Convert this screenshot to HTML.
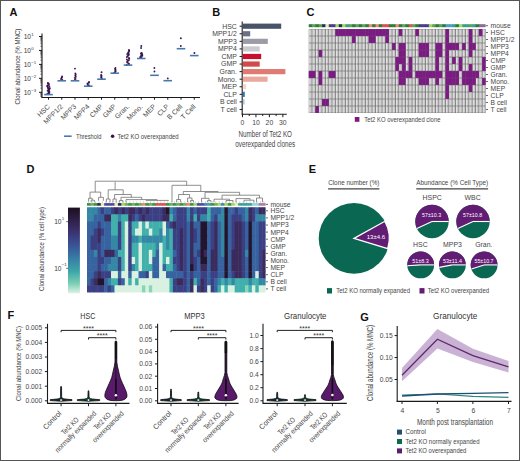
<!DOCTYPE html>
<html><head><meta charset="utf-8"><style>
html,body{margin:0;padding:0;background:#fff;}
body{width:520px;height:461px;overflow:hidden;}
svg{display:block;font-family:"Liberation Sans", sans-serif;}
</style></head><body>
<svg width="520" height="461" viewBox="0 0 520 461" shape-rendering="auto">
<rect x="0" y="0" width="520" height="461" fill="#fff"/>
<text x="9.4" y="16.4" font-size="11" text-anchor="start" fill="#111" font-weight="bold" >A</text>
<text x="212.2" y="16.4" font-size="11" text-anchor="start" fill="#111" font-weight="bold" >B</text>
<text x="306.6" y="16.4" font-size="11" text-anchor="start" fill="#111" font-weight="bold" >C</text>
<text x="26.6" y="172.8" font-size="11" text-anchor="start" fill="#111" font-weight="bold" >D</text>
<text x="308.8" y="173" font-size="11" text-anchor="start" fill="#111" font-weight="bold" >E</text>
<text x="7.6" y="318.8" font-size="11" text-anchor="start" fill="#111" font-weight="bold" >F</text>
<text x="360.2" y="321" font-size="11" text-anchor="start" fill="#111" font-weight="bold" >G</text>
<line x1="42" y1="33.5" x2="42" y2="98" stroke="#1a1a1a" stroke-width="1.1" />
<line x1="41.5" y1="97.5" x2="200" y2="97.5" stroke="#1a1a1a" stroke-width="1.1" />
<line x1="39" y1="36.5" x2="42" y2="36.5" stroke="#1a1a1a" stroke-width="1" />
<text x="31" y="38.8" font-size="6.6" text-anchor="end" fill="#3a3a3a" >10</text>
<text x="31.2" y="36.1" font-size="4.4" text-anchor="start" fill="#3a3a3a" >1</text>
<line x1="39" y1="50.45" x2="42" y2="50.45" stroke="#1a1a1a" stroke-width="1" />
<text x="31" y="52.75" font-size="6.6" text-anchor="end" fill="#3a3a3a" >10</text>
<text x="31.2" y="50.05" font-size="4.4" text-anchor="start" fill="#3a3a3a" >0</text>
<line x1="39" y1="64.4" x2="42" y2="64.4" stroke="#1a1a1a" stroke-width="1" />
<text x="31" y="66.7" font-size="6.6" text-anchor="end" fill="#3a3a3a" >10</text>
<text x="31.2" y="64" font-size="4.4" text-anchor="start" fill="#3a3a3a" >−1</text>
<line x1="39" y1="78.35" x2="42" y2="78.35" stroke="#1a1a1a" stroke-width="1" />
<text x="31" y="80.65" font-size="6.6" text-anchor="end" fill="#3a3a3a" >10</text>
<text x="31.2" y="77.95" font-size="4.4" text-anchor="start" fill="#3a3a3a" >−2</text>
<line x1="39" y1="92.3" x2="42" y2="92.3" stroke="#1a1a1a" stroke-width="1" />
<text x="31" y="94.6" font-size="6.6" text-anchor="end" fill="#3a3a3a" >10</text>
<text x="31.2" y="91.9" font-size="4.4" text-anchor="start" fill="#3a3a3a" >−3</text>
<line x1="40.4" y1="46.25" x2="42" y2="46.25" stroke="#1a1a1a" stroke-width="0.6" />
<line x1="40.4" y1="43.79" x2="42" y2="43.79" stroke="#1a1a1a" stroke-width="0.6" />
<line x1="40.4" y1="42.05" x2="42" y2="42.05" stroke="#1a1a1a" stroke-width="0.6" />
<line x1="40.4" y1="40.7" x2="42" y2="40.7" stroke="#1a1a1a" stroke-width="0.6" />
<line x1="40.4" y1="39.59" x2="42" y2="39.59" stroke="#1a1a1a" stroke-width="0.6" />
<line x1="40.4" y1="38.66" x2="42" y2="38.66" stroke="#1a1a1a" stroke-width="0.6" />
<line x1="40.4" y1="37.85" x2="42" y2="37.85" stroke="#1a1a1a" stroke-width="0.6" />
<line x1="40.4" y1="37.14" x2="42" y2="37.14" stroke="#1a1a1a" stroke-width="0.6" />
<line x1="40.4" y1="60.2" x2="42" y2="60.2" stroke="#1a1a1a" stroke-width="0.6" />
<line x1="40.4" y1="57.74" x2="42" y2="57.74" stroke="#1a1a1a" stroke-width="0.6" />
<line x1="40.4" y1="56" x2="42" y2="56" stroke="#1a1a1a" stroke-width="0.6" />
<line x1="40.4" y1="54.65" x2="42" y2="54.65" stroke="#1a1a1a" stroke-width="0.6" />
<line x1="40.4" y1="53.54" x2="42" y2="53.54" stroke="#1a1a1a" stroke-width="0.6" />
<line x1="40.4" y1="52.61" x2="42" y2="52.61" stroke="#1a1a1a" stroke-width="0.6" />
<line x1="40.4" y1="51.8" x2="42" y2="51.8" stroke="#1a1a1a" stroke-width="0.6" />
<line x1="40.4" y1="51.09" x2="42" y2="51.09" stroke="#1a1a1a" stroke-width="0.6" />
<line x1="40.4" y1="74.15" x2="42" y2="74.15" stroke="#1a1a1a" stroke-width="0.6" />
<line x1="40.4" y1="71.69" x2="42" y2="71.69" stroke="#1a1a1a" stroke-width="0.6" />
<line x1="40.4" y1="69.95" x2="42" y2="69.95" stroke="#1a1a1a" stroke-width="0.6" />
<line x1="40.4" y1="68.6" x2="42" y2="68.6" stroke="#1a1a1a" stroke-width="0.6" />
<line x1="40.4" y1="67.49" x2="42" y2="67.49" stroke="#1a1a1a" stroke-width="0.6" />
<line x1="40.4" y1="66.56" x2="42" y2="66.56" stroke="#1a1a1a" stroke-width="0.6" />
<line x1="40.4" y1="65.75" x2="42" y2="65.75" stroke="#1a1a1a" stroke-width="0.6" />
<line x1="40.4" y1="65.04" x2="42" y2="65.04" stroke="#1a1a1a" stroke-width="0.6" />
<line x1="40.4" y1="88.1" x2="42" y2="88.1" stroke="#1a1a1a" stroke-width="0.6" />
<line x1="40.4" y1="85.64" x2="42" y2="85.64" stroke="#1a1a1a" stroke-width="0.6" />
<line x1="40.4" y1="83.9" x2="42" y2="83.9" stroke="#1a1a1a" stroke-width="0.6" />
<line x1="40.4" y1="82.55" x2="42" y2="82.55" stroke="#1a1a1a" stroke-width="0.6" />
<line x1="40.4" y1="81.44" x2="42" y2="81.44" stroke="#1a1a1a" stroke-width="0.6" />
<line x1="40.4" y1="80.51" x2="42" y2="80.51" stroke="#1a1a1a" stroke-width="0.6" />
<line x1="40.4" y1="79.7" x2="42" y2="79.7" stroke="#1a1a1a" stroke-width="0.6" />
<line x1="40.4" y1="78.99" x2="42" y2="78.99" stroke="#1a1a1a" stroke-width="0.6" />
<line x1="40.4" y1="96.5" x2="42" y2="96.5" stroke="#1a1a1a" stroke-width="0.6" />
<line x1="40.4" y1="95.39" x2="42" y2="95.39" stroke="#1a1a1a" stroke-width="0.6" />
<line x1="40.4" y1="94.46" x2="42" y2="94.46" stroke="#1a1a1a" stroke-width="0.6" />
<line x1="40.4" y1="93.65" x2="42" y2="93.65" stroke="#1a1a1a" stroke-width="0.6" />
<line x1="40.4" y1="92.94" x2="42" y2="92.94" stroke="#1a1a1a" stroke-width="0.6" />
<text x="20" y="66.6" font-size="7.8" text-anchor="middle" fill="#454545" transform="rotate(-90 20 66.6)" textLength="76" lengthAdjust="spacingAndGlyphs" >Clonal abundance (% MNC)</text>
<line x1="48.5" y1="97.5" x2="48.5" y2="99.7" stroke="#1a1a1a" stroke-width="1" />
<text x="50.3" y="107.1" font-size="6.9" text-anchor="end" fill="#454545" transform="rotate(-45 50.3 107.1)" >HSC</text>
<line x1="61.75" y1="97.5" x2="61.75" y2="99.7" stroke="#1a1a1a" stroke-width="1" />
<text x="63.55" y="107.1" font-size="6.9" text-anchor="end" fill="#454545" transform="rotate(-45 63.55 107.1)" >MPP1/2</text>
<line x1="75" y1="97.5" x2="75" y2="99.7" stroke="#1a1a1a" stroke-width="1" />
<text x="76.8" y="107.1" font-size="6.9" text-anchor="end" fill="#454545" transform="rotate(-45 76.8 107.1)" >MPP3</text>
<line x1="88.25" y1="97.5" x2="88.25" y2="99.7" stroke="#1a1a1a" stroke-width="1" />
<text x="90.05" y="107.1" font-size="6.9" text-anchor="end" fill="#454545" transform="rotate(-45 90.05 107.1)" >MPP4</text>
<line x1="101.5" y1="97.5" x2="101.5" y2="99.7" stroke="#1a1a1a" stroke-width="1" />
<text x="103.3" y="107.1" font-size="6.9" text-anchor="end" fill="#454545" transform="rotate(-45 103.3 107.1)" >CMP</text>
<line x1="114.75" y1="97.5" x2="114.75" y2="99.7" stroke="#1a1a1a" stroke-width="1" />
<text x="116.55" y="107.1" font-size="6.9" text-anchor="end" fill="#454545" transform="rotate(-45 116.55 107.1)" >GMP</text>
<line x1="128" y1="97.5" x2="128" y2="99.7" stroke="#1a1a1a" stroke-width="1" />
<text x="129.8" y="107.1" font-size="6.9" text-anchor="end" fill="#454545" transform="rotate(-45 129.8 107.1)" >Gran.</text>
<line x1="141.25" y1="97.5" x2="141.25" y2="99.7" stroke="#1a1a1a" stroke-width="1" />
<text x="143.05" y="107.1" font-size="6.9" text-anchor="end" fill="#454545" transform="rotate(-45 143.05 107.1)" >Mono.</text>
<line x1="154.5" y1="97.5" x2="154.5" y2="99.7" stroke="#1a1a1a" stroke-width="1" />
<text x="156.3" y="107.1" font-size="6.9" text-anchor="end" fill="#454545" transform="rotate(-45 156.3 107.1)" >MEP</text>
<line x1="167.75" y1="97.5" x2="167.75" y2="99.7" stroke="#1a1a1a" stroke-width="1" />
<text x="169.55" y="107.1" font-size="6.9" text-anchor="end" fill="#454545" transform="rotate(-45 169.55 107.1)" >CLP</text>
<line x1="181" y1="97.5" x2="181" y2="99.7" stroke="#1a1a1a" stroke-width="1" />
<text x="182.8" y="107.1" font-size="6.9" text-anchor="end" fill="#454545" transform="rotate(-45 182.8 107.1)" >B Cell</text>
<line x1="194.25" y1="97.5" x2="194.25" y2="99.7" stroke="#1a1a1a" stroke-width="1" />
<text x="196.05" y="107.1" font-size="6.9" text-anchor="end" fill="#454545" transform="rotate(-45 196.05 107.1)" >T Cell</text>
<circle cx="47.82" cy="83" r="0.95" fill="#3a1650" />
<circle cx="48.61" cy="83.52" r="0.95" fill="#3a1650" />
<circle cx="48.16" cy="84.05" r="0.95" fill="#3a1650" />
<circle cx="48.77" cy="84.57" r="0.95" fill="#3a1650" />
<circle cx="48.83" cy="85.1" r="0.95" fill="#3a1650" />
<circle cx="47.37" cy="85.62" r="0.95" fill="#3a1650" />
<circle cx="47.23" cy="86.14" r="0.95" fill="#3a1650" />
<circle cx="49.38" cy="86.67" r="0.95" fill="#3a1650" />
<circle cx="47.87" cy="87.19" r="0.95" fill="#3a1650" />
<circle cx="47.81" cy="87.71" r="0.95" fill="#3a1650" />
<circle cx="49.79" cy="88.24" r="0.95" fill="#3a1650" />
<circle cx="48.42" cy="88.76" r="0.95" fill="#3a1650" />
<circle cx="49.37" cy="89.29" r="0.95" fill="#3a1650" />
<circle cx="48.44" cy="89.81" r="0.95" fill="#3a1650" />
<circle cx="48.86" cy="90.33" r="0.95" fill="#3a1650" />
<circle cx="47.59" cy="90.86" r="0.95" fill="#3a1650" />
<circle cx="48.85" cy="91.38" r="0.95" fill="#3a1650" />
<circle cx="49.46" cy="91.9" r="0.95" fill="#3a1650" />
<circle cx="48.56" cy="92.43" r="0.95" fill="#3a1650" />
<circle cx="49.13" cy="92.95" r="0.95" fill="#3a1650" />
<circle cx="48.95" cy="93.48" r="0.95" fill="#3a1650" />
<circle cx="47.37" cy="94" r="0.95" fill="#3a1650" />
<circle cx="62.14" cy="76.5" r="0.95" fill="#3a1650" />
<circle cx="61.89" cy="77.38" r="0.95" fill="#3a1650" />
<circle cx="61.45" cy="78.25" r="0.95" fill="#3a1650" />
<circle cx="61.05" cy="79.12" r="0.95" fill="#3a1650" />
<circle cx="62.3" cy="80" r="0.95" fill="#3a1650" />
<circle cx="74.99" cy="68.6" r="0.95" fill="#3a1650" />
<circle cx="75.38" cy="73.5" r="0.95" fill="#3a1650" />
<circle cx="75.66" cy="74.58" r="0.95" fill="#3a1650" />
<circle cx="75.37" cy="75.67" r="0.95" fill="#3a1650" />
<circle cx="75.73" cy="76.75" r="0.95" fill="#3a1650" />
<circle cx="74.82" cy="77.83" r="0.95" fill="#3a1650" />
<circle cx="75.52" cy="78.92" r="0.95" fill="#3a1650" />
<circle cx="74.9" cy="80" r="0.95" fill="#3a1650" />
<circle cx="89.01" cy="82" r="0.95" fill="#3a1650" />
<circle cx="88.91" cy="82.67" r="0.95" fill="#3a1650" />
<circle cx="87.55" cy="83.33" r="0.95" fill="#3a1650" />
<circle cx="87.62" cy="84" r="0.95" fill="#3a1650" />
<circle cx="87.76" cy="84.67" r="0.95" fill="#3a1650" />
<circle cx="89.06" cy="85.33" r="0.95" fill="#3a1650" />
<circle cx="88.14" cy="86" r="0.95" fill="#3a1650" />
<circle cx="101.55" cy="72.2" r="0.95" fill="#3a1650" />
<circle cx="101.18" cy="75" r="0.95" fill="#3a1650" />
<circle cx="101.51" cy="75.8" r="0.95" fill="#3a1650" />
<circle cx="101.32" cy="76.6" r="0.95" fill="#3a1650" />
<circle cx="101.26" cy="77.4" r="0.95" fill="#3a1650" />
<circle cx="101.64" cy="78.2" r="0.95" fill="#3a1650" />
<circle cx="101.64" cy="79" r="0.95" fill="#3a1650" />
<circle cx="115.45" cy="68" r="0.95" fill="#3a1650" />
<circle cx="115.07" cy="68.83" r="0.95" fill="#3a1650" />
<circle cx="115.5" cy="69.67" r="0.95" fill="#3a1650" />
<circle cx="115.37" cy="70.5" r="0.95" fill="#3a1650" />
<circle cx="115.6" cy="71.33" r="0.95" fill="#3a1650" />
<circle cx="115.05" cy="72.17" r="0.95" fill="#3a1650" />
<circle cx="114.16" cy="73" r="0.95" fill="#3a1650" />
<circle cx="128.94" cy="50" r="0.95" fill="#3a1650" />
<circle cx="129.21" cy="50.79" r="0.95" fill="#3a1650" />
<circle cx="129.05" cy="51.58" r="0.95" fill="#3a1650" />
<circle cx="128.18" cy="52.37" r="0.95" fill="#3a1650" />
<circle cx="128.56" cy="53.16" r="0.95" fill="#3a1650" />
<circle cx="127.25" cy="53.95" r="0.95" fill="#3a1650" />
<circle cx="128.86" cy="54.74" r="0.95" fill="#3a1650" />
<circle cx="128.19" cy="55.53" r="0.95" fill="#3a1650" />
<circle cx="127.44" cy="56.32" r="0.95" fill="#3a1650" />
<circle cx="126.86" cy="57.11" r="0.95" fill="#3a1650" />
<circle cx="128.92" cy="57.89" r="0.95" fill="#3a1650" />
<circle cx="129.27" cy="58.68" r="0.95" fill="#3a1650" />
<circle cx="126.93" cy="59.47" r="0.95" fill="#3a1650" />
<circle cx="128.78" cy="60.26" r="0.95" fill="#3a1650" />
<circle cx="127.77" cy="61.05" r="0.95" fill="#3a1650" />
<circle cx="127.09" cy="61.84" r="0.95" fill="#3a1650" />
<circle cx="127.46" cy="62.63" r="0.95" fill="#3a1650" />
<circle cx="128.7" cy="63.42" r="0.95" fill="#3a1650" />
<circle cx="128.97" cy="64.21" r="0.95" fill="#3a1650" />
<circle cx="126.81" cy="65" r="0.95" fill="#3a1650" />
<circle cx="141.3" cy="46" r="0.95" fill="#3a1650" />
<circle cx="141.07" cy="48" r="0.95" fill="#3a1650" />
<circle cx="141.71" cy="53" r="0.95" fill="#3a1650" />
<circle cx="140.9" cy="53.56" r="0.95" fill="#3a1650" />
<circle cx="142.05" cy="54.11" r="0.95" fill="#3a1650" />
<circle cx="142.26" cy="54.67" r="0.95" fill="#3a1650" />
<circle cx="141.26" cy="55.22" r="0.95" fill="#3a1650" />
<circle cx="142.3" cy="55.78" r="0.95" fill="#3a1650" />
<circle cx="140.85" cy="56.33" r="0.95" fill="#3a1650" />
<circle cx="140.36" cy="56.89" r="0.95" fill="#3a1650" />
<circle cx="141.46" cy="57.44" r="0.95" fill="#3a1650" />
<circle cx="140.27" cy="58" r="0.95" fill="#3a1650" />
<circle cx="154.38" cy="68" r="0.95" fill="#3a1650" />
<circle cx="154.46" cy="71.5" r="0.95" fill="#3a1650" />
<circle cx="167.79" cy="78.4" r="0.95" fill="#3a1650" />
<circle cx="180.86" cy="38.3" r="0.95" fill="#3a1650" />
<circle cx="180.82" cy="46" r="0.95" fill="#3a1650" />
<circle cx="194.4" cy="53" r="0.95" fill="#3a1650" />
<line x1="44.2" y1="94.6" x2="52.8" y2="94.6" stroke="#4a78aa" stroke-width="1.6" />
<line x1="57.45" y1="80.8" x2="66.05" y2="80.8" stroke="#4a78aa" stroke-width="1.6" />
<line x1="70.7" y1="80.8" x2="79.3" y2="80.8" stroke="#4a78aa" stroke-width="1.6" />
<line x1="83.95" y1="86.2" x2="92.55" y2="86.2" stroke="#4a78aa" stroke-width="1.6" />
<line x1="97.2" y1="79.2" x2="105.8" y2="79.2" stroke="#4a78aa" stroke-width="1.6" />
<line x1="110.45" y1="73.2" x2="119.05" y2="73.2" stroke="#4a78aa" stroke-width="1.6" />
<line x1="123.7" y1="65.1" x2="132.3" y2="65.1" stroke="#4a78aa" stroke-width="1.6" />
<line x1="136.95" y1="58.5" x2="145.55" y2="58.5" stroke="#4a78aa" stroke-width="1.6" />
<line x1="150.2" y1="75.3" x2="158.8" y2="75.3" stroke="#4a78aa" stroke-width="1.6" />
<line x1="163.45" y1="80.7" x2="172.05" y2="80.7" stroke="#4a78aa" stroke-width="1.6" />
<line x1="176.7" y1="48.7" x2="185.3" y2="48.7" stroke="#4a78aa" stroke-width="1.6" />
<line x1="189.95" y1="55.6" x2="198.55" y2="55.6" stroke="#4a78aa" stroke-width="1.6" />
<line x1="64" y1="136.2" x2="71.6" y2="136.2" stroke="#4a78aa" stroke-width="1.6" />
<text x="75.9" y="138.7" font-size="6.8" text-anchor="start" fill="#454545" textLength="25.6" lengthAdjust="spacingAndGlyphs" >Threshold</text>
<circle cx="112.6" cy="136.2" r="1.8" fill="#3a1650" />
<text x="117.6" y="138.7" font-size="6.8" text-anchor="start" fill="#454545" textLength="61" lengthAdjust="spacingAndGlyphs" >Tet2 KO overexpanded</text>
<line x1="242.2" y1="21.5" x2="242.2" y2="114.7" stroke="#1a1a1a" stroke-width="1.1" />
<line x1="241.7" y1="114.2" x2="286.8" y2="114.2" stroke="#1a1a1a" stroke-width="1.1" />
<rect x="242.8" y="23.6" width="38.4" height="5.2" fill="#4a5469" />
<line x1="239.6" y1="26.2" x2="242.2" y2="26.2" stroke="#1a1a1a" stroke-width="1" />
<text x="236.8" y="28.6" font-size="6.9" text-anchor="end" fill="#454545" >HSC</text>
<rect x="242.8" y="31.17" width="7.4" height="5.2" fill="#6c7183" />
<line x1="239.6" y1="33.77" x2="242.2" y2="33.77" stroke="#1a1a1a" stroke-width="1" />
<text x="236.8" y="36.17" font-size="6.9" text-anchor="end" fill="#454545" >MPP1/2</text>
<rect x="242.8" y="38.74" width="25" height="5.2" fill="#9c9ca9" />
<line x1="239.6" y1="41.34" x2="242.2" y2="41.34" stroke="#1a1a1a" stroke-width="1" />
<text x="236.8" y="43.74" font-size="6.9" text-anchor="end" fill="#454545" >MPP3</text>
<rect x="242.8" y="46.31" width="16.9" height="5.2" fill="#cacad2" />
<line x1="239.6" y1="48.91" x2="242.2" y2="48.91" stroke="#1a1a1a" stroke-width="1" />
<text x="236.8" y="51.31" font-size="6.9" text-anchor="end" fill="#454545" >MPP4</text>
<rect x="242.8" y="53.88" width="18.4" height="5.2" fill="#c8102e" />
<line x1="239.6" y1="56.48" x2="242.2" y2="56.48" stroke="#1a1a1a" stroke-width="1" />
<text x="236.8" y="58.88" font-size="6.9" text-anchor="end" fill="#454545" >CMP</text>
<rect x="242.8" y="61.45" width="16.9" height="5.2" fill="#d24a4a" />
<line x1="239.6" y1="64.05" x2="242.2" y2="64.05" stroke="#1a1a1a" stroke-width="1" />
<text x="236.8" y="66.45" font-size="6.9" text-anchor="end" fill="#454545" >GMP</text>
<rect x="242.8" y="69.02" width="42.6" height="5.2" fill="#df7b72" />
<line x1="239.6" y1="71.62" x2="242.2" y2="71.62" stroke="#1a1a1a" stroke-width="1" />
<text x="236.8" y="74.02" font-size="6.9" text-anchor="end" fill="#454545" >Gran.</text>
<rect x="242.8" y="76.59" width="24.8" height="5.2" fill="#eaa99c" />
<line x1="239.6" y1="79.19" x2="242.2" y2="79.19" stroke="#1a1a1a" stroke-width="1" />
<text x="236.8" y="81.59" font-size="6.9" text-anchor="end" fill="#454545" >Mono.</text>
<rect x="242.8" y="84.16" width="3.4" height="5.2" fill="#f6d7cc" />
<line x1="239.6" y1="86.76" x2="242.2" y2="86.76" stroke="#1a1a1a" stroke-width="1" />
<text x="236.8" y="89.16" font-size="6.9" text-anchor="end" fill="#454545" >MEP</text>
<rect x="242.8" y="91.73" width="2" height="5.2" fill="#2c7bb6" />
<line x1="239.6" y1="94.33" x2="242.2" y2="94.33" stroke="#1a1a1a" stroke-width="1" />
<text x="236.8" y="96.73" font-size="6.9" text-anchor="end" fill="#454545" >CLP</text>
<rect x="242.8" y="99.3" width="1.8" height="5.2" fill="#abcae3" />
<line x1="239.6" y1="101.9" x2="242.2" y2="101.9" stroke="#1a1a1a" stroke-width="1" />
<text x="236.8" y="104.3" font-size="6.9" text-anchor="end" fill="#454545" >B cell</text>
<line x1="239.6" y1="109.47" x2="242.2" y2="109.47" stroke="#1a1a1a" stroke-width="1" />
<text x="236.8" y="111.87" font-size="6.9" text-anchor="end" fill="#454545" >T cell</text>
<line x1="242.5" y1="114.2" x2="242.5" y2="117.2" stroke="#1a1a1a" stroke-width="1" />
<text x="242.5" y="125.4" font-size="6.8" text-anchor="middle" fill="#454545" >0</text>
<line x1="249.22" y1="114.2" x2="249.22" y2="116" stroke="#1a1a1a" stroke-width="1" />
<line x1="255.95" y1="114.2" x2="255.95" y2="117.2" stroke="#1a1a1a" stroke-width="1" />
<text x="255.95" y="125.4" font-size="6.8" text-anchor="middle" fill="#454545" >10</text>
<line x1="262.68" y1="114.2" x2="262.68" y2="116" stroke="#1a1a1a" stroke-width="1" />
<line x1="269.4" y1="114.2" x2="269.4" y2="117.2" stroke="#1a1a1a" stroke-width="1" />
<text x="269.4" y="125.4" font-size="6.8" text-anchor="middle" fill="#454545" >20</text>
<line x1="276.12" y1="114.2" x2="276.12" y2="116" stroke="#1a1a1a" stroke-width="1" />
<line x1="282.85" y1="114.2" x2="282.85" y2="117.2" stroke="#1a1a1a" stroke-width="1" />
<text x="282.85" y="125.4" font-size="6.8" text-anchor="middle" fill="#454545" >30</text>
<text x="265.2" y="137" font-size="9.2" text-anchor="middle" fill="#454545" textLength="53.5" lengthAdjust="spacingAndGlyphs" >Number of Tet2 KO</text>
<text x="265.2" y="146.9" font-size="9.2" text-anchor="middle" fill="#454545" textLength="59.9" lengthAdjust="spacingAndGlyphs" >overexpanded clones</text>
<rect x="308.75" y="24.2" width="3.84" height="3" fill="#2f7a3a" />
<rect x="312.09" y="24.2" width="3.84" height="3" fill="#5ba35a" />
<rect x="315.42" y="24.2" width="3.84" height="3" fill="#2f7a3a" />
<rect x="318.76" y="24.2" width="3.84" height="3" fill="#5ba35a" />
<rect x="322.1" y="24.2" width="3.84" height="3" fill="#1f2f55" />
<rect x="325.43" y="24.2" width="3.84" height="3" fill="#ecebb0" />
<rect x="328.77" y="24.2" width="3.84" height="3" fill="#4a3c8c" />
<rect x="332.11" y="24.2" width="3.84" height="3" fill="#4a3c8c" />
<rect x="335.44" y="24.2" width="3.84" height="3" fill="#a4d65e" />
<rect x="338.78" y="24.2" width="3.84" height="3" fill="#1f2f55" />
<rect x="342.12" y="24.2" width="3.84" height="3" fill="#a4d65e" />
<rect x="345.45" y="24.2" width="3.84" height="3" fill="#3aa08a" />
<rect x="348.79" y="24.2" width="3.84" height="3" fill="#5ba35a" />
<rect x="352.13" y="24.2" width="3.84" height="3" fill="#2f7a3a" />
<rect x="355.47" y="24.2" width="3.84" height="3" fill="#5ba35a" />
<rect x="358.8" y="24.2" width="3.84" height="3" fill="#2f7a3a" />
<rect x="362.14" y="24.2" width="3.84" height="3" fill="#5ba35a" />
<rect x="365.48" y="24.2" width="3.84" height="3" fill="#2f7a3a" />
<rect x="368.81" y="24.2" width="3.84" height="3" fill="#e58a6f" />
<rect x="372.15" y="24.2" width="3.84" height="3" fill="#2f7a3a" />
<rect x="375.49" y="24.2" width="3.84" height="3" fill="#e58a6f" />
<rect x="378.82" y="24.2" width="3.84" height="3" fill="#2f7a3a" />
<rect x="382.16" y="24.2" width="3.84" height="3" fill="#d9534f" />
<rect x="385.5" y="24.2" width="3.84" height="3" fill="#d9534f" />
<rect x="388.83" y="24.2" width="3.84" height="3" fill="#2f7a3a" />
<rect x="392.17" y="24.2" width="3.84" height="3" fill="#2f7a3a" />
<rect x="395.51" y="24.2" width="3.84" height="3" fill="#e58a6f" />
<rect x="398.84" y="24.2" width="3.84" height="3" fill="#2f7a3a" />
<rect x="402.18" y="24.2" width="3.84" height="3" fill="#5ba35a" />
<rect x="405.52" y="24.2" width="3.84" height="3" fill="#2f7a3a" />
<rect x="408.85" y="24.2" width="3.84" height="3" fill="#d9534f" />
<rect x="412.19" y="24.2" width="3.84" height="3" fill="#5ba35a" />
<rect x="415.53" y="24.2" width="3.84" height="3" fill="#2f7a3a" />
<rect x="418.86" y="24.2" width="3.84" height="3" fill="#4a3c8c" />
<rect x="422.2" y="24.2" width="3.84" height="3" fill="#4a3c8c" />
<rect x="425.54" y="24.2" width="3.84" height="3" fill="#4a3c8c" />
<rect x="428.87" y="24.2" width="3.84" height="3" fill="#a4d65e" />
<rect x="432.21" y="24.2" width="3.84" height="3" fill="#5ba35a" />
<rect x="435.55" y="24.2" width="3.84" height="3" fill="#2f7a3a" />
<rect x="438.88" y="24.2" width="3.84" height="3" fill="#5ba35a" />
<rect x="442.22" y="24.2" width="3.84" height="3" fill="#2f7a3a" />
<rect x="445.56" y="24.2" width="3.84" height="3" fill="#4a9fc8" />
<rect x="448.9" y="24.2" width="3.84" height="3" fill="#4a9fc8" />
<rect x="452.23" y="24.2" width="3.84" height="3" fill="#3aa08a" />
<rect x="455.57" y="24.2" width="3.84" height="3" fill="#2f7a3a" />
<rect x="458.91" y="24.2" width="3.84" height="3" fill="#a4d65e" />
<rect x="462.24" y="24.2" width="3.84" height="3" fill="#3aa08a" />
<rect x="465.58" y="24.2" width="3.84" height="3" fill="#3aa08a" />
<rect x="468.92" y="24.2" width="3.84" height="3" fill="#5ba35a" />
<rect x="472.25" y="24.2" width="3.84" height="3" fill="#3aa08a" />
<rect x="475.59" y="24.2" width="3.84" height="3" fill="#2f7a3a" />
<rect x="478.93" y="24.2" width="3.84" height="3" fill="#8a6a9a" />
<rect x="482.26" y="24.2" width="3.34" height="3" fill="#8a6a9a" />
<rect x="308.75" y="29" width="176.85" height="84" fill="#7c7c7c" />
<rect x="309.17" y="29.45" width="2.5" height="6.1" fill="#c8c8c8" />
<line x1="309.75" y1="29.4" x2="309.75" y2="35.6" stroke="#eeeeee" stroke-width="0.7" />
<rect x="312.51" y="29.45" width="2.5" height="6.1" fill="#c8c8c8" />
<line x1="313.09" y1="29.4" x2="313.09" y2="35.6" stroke="#eeeeee" stroke-width="0.7" />
<rect x="315.84" y="29.45" width="2.5" height="6.1" fill="#c8c8c8" />
<line x1="316.42" y1="29.4" x2="316.42" y2="35.6" stroke="#eeeeee" stroke-width="0.7" />
<rect x="319.18" y="29.45" width="2.5" height="6.1" fill="#c8c8c8" />
<line x1="319.76" y1="29.4" x2="319.76" y2="35.6" stroke="#eeeeee" stroke-width="0.7" />
<rect x="322.52" y="29.45" width="2.5" height="6.1" fill="#c8c8c8" />
<line x1="323.1" y1="29.4" x2="323.1" y2="35.6" stroke="#eeeeee" stroke-width="0.7" />
<rect x="325.85" y="29.45" width="2.5" height="6.1" fill="#c8c8c8" />
<line x1="326.43" y1="29.4" x2="326.43" y2="35.6" stroke="#eeeeee" stroke-width="0.7" />
<rect x="329.19" y="29.45" width="2.5" height="6.1" fill="#c8c8c8" />
<line x1="329.77" y1="29.4" x2="329.77" y2="35.6" stroke="#eeeeee" stroke-width="0.7" />
<rect x="332.53" y="29.45" width="2.5" height="6.1" fill="#c8c8c8" />
<line x1="333.11" y1="29.4" x2="333.11" y2="35.6" stroke="#eeeeee" stroke-width="0.7" />
<rect x="389.25" y="29.45" width="2.5" height="6.1" fill="#c8c8c8" />
<line x1="389.83" y1="29.4" x2="389.83" y2="35.6" stroke="#eeeeee" stroke-width="0.7" />
<rect x="392.59" y="29.45" width="2.5" height="6.1" fill="#c8c8c8" />
<line x1="393.17" y1="29.4" x2="393.17" y2="35.6" stroke="#eeeeee" stroke-width="0.7" />
<rect x="395.93" y="29.45" width="2.5" height="6.1" fill="#c8c8c8" />
<line x1="396.51" y1="29.4" x2="396.51" y2="35.6" stroke="#eeeeee" stroke-width="0.7" />
<rect x="402.6" y="29.45" width="2.5" height="6.1" fill="#c8c8c8" />
<line x1="403.18" y1="29.4" x2="403.18" y2="35.6" stroke="#eeeeee" stroke-width="0.7" />
<rect x="405.94" y="29.45" width="2.5" height="6.1" fill="#c8c8c8" />
<line x1="406.52" y1="29.4" x2="406.52" y2="35.6" stroke="#eeeeee" stroke-width="0.7" />
<rect x="409.27" y="29.45" width="2.5" height="6.1" fill="#c8c8c8" />
<line x1="409.85" y1="29.4" x2="409.85" y2="35.6" stroke="#eeeeee" stroke-width="0.7" />
<rect x="412.61" y="29.45" width="2.5" height="6.1" fill="#c8c8c8" />
<line x1="413.19" y1="29.4" x2="413.19" y2="35.6" stroke="#eeeeee" stroke-width="0.7" />
<rect x="419.28" y="29.45" width="2.5" height="6.1" fill="#c8c8c8" />
<line x1="419.86" y1="29.4" x2="419.86" y2="35.6" stroke="#eeeeee" stroke-width="0.7" />
<rect x="422.62" y="29.45" width="2.5" height="6.1" fill="#c8c8c8" />
<line x1="423.2" y1="29.4" x2="423.2" y2="35.6" stroke="#eeeeee" stroke-width="0.7" />
<rect x="425.96" y="29.45" width="2.5" height="6.1" fill="#c8c8c8" />
<line x1="426.54" y1="29.4" x2="426.54" y2="35.6" stroke="#eeeeee" stroke-width="0.7" />
<rect x="429.29" y="29.45" width="2.5" height="6.1" fill="#c8c8c8" />
<line x1="429.87" y1="29.4" x2="429.87" y2="35.6" stroke="#eeeeee" stroke-width="0.7" />
<rect x="432.63" y="29.45" width="2.5" height="6.1" fill="#c8c8c8" />
<line x1="433.21" y1="29.4" x2="433.21" y2="35.6" stroke="#eeeeee" stroke-width="0.7" />
<rect x="435.97" y="29.45" width="2.5" height="6.1" fill="#c8c8c8" />
<line x1="436.55" y1="29.4" x2="436.55" y2="35.6" stroke="#eeeeee" stroke-width="0.7" />
<rect x="439.3" y="29.45" width="2.5" height="6.1" fill="#c8c8c8" />
<line x1="439.88" y1="29.4" x2="439.88" y2="35.6" stroke="#eeeeee" stroke-width="0.7" />
<rect x="442.64" y="29.45" width="2.5" height="6.1" fill="#c8c8c8" />
<line x1="443.22" y1="29.4" x2="443.22" y2="35.6" stroke="#eeeeee" stroke-width="0.7" />
<rect x="449.32" y="29.45" width="2.5" height="6.1" fill="#c8c8c8" />
<line x1="449.9" y1="29.4" x2="449.9" y2="35.6" stroke="#eeeeee" stroke-width="0.7" />
<rect x="452.65" y="29.45" width="2.5" height="6.1" fill="#c8c8c8" />
<line x1="453.23" y1="29.4" x2="453.23" y2="35.6" stroke="#eeeeee" stroke-width="0.7" />
<rect x="455.99" y="29.45" width="2.5" height="6.1" fill="#c8c8c8" />
<line x1="456.57" y1="29.4" x2="456.57" y2="35.6" stroke="#eeeeee" stroke-width="0.7" />
<rect x="459.33" y="29.45" width="2.5" height="6.1" fill="#c8c8c8" />
<line x1="459.91" y1="29.4" x2="459.91" y2="35.6" stroke="#eeeeee" stroke-width="0.7" />
<rect x="462.66" y="29.45" width="2.5" height="6.1" fill="#c8c8c8" />
<line x1="463.24" y1="29.4" x2="463.24" y2="35.6" stroke="#eeeeee" stroke-width="0.7" />
<rect x="466" y="29.45" width="2.5" height="6.1" fill="#c8c8c8" />
<line x1="466.58" y1="29.4" x2="466.58" y2="35.6" stroke="#eeeeee" stroke-width="0.7" />
<rect x="472.67" y="29.45" width="2.5" height="6.1" fill="#c8c8c8" />
<line x1="473.25" y1="29.4" x2="473.25" y2="35.6" stroke="#eeeeee" stroke-width="0.7" />
<rect x="476.01" y="29.45" width="2.5" height="6.1" fill="#c8c8c8" />
<line x1="476.59" y1="29.4" x2="476.59" y2="35.6" stroke="#eeeeee" stroke-width="0.7" />
<rect x="482.68" y="29.45" width="2.5" height="6.1" fill="#c8c8c8" />
<line x1="483.26" y1="29.4" x2="483.26" y2="35.6" stroke="#eeeeee" stroke-width="0.7" />
<rect x="309.17" y="36.45" width="2.5" height="6.1" fill="#c8c8c8" />
<line x1="309.75" y1="36.4" x2="309.75" y2="42.6" stroke="#eeeeee" stroke-width="0.7" />
<rect x="312.51" y="36.45" width="2.5" height="6.1" fill="#c8c8c8" />
<line x1="313.09" y1="36.4" x2="313.09" y2="42.6" stroke="#eeeeee" stroke-width="0.7" />
<rect x="315.84" y="36.45" width="2.5" height="6.1" fill="#c8c8c8" />
<line x1="316.42" y1="36.4" x2="316.42" y2="42.6" stroke="#eeeeee" stroke-width="0.7" />
<rect x="319.18" y="36.45" width="2.5" height="6.1" fill="#c8c8c8" />
<line x1="319.76" y1="36.4" x2="319.76" y2="42.6" stroke="#eeeeee" stroke-width="0.7" />
<rect x="322.52" y="36.45" width="2.5" height="6.1" fill="#c8c8c8" />
<line x1="323.1" y1="36.4" x2="323.1" y2="42.6" stroke="#eeeeee" stroke-width="0.7" />
<rect x="325.85" y="36.45" width="2.5" height="6.1" fill="#c8c8c8" />
<line x1="326.43" y1="36.4" x2="326.43" y2="42.6" stroke="#eeeeee" stroke-width="0.7" />
<rect x="329.19" y="36.45" width="2.5" height="6.1" fill="#c8c8c8" />
<line x1="329.77" y1="36.4" x2="329.77" y2="42.6" stroke="#eeeeee" stroke-width="0.7" />
<rect x="332.53" y="36.45" width="2.5" height="6.1" fill="#c8c8c8" />
<line x1="333.11" y1="36.4" x2="333.11" y2="42.6" stroke="#eeeeee" stroke-width="0.7" />
<rect x="335.86" y="36.45" width="2.5" height="6.1" fill="#c8c8c8" />
<line x1="336.44" y1="36.4" x2="336.44" y2="42.6" stroke="#eeeeee" stroke-width="0.7" />
<rect x="339.2" y="36.45" width="2.5" height="6.1" fill="#c8c8c8" />
<line x1="339.78" y1="36.4" x2="339.78" y2="42.6" stroke="#eeeeee" stroke-width="0.7" />
<rect x="342.54" y="36.45" width="2.5" height="6.1" fill="#c8c8c8" />
<line x1="343.12" y1="36.4" x2="343.12" y2="42.6" stroke="#eeeeee" stroke-width="0.7" />
<rect x="345.87" y="36.45" width="2.5" height="6.1" fill="#c8c8c8" />
<line x1="346.45" y1="36.4" x2="346.45" y2="42.6" stroke="#eeeeee" stroke-width="0.7" />
<rect x="349.21" y="36.45" width="2.5" height="6.1" fill="#c8c8c8" />
<line x1="349.79" y1="36.4" x2="349.79" y2="42.6" stroke="#eeeeee" stroke-width="0.7" />
<rect x="355.89" y="36.45" width="2.5" height="6.1" fill="#c8c8c8" />
<line x1="356.47" y1="36.4" x2="356.47" y2="42.6" stroke="#eeeeee" stroke-width="0.7" />
<rect x="359.22" y="36.45" width="2.5" height="6.1" fill="#c8c8c8" />
<line x1="359.8" y1="36.4" x2="359.8" y2="42.6" stroke="#eeeeee" stroke-width="0.7" />
<rect x="362.56" y="36.45" width="2.5" height="6.1" fill="#c8c8c8" />
<line x1="363.14" y1="36.4" x2="363.14" y2="42.6" stroke="#eeeeee" stroke-width="0.7" />
<rect x="365.9" y="36.45" width="2.5" height="6.1" fill="#c8c8c8" />
<line x1="366.48" y1="36.4" x2="366.48" y2="42.6" stroke="#eeeeee" stroke-width="0.7" />
<rect x="375.91" y="36.45" width="2.5" height="6.1" fill="#c8c8c8" />
<line x1="376.49" y1="36.4" x2="376.49" y2="42.6" stroke="#eeeeee" stroke-width="0.7" />
<rect x="379.24" y="36.45" width="2.5" height="6.1" fill="#c8c8c8" />
<line x1="379.82" y1="36.4" x2="379.82" y2="42.6" stroke="#eeeeee" stroke-width="0.7" />
<rect x="382.58" y="36.45" width="2.5" height="6.1" fill="#c8c8c8" />
<line x1="383.16" y1="36.4" x2="383.16" y2="42.6" stroke="#eeeeee" stroke-width="0.7" />
<rect x="389.25" y="36.45" width="2.5" height="6.1" fill="#c8c8c8" />
<line x1="389.83" y1="36.4" x2="389.83" y2="42.6" stroke="#eeeeee" stroke-width="0.7" />
<rect x="392.59" y="36.45" width="2.5" height="6.1" fill="#c8c8c8" />
<line x1="393.17" y1="36.4" x2="393.17" y2="42.6" stroke="#eeeeee" stroke-width="0.7" />
<rect x="395.93" y="36.45" width="2.5" height="6.1" fill="#c8c8c8" />
<line x1="396.51" y1="36.4" x2="396.51" y2="42.6" stroke="#eeeeee" stroke-width="0.7" />
<rect x="399.26" y="36.45" width="2.5" height="6.1" fill="#c8c8c8" />
<line x1="399.84" y1="36.4" x2="399.84" y2="42.6" stroke="#eeeeee" stroke-width="0.7" />
<rect x="402.6" y="36.45" width="2.5" height="6.1" fill="#c8c8c8" />
<line x1="403.18" y1="36.4" x2="403.18" y2="42.6" stroke="#eeeeee" stroke-width="0.7" />
<rect x="405.94" y="36.45" width="2.5" height="6.1" fill="#c8c8c8" />
<line x1="406.52" y1="36.4" x2="406.52" y2="42.6" stroke="#eeeeee" stroke-width="0.7" />
<rect x="409.27" y="36.45" width="2.5" height="6.1" fill="#c8c8c8" />
<line x1="409.85" y1="36.4" x2="409.85" y2="42.6" stroke="#eeeeee" stroke-width="0.7" />
<rect x="412.61" y="36.45" width="2.5" height="6.1" fill="#c8c8c8" />
<line x1="413.19" y1="36.4" x2="413.19" y2="42.6" stroke="#eeeeee" stroke-width="0.7" />
<rect x="415.95" y="36.45" width="2.5" height="6.1" fill="#c8c8c8" />
<line x1="416.53" y1="36.4" x2="416.53" y2="42.6" stroke="#eeeeee" stroke-width="0.7" />
<rect x="419.28" y="36.45" width="2.5" height="6.1" fill="#c8c8c8" />
<line x1="419.86" y1="36.4" x2="419.86" y2="42.6" stroke="#eeeeee" stroke-width="0.7" />
<rect x="422.62" y="36.45" width="2.5" height="6.1" fill="#c8c8c8" />
<line x1="423.2" y1="36.4" x2="423.2" y2="42.6" stroke="#eeeeee" stroke-width="0.7" />
<rect x="425.96" y="36.45" width="2.5" height="6.1" fill="#c8c8c8" />
<line x1="426.54" y1="36.4" x2="426.54" y2="42.6" stroke="#eeeeee" stroke-width="0.7" />
<rect x="429.29" y="36.45" width="2.5" height="6.1" fill="#c8c8c8" />
<line x1="429.87" y1="36.4" x2="429.87" y2="42.6" stroke="#eeeeee" stroke-width="0.7" />
<rect x="432.63" y="36.45" width="2.5" height="6.1" fill="#c8c8c8" />
<line x1="433.21" y1="36.4" x2="433.21" y2="42.6" stroke="#eeeeee" stroke-width="0.7" />
<rect x="435.97" y="36.45" width="2.5" height="6.1" fill="#c8c8c8" />
<line x1="436.55" y1="36.4" x2="436.55" y2="42.6" stroke="#eeeeee" stroke-width="0.7" />
<rect x="439.3" y="36.45" width="2.5" height="6.1" fill="#c8c8c8" />
<line x1="439.88" y1="36.4" x2="439.88" y2="42.6" stroke="#eeeeee" stroke-width="0.7" />
<rect x="442.64" y="36.45" width="2.5" height="6.1" fill="#c8c8c8" />
<line x1="443.22" y1="36.4" x2="443.22" y2="42.6" stroke="#eeeeee" stroke-width="0.7" />
<rect x="449.32" y="36.45" width="2.5" height="6.1" fill="#c8c8c8" />
<line x1="449.9" y1="36.4" x2="449.9" y2="42.6" stroke="#eeeeee" stroke-width="0.7" />
<rect x="452.65" y="36.45" width="2.5" height="6.1" fill="#c8c8c8" />
<line x1="453.23" y1="36.4" x2="453.23" y2="42.6" stroke="#eeeeee" stroke-width="0.7" />
<rect x="455.99" y="36.45" width="2.5" height="6.1" fill="#c8c8c8" />
<line x1="456.57" y1="36.4" x2="456.57" y2="42.6" stroke="#eeeeee" stroke-width="0.7" />
<rect x="459.33" y="36.45" width="2.5" height="6.1" fill="#c8c8c8" />
<line x1="459.91" y1="36.4" x2="459.91" y2="42.6" stroke="#eeeeee" stroke-width="0.7" />
<rect x="462.66" y="36.45" width="2.5" height="6.1" fill="#c8c8c8" />
<line x1="463.24" y1="36.4" x2="463.24" y2="42.6" stroke="#eeeeee" stroke-width="0.7" />
<rect x="466" y="36.45" width="2.5" height="6.1" fill="#c8c8c8" />
<line x1="466.58" y1="36.4" x2="466.58" y2="42.6" stroke="#eeeeee" stroke-width="0.7" />
<rect x="472.67" y="36.45" width="2.5" height="6.1" fill="#c8c8c8" />
<line x1="473.25" y1="36.4" x2="473.25" y2="42.6" stroke="#eeeeee" stroke-width="0.7" />
<rect x="476.01" y="36.45" width="2.5" height="6.1" fill="#c8c8c8" />
<line x1="476.59" y1="36.4" x2="476.59" y2="42.6" stroke="#eeeeee" stroke-width="0.7" />
<rect x="479.35" y="36.45" width="2.5" height="6.1" fill="#c8c8c8" />
<line x1="479.93" y1="36.4" x2="479.93" y2="42.6" stroke="#eeeeee" stroke-width="0.7" />
<rect x="482.68" y="36.45" width="2.5" height="6.1" fill="#c8c8c8" />
<line x1="483.26" y1="36.4" x2="483.26" y2="42.6" stroke="#eeeeee" stroke-width="0.7" />
<rect x="309.17" y="43.45" width="2.5" height="6.1" fill="#c8c8c8" />
<line x1="309.75" y1="43.4" x2="309.75" y2="49.6" stroke="#eeeeee" stroke-width="0.7" />
<rect x="312.51" y="43.45" width="2.5" height="6.1" fill="#c8c8c8" />
<line x1="313.09" y1="43.4" x2="313.09" y2="49.6" stroke="#eeeeee" stroke-width="0.7" />
<rect x="315.84" y="43.45" width="2.5" height="6.1" fill="#c8c8c8" />
<line x1="316.42" y1="43.4" x2="316.42" y2="49.6" stroke="#eeeeee" stroke-width="0.7" />
<rect x="319.18" y="43.45" width="2.5" height="6.1" fill="#c8c8c8" />
<line x1="319.76" y1="43.4" x2="319.76" y2="49.6" stroke="#eeeeee" stroke-width="0.7" />
<rect x="322.52" y="43.45" width="2.5" height="6.1" fill="#c8c8c8" />
<line x1="323.1" y1="43.4" x2="323.1" y2="49.6" stroke="#eeeeee" stroke-width="0.7" />
<rect x="325.85" y="43.45" width="2.5" height="6.1" fill="#c8c8c8" />
<line x1="326.43" y1="43.4" x2="326.43" y2="49.6" stroke="#eeeeee" stroke-width="0.7" />
<rect x="329.19" y="43.45" width="2.5" height="6.1" fill="#c8c8c8" />
<line x1="329.77" y1="43.4" x2="329.77" y2="49.6" stroke="#eeeeee" stroke-width="0.7" />
<rect x="332.53" y="43.45" width="2.5" height="6.1" fill="#c8c8c8" />
<line x1="333.11" y1="43.4" x2="333.11" y2="49.6" stroke="#eeeeee" stroke-width="0.7" />
<rect x="335.86" y="43.45" width="2.5" height="6.1" fill="#c8c8c8" />
<line x1="336.44" y1="43.4" x2="336.44" y2="49.6" stroke="#eeeeee" stroke-width="0.7" />
<rect x="339.2" y="43.45" width="2.5" height="6.1" fill="#c8c8c8" />
<line x1="339.78" y1="43.4" x2="339.78" y2="49.6" stroke="#eeeeee" stroke-width="0.7" />
<rect x="342.54" y="43.45" width="2.5" height="6.1" fill="#c8c8c8" />
<line x1="343.12" y1="43.4" x2="343.12" y2="49.6" stroke="#eeeeee" stroke-width="0.7" />
<rect x="345.87" y="43.45" width="2.5" height="6.1" fill="#c8c8c8" />
<line x1="346.45" y1="43.4" x2="346.45" y2="49.6" stroke="#eeeeee" stroke-width="0.7" />
<rect x="349.21" y="43.45" width="2.5" height="6.1" fill="#c8c8c8" />
<line x1="349.79" y1="43.4" x2="349.79" y2="49.6" stroke="#eeeeee" stroke-width="0.7" />
<rect x="352.55" y="43.45" width="2.5" height="6.1" fill="#c8c8c8" />
<line x1="353.13" y1="43.4" x2="353.13" y2="49.6" stroke="#eeeeee" stroke-width="0.7" />
<rect x="355.89" y="43.45" width="2.5" height="6.1" fill="#c8c8c8" />
<line x1="356.47" y1="43.4" x2="356.47" y2="49.6" stroke="#eeeeee" stroke-width="0.7" />
<rect x="359.22" y="43.45" width="2.5" height="6.1" fill="#c8c8c8" />
<line x1="359.8" y1="43.4" x2="359.8" y2="49.6" stroke="#eeeeee" stroke-width="0.7" />
<rect x="362.56" y="43.45" width="2.5" height="6.1" fill="#c8c8c8" />
<line x1="363.14" y1="43.4" x2="363.14" y2="49.6" stroke="#eeeeee" stroke-width="0.7" />
<rect x="365.9" y="43.45" width="2.5" height="6.1" fill="#c8c8c8" />
<line x1="366.48" y1="43.4" x2="366.48" y2="49.6" stroke="#eeeeee" stroke-width="0.7" />
<rect x="369.23" y="43.45" width="2.5" height="6.1" fill="#c8c8c8" />
<line x1="369.81" y1="43.4" x2="369.81" y2="49.6" stroke="#eeeeee" stroke-width="0.7" />
<rect x="372.57" y="43.45" width="2.5" height="6.1" fill="#c8c8c8" />
<line x1="373.15" y1="43.4" x2="373.15" y2="49.6" stroke="#eeeeee" stroke-width="0.7" />
<rect x="375.91" y="43.45" width="2.5" height="6.1" fill="#c8c8c8" />
<line x1="376.49" y1="43.4" x2="376.49" y2="49.6" stroke="#eeeeee" stroke-width="0.7" />
<rect x="379.24" y="43.45" width="2.5" height="6.1" fill="#c8c8c8" />
<line x1="379.82" y1="43.4" x2="379.82" y2="49.6" stroke="#eeeeee" stroke-width="0.7" />
<rect x="382.58" y="43.45" width="2.5" height="6.1" fill="#c8c8c8" />
<line x1="383.16" y1="43.4" x2="383.16" y2="49.6" stroke="#eeeeee" stroke-width="0.7" />
<rect x="385.92" y="43.45" width="2.5" height="6.1" fill="#c8c8c8" />
<line x1="386.5" y1="43.4" x2="386.5" y2="49.6" stroke="#eeeeee" stroke-width="0.7" />
<rect x="389.25" y="43.45" width="2.5" height="6.1" fill="#c8c8c8" />
<line x1="389.83" y1="43.4" x2="389.83" y2="49.6" stroke="#eeeeee" stroke-width="0.7" />
<rect x="395.93" y="43.45" width="2.5" height="6.1" fill="#c8c8c8" />
<line x1="396.51" y1="43.4" x2="396.51" y2="49.6" stroke="#eeeeee" stroke-width="0.7" />
<rect x="405.94" y="43.45" width="2.5" height="6.1" fill="#c8c8c8" />
<line x1="406.52" y1="43.4" x2="406.52" y2="49.6" stroke="#eeeeee" stroke-width="0.7" />
<rect x="409.27" y="43.45" width="2.5" height="6.1" fill="#c8c8c8" />
<line x1="409.85" y1="43.4" x2="409.85" y2="49.6" stroke="#eeeeee" stroke-width="0.7" />
<rect x="412.61" y="43.45" width="2.5" height="6.1" fill="#c8c8c8" />
<line x1="413.19" y1="43.4" x2="413.19" y2="49.6" stroke="#eeeeee" stroke-width="0.7" />
<rect x="415.95" y="43.45" width="2.5" height="6.1" fill="#c8c8c8" />
<line x1="416.53" y1="43.4" x2="416.53" y2="49.6" stroke="#eeeeee" stroke-width="0.7" />
<rect x="429.29" y="43.45" width="2.5" height="6.1" fill="#c8c8c8" />
<line x1="429.87" y1="43.4" x2="429.87" y2="49.6" stroke="#eeeeee" stroke-width="0.7" />
<rect x="432.63" y="43.45" width="2.5" height="6.1" fill="#c8c8c8" />
<line x1="433.21" y1="43.4" x2="433.21" y2="49.6" stroke="#eeeeee" stroke-width="0.7" />
<rect x="442.64" y="43.45" width="2.5" height="6.1" fill="#c8c8c8" />
<line x1="443.22" y1="43.4" x2="443.22" y2="49.6" stroke="#eeeeee" stroke-width="0.7" />
<rect x="459.33" y="43.45" width="2.5" height="6.1" fill="#c8c8c8" />
<line x1="459.91" y1="43.4" x2="459.91" y2="49.6" stroke="#eeeeee" stroke-width="0.7" />
<rect x="466" y="43.45" width="2.5" height="6.1" fill="#c8c8c8" />
<line x1="466.58" y1="43.4" x2="466.58" y2="49.6" stroke="#eeeeee" stroke-width="0.7" />
<rect x="476.01" y="43.45" width="2.5" height="6.1" fill="#c8c8c8" />
<line x1="476.59" y1="43.4" x2="476.59" y2="49.6" stroke="#eeeeee" stroke-width="0.7" />
<rect x="479.35" y="43.45" width="2.5" height="6.1" fill="#c8c8c8" />
<line x1="479.93" y1="43.4" x2="479.93" y2="49.6" stroke="#eeeeee" stroke-width="0.7" />
<rect x="482.68" y="43.45" width="2.5" height="6.1" fill="#c8c8c8" />
<line x1="483.26" y1="43.4" x2="483.26" y2="49.6" stroke="#eeeeee" stroke-width="0.7" />
<rect x="309.17" y="50.45" width="2.5" height="6.1" fill="#c8c8c8" />
<line x1="309.75" y1="50.4" x2="309.75" y2="56.6" stroke="#eeeeee" stroke-width="0.7" />
<rect x="312.51" y="50.45" width="2.5" height="6.1" fill="#c8c8c8" />
<line x1="313.09" y1="50.4" x2="313.09" y2="56.6" stroke="#eeeeee" stroke-width="0.7" />
<rect x="315.84" y="50.45" width="2.5" height="6.1" fill="#c8c8c8" />
<line x1="316.42" y1="50.4" x2="316.42" y2="56.6" stroke="#eeeeee" stroke-width="0.7" />
<rect x="322.52" y="50.45" width="2.5" height="6.1" fill="#c8c8c8" />
<line x1="323.1" y1="50.4" x2="323.1" y2="56.6" stroke="#eeeeee" stroke-width="0.7" />
<rect x="325.85" y="50.45" width="2.5" height="6.1" fill="#c8c8c8" />
<line x1="326.43" y1="50.4" x2="326.43" y2="56.6" stroke="#eeeeee" stroke-width="0.7" />
<rect x="329.19" y="50.45" width="2.5" height="6.1" fill="#c8c8c8" />
<line x1="329.77" y1="50.4" x2="329.77" y2="56.6" stroke="#eeeeee" stroke-width="0.7" />
<rect x="332.53" y="50.45" width="2.5" height="6.1" fill="#c8c8c8" />
<line x1="333.11" y1="50.4" x2="333.11" y2="56.6" stroke="#eeeeee" stroke-width="0.7" />
<rect x="335.86" y="50.45" width="2.5" height="6.1" fill="#c8c8c8" />
<line x1="336.44" y1="50.4" x2="336.44" y2="56.6" stroke="#eeeeee" stroke-width="0.7" />
<rect x="339.2" y="50.45" width="2.5" height="6.1" fill="#c8c8c8" />
<line x1="339.78" y1="50.4" x2="339.78" y2="56.6" stroke="#eeeeee" stroke-width="0.7" />
<rect x="342.54" y="50.45" width="2.5" height="6.1" fill="#c8c8c8" />
<line x1="343.12" y1="50.4" x2="343.12" y2="56.6" stroke="#eeeeee" stroke-width="0.7" />
<rect x="345.87" y="50.45" width="2.5" height="6.1" fill="#c8c8c8" />
<line x1="346.45" y1="50.4" x2="346.45" y2="56.6" stroke="#eeeeee" stroke-width="0.7" />
<rect x="349.21" y="50.45" width="2.5" height="6.1" fill="#c8c8c8" />
<line x1="349.79" y1="50.4" x2="349.79" y2="56.6" stroke="#eeeeee" stroke-width="0.7" />
<rect x="352.55" y="50.45" width="2.5" height="6.1" fill="#c8c8c8" />
<line x1="353.13" y1="50.4" x2="353.13" y2="56.6" stroke="#eeeeee" stroke-width="0.7" />
<rect x="355.89" y="50.45" width="2.5" height="6.1" fill="#c8c8c8" />
<line x1="356.47" y1="50.4" x2="356.47" y2="56.6" stroke="#eeeeee" stroke-width="0.7" />
<rect x="359.22" y="50.45" width="2.5" height="6.1" fill="#c8c8c8" />
<line x1="359.8" y1="50.4" x2="359.8" y2="56.6" stroke="#eeeeee" stroke-width="0.7" />
<rect x="362.56" y="50.45" width="2.5" height="6.1" fill="#c8c8c8" />
<line x1="363.14" y1="50.4" x2="363.14" y2="56.6" stroke="#eeeeee" stroke-width="0.7" />
<rect x="365.9" y="50.45" width="2.5" height="6.1" fill="#c8c8c8" />
<line x1="366.48" y1="50.4" x2="366.48" y2="56.6" stroke="#eeeeee" stroke-width="0.7" />
<rect x="369.23" y="50.45" width="2.5" height="6.1" fill="#c8c8c8" />
<line x1="369.81" y1="50.4" x2="369.81" y2="56.6" stroke="#eeeeee" stroke-width="0.7" />
<rect x="372.57" y="50.45" width="2.5" height="6.1" fill="#c8c8c8" />
<line x1="373.15" y1="50.4" x2="373.15" y2="56.6" stroke="#eeeeee" stroke-width="0.7" />
<rect x="375.91" y="50.45" width="2.5" height="6.1" fill="#c8c8c8" />
<line x1="376.49" y1="50.4" x2="376.49" y2="56.6" stroke="#eeeeee" stroke-width="0.7" />
<rect x="379.24" y="50.45" width="2.5" height="6.1" fill="#c8c8c8" />
<line x1="379.82" y1="50.4" x2="379.82" y2="56.6" stroke="#eeeeee" stroke-width="0.7" />
<rect x="382.58" y="50.45" width="2.5" height="6.1" fill="#c8c8c8" />
<line x1="383.16" y1="50.4" x2="383.16" y2="56.6" stroke="#eeeeee" stroke-width="0.7" />
<rect x="385.92" y="50.45" width="2.5" height="6.1" fill="#c8c8c8" />
<line x1="386.5" y1="50.4" x2="386.5" y2="56.6" stroke="#eeeeee" stroke-width="0.7" />
<rect x="389.25" y="50.45" width="2.5" height="6.1" fill="#c8c8c8" />
<line x1="389.83" y1="50.4" x2="389.83" y2="56.6" stroke="#eeeeee" stroke-width="0.7" />
<rect x="392.59" y="50.45" width="2.5" height="6.1" fill="#c8c8c8" />
<line x1="393.17" y1="50.4" x2="393.17" y2="56.6" stroke="#eeeeee" stroke-width="0.7" />
<rect x="395.93" y="50.45" width="2.5" height="6.1" fill="#c8c8c8" />
<line x1="396.51" y1="50.4" x2="396.51" y2="56.6" stroke="#eeeeee" stroke-width="0.7" />
<rect x="405.94" y="50.45" width="2.5" height="6.1" fill="#c8c8c8" />
<line x1="406.52" y1="50.4" x2="406.52" y2="56.6" stroke="#eeeeee" stroke-width="0.7" />
<rect x="409.27" y="50.45" width="2.5" height="6.1" fill="#c8c8c8" />
<line x1="409.85" y1="50.4" x2="409.85" y2="56.6" stroke="#eeeeee" stroke-width="0.7" />
<rect x="412.61" y="50.45" width="2.5" height="6.1" fill="#c8c8c8" />
<line x1="413.19" y1="50.4" x2="413.19" y2="56.6" stroke="#eeeeee" stroke-width="0.7" />
<rect x="415.95" y="50.45" width="2.5" height="6.1" fill="#c8c8c8" />
<line x1="416.53" y1="50.4" x2="416.53" y2="56.6" stroke="#eeeeee" stroke-width="0.7" />
<rect x="429.29" y="50.45" width="2.5" height="6.1" fill="#c8c8c8" />
<line x1="429.87" y1="50.4" x2="429.87" y2="56.6" stroke="#eeeeee" stroke-width="0.7" />
<rect x="432.63" y="50.45" width="2.5" height="6.1" fill="#c8c8c8" />
<line x1="433.21" y1="50.4" x2="433.21" y2="56.6" stroke="#eeeeee" stroke-width="0.7" />
<rect x="442.64" y="50.45" width="2.5" height="6.1" fill="#c8c8c8" />
<line x1="443.22" y1="50.4" x2="443.22" y2="56.6" stroke="#eeeeee" stroke-width="0.7" />
<rect x="449.32" y="50.45" width="2.5" height="6.1" fill="#c8c8c8" />
<line x1="449.9" y1="50.4" x2="449.9" y2="56.6" stroke="#eeeeee" stroke-width="0.7" />
<rect x="452.65" y="50.45" width="2.5" height="6.1" fill="#c8c8c8" />
<line x1="453.23" y1="50.4" x2="453.23" y2="56.6" stroke="#eeeeee" stroke-width="0.7" />
<rect x="455.99" y="50.45" width="2.5" height="6.1" fill="#c8c8c8" />
<line x1="456.57" y1="50.4" x2="456.57" y2="56.6" stroke="#eeeeee" stroke-width="0.7" />
<rect x="459.33" y="50.45" width="2.5" height="6.1" fill="#c8c8c8" />
<line x1="459.91" y1="50.4" x2="459.91" y2="56.6" stroke="#eeeeee" stroke-width="0.7" />
<rect x="462.66" y="50.45" width="2.5" height="6.1" fill="#c8c8c8" />
<line x1="463.24" y1="50.4" x2="463.24" y2="56.6" stroke="#eeeeee" stroke-width="0.7" />
<rect x="466" y="50.45" width="2.5" height="6.1" fill="#c8c8c8" />
<line x1="466.58" y1="50.4" x2="466.58" y2="56.6" stroke="#eeeeee" stroke-width="0.7" />
<rect x="472.67" y="50.45" width="2.5" height="6.1" fill="#c8c8c8" />
<line x1="473.25" y1="50.4" x2="473.25" y2="56.6" stroke="#eeeeee" stroke-width="0.7" />
<rect x="476.01" y="50.45" width="2.5" height="6.1" fill="#c8c8c8" />
<line x1="476.59" y1="50.4" x2="476.59" y2="56.6" stroke="#eeeeee" stroke-width="0.7" />
<rect x="479.35" y="50.45" width="2.5" height="6.1" fill="#c8c8c8" />
<line x1="479.93" y1="50.4" x2="479.93" y2="56.6" stroke="#eeeeee" stroke-width="0.7" />
<rect x="482.68" y="50.45" width="2.5" height="6.1" fill="#c8c8c8" />
<line x1="483.26" y1="50.4" x2="483.26" y2="56.6" stroke="#eeeeee" stroke-width="0.7" />
<rect x="309.17" y="57.45" width="2.5" height="6.1" fill="#c8c8c8" />
<line x1="309.75" y1="57.4" x2="309.75" y2="63.6" stroke="#eeeeee" stroke-width="0.7" />
<rect x="312.51" y="57.45" width="2.5" height="6.1" fill="#c8c8c8" />
<line x1="313.09" y1="57.4" x2="313.09" y2="63.6" stroke="#eeeeee" stroke-width="0.7" />
<rect x="315.84" y="57.45" width="2.5" height="6.1" fill="#c8c8c8" />
<line x1="316.42" y1="57.4" x2="316.42" y2="63.6" stroke="#eeeeee" stroke-width="0.7" />
<rect x="319.18" y="57.45" width="2.5" height="6.1" fill="#c8c8c8" />
<line x1="319.76" y1="57.4" x2="319.76" y2="63.6" stroke="#eeeeee" stroke-width="0.7" />
<rect x="322.52" y="57.45" width="2.5" height="6.1" fill="#c8c8c8" />
<line x1="323.1" y1="57.4" x2="323.1" y2="63.6" stroke="#eeeeee" stroke-width="0.7" />
<rect x="325.85" y="57.45" width="2.5" height="6.1" fill="#c8c8c8" />
<line x1="326.43" y1="57.4" x2="326.43" y2="63.6" stroke="#eeeeee" stroke-width="0.7" />
<rect x="329.19" y="57.45" width="2.5" height="6.1" fill="#c8c8c8" />
<line x1="329.77" y1="57.4" x2="329.77" y2="63.6" stroke="#eeeeee" stroke-width="0.7" />
<rect x="332.53" y="57.45" width="2.5" height="6.1" fill="#c8c8c8" />
<line x1="333.11" y1="57.4" x2="333.11" y2="63.6" stroke="#eeeeee" stroke-width="0.7" />
<rect x="335.86" y="57.45" width="2.5" height="6.1" fill="#c8c8c8" />
<line x1="336.44" y1="57.4" x2="336.44" y2="63.6" stroke="#eeeeee" stroke-width="0.7" />
<rect x="339.2" y="57.45" width="2.5" height="6.1" fill="#c8c8c8" />
<line x1="339.78" y1="57.4" x2="339.78" y2="63.6" stroke="#eeeeee" stroke-width="0.7" />
<rect x="342.54" y="57.45" width="2.5" height="6.1" fill="#c8c8c8" />
<line x1="343.12" y1="57.4" x2="343.12" y2="63.6" stroke="#eeeeee" stroke-width="0.7" />
<rect x="345.87" y="57.45" width="2.5" height="6.1" fill="#c8c8c8" />
<line x1="346.45" y1="57.4" x2="346.45" y2="63.6" stroke="#eeeeee" stroke-width="0.7" />
<rect x="349.21" y="57.45" width="2.5" height="6.1" fill="#c8c8c8" />
<line x1="349.79" y1="57.4" x2="349.79" y2="63.6" stroke="#eeeeee" stroke-width="0.7" />
<rect x="352.55" y="57.45" width="2.5" height="6.1" fill="#c8c8c8" />
<line x1="353.13" y1="57.4" x2="353.13" y2="63.6" stroke="#eeeeee" stroke-width="0.7" />
<rect x="355.89" y="57.45" width="2.5" height="6.1" fill="#c8c8c8" />
<line x1="356.47" y1="57.4" x2="356.47" y2="63.6" stroke="#eeeeee" stroke-width="0.7" />
<rect x="359.22" y="57.45" width="2.5" height="6.1" fill="#c8c8c8" />
<line x1="359.8" y1="57.4" x2="359.8" y2="63.6" stroke="#eeeeee" stroke-width="0.7" />
<rect x="362.56" y="57.45" width="2.5" height="6.1" fill="#c8c8c8" />
<line x1="363.14" y1="57.4" x2="363.14" y2="63.6" stroke="#eeeeee" stroke-width="0.7" />
<rect x="365.9" y="57.45" width="2.5" height="6.1" fill="#c8c8c8" />
<line x1="366.48" y1="57.4" x2="366.48" y2="63.6" stroke="#eeeeee" stroke-width="0.7" />
<rect x="369.23" y="57.45" width="2.5" height="6.1" fill="#c8c8c8" />
<line x1="369.81" y1="57.4" x2="369.81" y2="63.6" stroke="#eeeeee" stroke-width="0.7" />
<rect x="372.57" y="57.45" width="2.5" height="6.1" fill="#c8c8c8" />
<line x1="373.15" y1="57.4" x2="373.15" y2="63.6" stroke="#eeeeee" stroke-width="0.7" />
<rect x="375.91" y="57.45" width="2.5" height="6.1" fill="#c8c8c8" />
<line x1="376.49" y1="57.4" x2="376.49" y2="63.6" stroke="#eeeeee" stroke-width="0.7" />
<rect x="379.24" y="57.45" width="2.5" height="6.1" fill="#c8c8c8" />
<line x1="379.82" y1="57.4" x2="379.82" y2="63.6" stroke="#eeeeee" stroke-width="0.7" />
<rect x="382.58" y="57.45" width="2.5" height="6.1" fill="#c8c8c8" />
<line x1="383.16" y1="57.4" x2="383.16" y2="63.6" stroke="#eeeeee" stroke-width="0.7" />
<rect x="385.92" y="57.45" width="2.5" height="6.1" fill="#c8c8c8" />
<line x1="386.5" y1="57.4" x2="386.5" y2="63.6" stroke="#eeeeee" stroke-width="0.7" />
<rect x="389.25" y="57.45" width="2.5" height="6.1" fill="#c8c8c8" />
<line x1="389.83" y1="57.4" x2="389.83" y2="63.6" stroke="#eeeeee" stroke-width="0.7" />
<rect x="392.59" y="57.45" width="2.5" height="6.1" fill="#c8c8c8" />
<line x1="393.17" y1="57.4" x2="393.17" y2="63.6" stroke="#eeeeee" stroke-width="0.7" />
<rect x="405.94" y="57.45" width="2.5" height="6.1" fill="#c8c8c8" />
<line x1="406.52" y1="57.4" x2="406.52" y2="63.6" stroke="#eeeeee" stroke-width="0.7" />
<rect x="412.61" y="57.45" width="2.5" height="6.1" fill="#c8c8c8" />
<line x1="413.19" y1="57.4" x2="413.19" y2="63.6" stroke="#eeeeee" stroke-width="0.7" />
<rect x="415.95" y="57.45" width="2.5" height="6.1" fill="#c8c8c8" />
<line x1="416.53" y1="57.4" x2="416.53" y2="63.6" stroke="#eeeeee" stroke-width="0.7" />
<rect x="419.28" y="57.45" width="2.5" height="6.1" fill="#c8c8c8" />
<line x1="419.86" y1="57.4" x2="419.86" y2="63.6" stroke="#eeeeee" stroke-width="0.7" />
<rect x="422.62" y="57.45" width="2.5" height="6.1" fill="#c8c8c8" />
<line x1="423.2" y1="57.4" x2="423.2" y2="63.6" stroke="#eeeeee" stroke-width="0.7" />
<rect x="425.96" y="57.45" width="2.5" height="6.1" fill="#c8c8c8" />
<line x1="426.54" y1="57.4" x2="426.54" y2="63.6" stroke="#eeeeee" stroke-width="0.7" />
<rect x="429.29" y="57.45" width="2.5" height="6.1" fill="#c8c8c8" />
<line x1="429.87" y1="57.4" x2="429.87" y2="63.6" stroke="#eeeeee" stroke-width="0.7" />
<rect x="432.63" y="57.45" width="2.5" height="6.1" fill="#c8c8c8" />
<line x1="433.21" y1="57.4" x2="433.21" y2="63.6" stroke="#eeeeee" stroke-width="0.7" />
<rect x="439.3" y="57.45" width="2.5" height="6.1" fill="#c8c8c8" />
<line x1="439.88" y1="57.4" x2="439.88" y2="63.6" stroke="#eeeeee" stroke-width="0.7" />
<rect x="442.64" y="57.45" width="2.5" height="6.1" fill="#c8c8c8" />
<line x1="443.22" y1="57.4" x2="443.22" y2="63.6" stroke="#eeeeee" stroke-width="0.7" />
<rect x="449.32" y="57.45" width="2.5" height="6.1" fill="#c8c8c8" />
<line x1="449.9" y1="57.4" x2="449.9" y2="63.6" stroke="#eeeeee" stroke-width="0.7" />
<rect x="455.99" y="57.45" width="2.5" height="6.1" fill="#c8c8c8" />
<line x1="456.57" y1="57.4" x2="456.57" y2="63.6" stroke="#eeeeee" stroke-width="0.7" />
<rect x="462.66" y="57.45" width="2.5" height="6.1" fill="#c8c8c8" />
<line x1="463.24" y1="57.4" x2="463.24" y2="63.6" stroke="#eeeeee" stroke-width="0.7" />
<rect x="466" y="57.45" width="2.5" height="6.1" fill="#c8c8c8" />
<line x1="466.58" y1="57.4" x2="466.58" y2="63.6" stroke="#eeeeee" stroke-width="0.7" />
<rect x="469.34" y="57.45" width="2.5" height="6.1" fill="#c8c8c8" />
<line x1="469.92" y1="57.4" x2="469.92" y2="63.6" stroke="#eeeeee" stroke-width="0.7" />
<rect x="472.67" y="57.45" width="2.5" height="6.1" fill="#c8c8c8" />
<line x1="473.25" y1="57.4" x2="473.25" y2="63.6" stroke="#eeeeee" stroke-width="0.7" />
<rect x="476.01" y="57.45" width="2.5" height="6.1" fill="#c8c8c8" />
<line x1="476.59" y1="57.4" x2="476.59" y2="63.6" stroke="#eeeeee" stroke-width="0.7" />
<rect x="479.35" y="57.45" width="2.5" height="6.1" fill="#c8c8c8" />
<line x1="479.93" y1="57.4" x2="479.93" y2="63.6" stroke="#eeeeee" stroke-width="0.7" />
<rect x="309.17" y="64.45" width="2.5" height="6.1" fill="#c8c8c8" />
<line x1="309.75" y1="64.4" x2="309.75" y2="70.6" stroke="#eeeeee" stroke-width="0.7" />
<rect x="312.51" y="64.45" width="2.5" height="6.1" fill="#c8c8c8" />
<line x1="313.09" y1="64.4" x2="313.09" y2="70.6" stroke="#eeeeee" stroke-width="0.7" />
<rect x="315.84" y="64.45" width="2.5" height="6.1" fill="#c8c8c8" />
<line x1="316.42" y1="64.4" x2="316.42" y2="70.6" stroke="#eeeeee" stroke-width="0.7" />
<rect x="319.18" y="64.45" width="2.5" height="6.1" fill="#c8c8c8" />
<line x1="319.76" y1="64.4" x2="319.76" y2="70.6" stroke="#eeeeee" stroke-width="0.7" />
<rect x="322.52" y="64.45" width="2.5" height="6.1" fill="#c8c8c8" />
<line x1="323.1" y1="64.4" x2="323.1" y2="70.6" stroke="#eeeeee" stroke-width="0.7" />
<rect x="325.85" y="64.45" width="2.5" height="6.1" fill="#c8c8c8" />
<line x1="326.43" y1="64.4" x2="326.43" y2="70.6" stroke="#eeeeee" stroke-width="0.7" />
<rect x="329.19" y="64.45" width="2.5" height="6.1" fill="#c8c8c8" />
<line x1="329.77" y1="64.4" x2="329.77" y2="70.6" stroke="#eeeeee" stroke-width="0.7" />
<rect x="332.53" y="64.45" width="2.5" height="6.1" fill="#c8c8c8" />
<line x1="333.11" y1="64.4" x2="333.11" y2="70.6" stroke="#eeeeee" stroke-width="0.7" />
<rect x="335.86" y="64.45" width="2.5" height="6.1" fill="#c8c8c8" />
<line x1="336.44" y1="64.4" x2="336.44" y2="70.6" stroke="#eeeeee" stroke-width="0.7" />
<rect x="339.2" y="64.45" width="2.5" height="6.1" fill="#c8c8c8" />
<line x1="339.78" y1="64.4" x2="339.78" y2="70.6" stroke="#eeeeee" stroke-width="0.7" />
<rect x="342.54" y="64.45" width="2.5" height="6.1" fill="#c8c8c8" />
<line x1="343.12" y1="64.4" x2="343.12" y2="70.6" stroke="#eeeeee" stroke-width="0.7" />
<rect x="345.87" y="64.45" width="2.5" height="6.1" fill="#c8c8c8" />
<line x1="346.45" y1="64.4" x2="346.45" y2="70.6" stroke="#eeeeee" stroke-width="0.7" />
<rect x="349.21" y="64.45" width="2.5" height="6.1" fill="#c8c8c8" />
<line x1="349.79" y1="64.4" x2="349.79" y2="70.6" stroke="#eeeeee" stroke-width="0.7" />
<rect x="352.55" y="64.45" width="2.5" height="6.1" fill="#c8c8c8" />
<line x1="353.13" y1="64.4" x2="353.13" y2="70.6" stroke="#eeeeee" stroke-width="0.7" />
<rect x="355.89" y="64.45" width="2.5" height="6.1" fill="#c8c8c8" />
<line x1="356.47" y1="64.4" x2="356.47" y2="70.6" stroke="#eeeeee" stroke-width="0.7" />
<rect x="359.22" y="64.45" width="2.5" height="6.1" fill="#c8c8c8" />
<line x1="359.8" y1="64.4" x2="359.8" y2="70.6" stroke="#eeeeee" stroke-width="0.7" />
<rect x="362.56" y="64.45" width="2.5" height="6.1" fill="#c8c8c8" />
<line x1="363.14" y1="64.4" x2="363.14" y2="70.6" stroke="#eeeeee" stroke-width="0.7" />
<rect x="365.9" y="64.45" width="2.5" height="6.1" fill="#c8c8c8" />
<line x1="366.48" y1="64.4" x2="366.48" y2="70.6" stroke="#eeeeee" stroke-width="0.7" />
<rect x="369.23" y="64.45" width="2.5" height="6.1" fill="#c8c8c8" />
<line x1="369.81" y1="64.4" x2="369.81" y2="70.6" stroke="#eeeeee" stroke-width="0.7" />
<rect x="372.57" y="64.45" width="2.5" height="6.1" fill="#c8c8c8" />
<line x1="373.15" y1="64.4" x2="373.15" y2="70.6" stroke="#eeeeee" stroke-width="0.7" />
<rect x="375.91" y="64.45" width="2.5" height="6.1" fill="#c8c8c8" />
<line x1="376.49" y1="64.4" x2="376.49" y2="70.6" stroke="#eeeeee" stroke-width="0.7" />
<rect x="379.24" y="64.45" width="2.5" height="6.1" fill="#c8c8c8" />
<line x1="379.82" y1="64.4" x2="379.82" y2="70.6" stroke="#eeeeee" stroke-width="0.7" />
<rect x="382.58" y="64.45" width="2.5" height="6.1" fill="#c8c8c8" />
<line x1="383.16" y1="64.4" x2="383.16" y2="70.6" stroke="#eeeeee" stroke-width="0.7" />
<rect x="385.92" y="64.45" width="2.5" height="6.1" fill="#c8c8c8" />
<line x1="386.5" y1="64.4" x2="386.5" y2="70.6" stroke="#eeeeee" stroke-width="0.7" />
<rect x="389.25" y="64.45" width="2.5" height="6.1" fill="#c8c8c8" />
<line x1="389.83" y1="64.4" x2="389.83" y2="70.6" stroke="#eeeeee" stroke-width="0.7" />
<rect x="392.59" y="64.45" width="2.5" height="6.1" fill="#c8c8c8" />
<line x1="393.17" y1="64.4" x2="393.17" y2="70.6" stroke="#eeeeee" stroke-width="0.7" />
<rect x="399.26" y="64.45" width="2.5" height="6.1" fill="#c8c8c8" />
<line x1="399.84" y1="64.4" x2="399.84" y2="70.6" stroke="#eeeeee" stroke-width="0.7" />
<rect x="405.94" y="64.45" width="2.5" height="6.1" fill="#c8c8c8" />
<line x1="406.52" y1="64.4" x2="406.52" y2="70.6" stroke="#eeeeee" stroke-width="0.7" />
<rect x="412.61" y="64.45" width="2.5" height="6.1" fill="#c8c8c8" />
<line x1="413.19" y1="64.4" x2="413.19" y2="70.6" stroke="#eeeeee" stroke-width="0.7" />
<rect x="415.95" y="64.45" width="2.5" height="6.1" fill="#c8c8c8" />
<line x1="416.53" y1="64.4" x2="416.53" y2="70.6" stroke="#eeeeee" stroke-width="0.7" />
<rect x="419.28" y="64.45" width="2.5" height="6.1" fill="#c8c8c8" />
<line x1="419.86" y1="64.4" x2="419.86" y2="70.6" stroke="#eeeeee" stroke-width="0.7" />
<rect x="422.62" y="64.45" width="2.5" height="6.1" fill="#c8c8c8" />
<line x1="423.2" y1="64.4" x2="423.2" y2="70.6" stroke="#eeeeee" stroke-width="0.7" />
<rect x="425.96" y="64.45" width="2.5" height="6.1" fill="#c8c8c8" />
<line x1="426.54" y1="64.4" x2="426.54" y2="70.6" stroke="#eeeeee" stroke-width="0.7" />
<rect x="429.29" y="64.45" width="2.5" height="6.1" fill="#c8c8c8" />
<line x1="429.87" y1="64.4" x2="429.87" y2="70.6" stroke="#eeeeee" stroke-width="0.7" />
<rect x="432.63" y="64.45" width="2.5" height="6.1" fill="#c8c8c8" />
<line x1="433.21" y1="64.4" x2="433.21" y2="70.6" stroke="#eeeeee" stroke-width="0.7" />
<rect x="439.3" y="64.45" width="2.5" height="6.1" fill="#c8c8c8" />
<line x1="439.88" y1="64.4" x2="439.88" y2="70.6" stroke="#eeeeee" stroke-width="0.7" />
<rect x="442.64" y="64.45" width="2.5" height="6.1" fill="#c8c8c8" />
<line x1="443.22" y1="64.4" x2="443.22" y2="70.6" stroke="#eeeeee" stroke-width="0.7" />
<rect x="449.32" y="64.45" width="2.5" height="6.1" fill="#c8c8c8" />
<line x1="449.9" y1="64.4" x2="449.9" y2="70.6" stroke="#eeeeee" stroke-width="0.7" />
<rect x="452.65" y="64.45" width="2.5" height="6.1" fill="#c8c8c8" />
<line x1="453.23" y1="64.4" x2="453.23" y2="70.6" stroke="#eeeeee" stroke-width="0.7" />
<rect x="455.99" y="64.45" width="2.5" height="6.1" fill="#c8c8c8" />
<line x1="456.57" y1="64.4" x2="456.57" y2="70.6" stroke="#eeeeee" stroke-width="0.7" />
<rect x="462.66" y="64.45" width="2.5" height="6.1" fill="#c8c8c8" />
<line x1="463.24" y1="64.4" x2="463.24" y2="70.6" stroke="#eeeeee" stroke-width="0.7" />
<rect x="466" y="64.45" width="2.5" height="6.1" fill="#c8c8c8" />
<line x1="466.58" y1="64.4" x2="466.58" y2="70.6" stroke="#eeeeee" stroke-width="0.7" />
<rect x="472.67" y="64.45" width="2.5" height="6.1" fill="#c8c8c8" />
<line x1="473.25" y1="64.4" x2="473.25" y2="70.6" stroke="#eeeeee" stroke-width="0.7" />
<rect x="476.01" y="64.45" width="2.5" height="6.1" fill="#c8c8c8" />
<line x1="476.59" y1="64.4" x2="476.59" y2="70.6" stroke="#eeeeee" stroke-width="0.7" />
<rect x="479.35" y="64.45" width="2.5" height="6.1" fill="#c8c8c8" />
<line x1="479.93" y1="64.4" x2="479.93" y2="70.6" stroke="#eeeeee" stroke-width="0.7" />
<rect x="315.84" y="71.45" width="2.5" height="6.1" fill="#c8c8c8" />
<line x1="316.42" y1="71.4" x2="316.42" y2="77.6" stroke="#eeeeee" stroke-width="0.7" />
<rect x="322.52" y="71.45" width="2.5" height="6.1" fill="#c8c8c8" />
<line x1="323.1" y1="71.4" x2="323.1" y2="77.6" stroke="#eeeeee" stroke-width="0.7" />
<rect x="325.85" y="71.45" width="2.5" height="6.1" fill="#c8c8c8" />
<line x1="326.43" y1="71.4" x2="326.43" y2="77.6" stroke="#eeeeee" stroke-width="0.7" />
<rect x="335.86" y="71.45" width="2.5" height="6.1" fill="#c8c8c8" />
<line x1="336.44" y1="71.4" x2="336.44" y2="77.6" stroke="#eeeeee" stroke-width="0.7" />
<rect x="339.2" y="71.45" width="2.5" height="6.1" fill="#c8c8c8" />
<line x1="339.78" y1="71.4" x2="339.78" y2="77.6" stroke="#eeeeee" stroke-width="0.7" />
<rect x="342.54" y="71.45" width="2.5" height="6.1" fill="#c8c8c8" />
<line x1="343.12" y1="71.4" x2="343.12" y2="77.6" stroke="#eeeeee" stroke-width="0.7" />
<rect x="345.87" y="71.45" width="2.5" height="6.1" fill="#c8c8c8" />
<line x1="346.45" y1="71.4" x2="346.45" y2="77.6" stroke="#eeeeee" stroke-width="0.7" />
<rect x="349.21" y="71.45" width="2.5" height="6.1" fill="#c8c8c8" />
<line x1="349.79" y1="71.4" x2="349.79" y2="77.6" stroke="#eeeeee" stroke-width="0.7" />
<rect x="352.55" y="71.45" width="2.5" height="6.1" fill="#c8c8c8" />
<line x1="353.13" y1="71.4" x2="353.13" y2="77.6" stroke="#eeeeee" stroke-width="0.7" />
<rect x="355.89" y="71.45" width="2.5" height="6.1" fill="#c8c8c8" />
<line x1="356.47" y1="71.4" x2="356.47" y2="77.6" stroke="#eeeeee" stroke-width="0.7" />
<rect x="359.22" y="71.45" width="2.5" height="6.1" fill="#c8c8c8" />
<line x1="359.8" y1="71.4" x2="359.8" y2="77.6" stroke="#eeeeee" stroke-width="0.7" />
<rect x="362.56" y="71.45" width="2.5" height="6.1" fill="#c8c8c8" />
<line x1="363.14" y1="71.4" x2="363.14" y2="77.6" stroke="#eeeeee" stroke-width="0.7" />
<rect x="365.9" y="71.45" width="2.5" height="6.1" fill="#c8c8c8" />
<line x1="366.48" y1="71.4" x2="366.48" y2="77.6" stroke="#eeeeee" stroke-width="0.7" />
<rect x="369.23" y="71.45" width="2.5" height="6.1" fill="#c8c8c8" />
<line x1="369.81" y1="71.4" x2="369.81" y2="77.6" stroke="#eeeeee" stroke-width="0.7" />
<rect x="372.57" y="71.45" width="2.5" height="6.1" fill="#c8c8c8" />
<line x1="373.15" y1="71.4" x2="373.15" y2="77.6" stroke="#eeeeee" stroke-width="0.7" />
<rect x="375.91" y="71.45" width="2.5" height="6.1" fill="#c8c8c8" />
<line x1="376.49" y1="71.4" x2="376.49" y2="77.6" stroke="#eeeeee" stroke-width="0.7" />
<rect x="379.24" y="71.45" width="2.5" height="6.1" fill="#c8c8c8" />
<line x1="379.82" y1="71.4" x2="379.82" y2="77.6" stroke="#eeeeee" stroke-width="0.7" />
<rect x="382.58" y="71.45" width="2.5" height="6.1" fill="#c8c8c8" />
<line x1="383.16" y1="71.4" x2="383.16" y2="77.6" stroke="#eeeeee" stroke-width="0.7" />
<rect x="385.92" y="71.45" width="2.5" height="6.1" fill="#c8c8c8" />
<line x1="386.5" y1="71.4" x2="386.5" y2="77.6" stroke="#eeeeee" stroke-width="0.7" />
<rect x="389.25" y="71.45" width="2.5" height="6.1" fill="#c8c8c8" />
<line x1="389.83" y1="71.4" x2="389.83" y2="77.6" stroke="#eeeeee" stroke-width="0.7" />
<rect x="392.59" y="71.45" width="2.5" height="6.1" fill="#c8c8c8" />
<line x1="393.17" y1="71.4" x2="393.17" y2="77.6" stroke="#eeeeee" stroke-width="0.7" />
<rect x="395.93" y="71.45" width="2.5" height="6.1" fill="#c8c8c8" />
<line x1="396.51" y1="71.4" x2="396.51" y2="77.6" stroke="#eeeeee" stroke-width="0.7" />
<rect x="412.61" y="71.45" width="2.5" height="6.1" fill="#c8c8c8" />
<line x1="413.19" y1="71.4" x2="413.19" y2="77.6" stroke="#eeeeee" stroke-width="0.7" />
<rect x="442.64" y="71.45" width="2.5" height="6.1" fill="#c8c8c8" />
<line x1="443.22" y1="71.4" x2="443.22" y2="77.6" stroke="#eeeeee" stroke-width="0.7" />
<rect x="459.33" y="71.45" width="2.5" height="6.1" fill="#c8c8c8" />
<line x1="459.91" y1="71.4" x2="459.91" y2="77.6" stroke="#eeeeee" stroke-width="0.7" />
<rect x="479.35" y="71.45" width="2.5" height="6.1" fill="#c8c8c8" />
<line x1="479.93" y1="71.4" x2="479.93" y2="77.6" stroke="#eeeeee" stroke-width="0.7" />
<rect x="482.68" y="71.45" width="2.5" height="6.1" fill="#c8c8c8" />
<line x1="483.26" y1="71.4" x2="483.26" y2="77.6" stroke="#eeeeee" stroke-width="0.7" />
<rect x="309.17" y="78.45" width="2.5" height="6.1" fill="#c8c8c8" />
<line x1="309.75" y1="78.4" x2="309.75" y2="84.6" stroke="#eeeeee" stroke-width="0.7" />
<rect x="312.51" y="78.45" width="2.5" height="6.1" fill="#c8c8c8" />
<line x1="313.09" y1="78.4" x2="313.09" y2="84.6" stroke="#eeeeee" stroke-width="0.7" />
<rect x="315.84" y="78.45" width="2.5" height="6.1" fill="#c8c8c8" />
<line x1="316.42" y1="78.4" x2="316.42" y2="84.6" stroke="#eeeeee" stroke-width="0.7" />
<rect x="322.52" y="78.45" width="2.5" height="6.1" fill="#c8c8c8" />
<line x1="323.1" y1="78.4" x2="323.1" y2="84.6" stroke="#eeeeee" stroke-width="0.7" />
<rect x="325.85" y="78.45" width="2.5" height="6.1" fill="#c8c8c8" />
<line x1="326.43" y1="78.4" x2="326.43" y2="84.6" stroke="#eeeeee" stroke-width="0.7" />
<rect x="329.19" y="78.45" width="2.5" height="6.1" fill="#c8c8c8" />
<line x1="329.77" y1="78.4" x2="329.77" y2="84.6" stroke="#eeeeee" stroke-width="0.7" />
<rect x="332.53" y="78.45" width="2.5" height="6.1" fill="#c8c8c8" />
<line x1="333.11" y1="78.4" x2="333.11" y2="84.6" stroke="#eeeeee" stroke-width="0.7" />
<rect x="335.86" y="78.45" width="2.5" height="6.1" fill="#c8c8c8" />
<line x1="336.44" y1="78.4" x2="336.44" y2="84.6" stroke="#eeeeee" stroke-width="0.7" />
<rect x="339.2" y="78.45" width="2.5" height="6.1" fill="#c8c8c8" />
<line x1="339.78" y1="78.4" x2="339.78" y2="84.6" stroke="#eeeeee" stroke-width="0.7" />
<rect x="342.54" y="78.45" width="2.5" height="6.1" fill="#c8c8c8" />
<line x1="343.12" y1="78.4" x2="343.12" y2="84.6" stroke="#eeeeee" stroke-width="0.7" />
<rect x="345.87" y="78.45" width="2.5" height="6.1" fill="#c8c8c8" />
<line x1="346.45" y1="78.4" x2="346.45" y2="84.6" stroke="#eeeeee" stroke-width="0.7" />
<rect x="349.21" y="78.45" width="2.5" height="6.1" fill="#c8c8c8" />
<line x1="349.79" y1="78.4" x2="349.79" y2="84.6" stroke="#eeeeee" stroke-width="0.7" />
<rect x="352.55" y="78.45" width="2.5" height="6.1" fill="#c8c8c8" />
<line x1="353.13" y1="78.4" x2="353.13" y2="84.6" stroke="#eeeeee" stroke-width="0.7" />
<rect x="355.89" y="78.45" width="2.5" height="6.1" fill="#c8c8c8" />
<line x1="356.47" y1="78.4" x2="356.47" y2="84.6" stroke="#eeeeee" stroke-width="0.7" />
<rect x="359.22" y="78.45" width="2.5" height="6.1" fill="#c8c8c8" />
<line x1="359.8" y1="78.4" x2="359.8" y2="84.6" stroke="#eeeeee" stroke-width="0.7" />
<rect x="362.56" y="78.45" width="2.5" height="6.1" fill="#c8c8c8" />
<line x1="363.14" y1="78.4" x2="363.14" y2="84.6" stroke="#eeeeee" stroke-width="0.7" />
<rect x="365.9" y="78.45" width="2.5" height="6.1" fill="#c8c8c8" />
<line x1="366.48" y1="78.4" x2="366.48" y2="84.6" stroke="#eeeeee" stroke-width="0.7" />
<rect x="369.23" y="78.45" width="2.5" height="6.1" fill="#c8c8c8" />
<line x1="369.81" y1="78.4" x2="369.81" y2="84.6" stroke="#eeeeee" stroke-width="0.7" />
<rect x="372.57" y="78.45" width="2.5" height="6.1" fill="#c8c8c8" />
<line x1="373.15" y1="78.4" x2="373.15" y2="84.6" stroke="#eeeeee" stroke-width="0.7" />
<rect x="375.91" y="78.45" width="2.5" height="6.1" fill="#c8c8c8" />
<line x1="376.49" y1="78.4" x2="376.49" y2="84.6" stroke="#eeeeee" stroke-width="0.7" />
<rect x="379.24" y="78.45" width="2.5" height="6.1" fill="#c8c8c8" />
<line x1="379.82" y1="78.4" x2="379.82" y2="84.6" stroke="#eeeeee" stroke-width="0.7" />
<rect x="382.58" y="78.45" width="2.5" height="6.1" fill="#c8c8c8" />
<line x1="383.16" y1="78.4" x2="383.16" y2="84.6" stroke="#eeeeee" stroke-width="0.7" />
<rect x="385.92" y="78.45" width="2.5" height="6.1" fill="#c8c8c8" />
<line x1="386.5" y1="78.4" x2="386.5" y2="84.6" stroke="#eeeeee" stroke-width="0.7" />
<rect x="389.25" y="78.45" width="2.5" height="6.1" fill="#c8c8c8" />
<line x1="389.83" y1="78.4" x2="389.83" y2="84.6" stroke="#eeeeee" stroke-width="0.7" />
<rect x="392.59" y="78.45" width="2.5" height="6.1" fill="#c8c8c8" />
<line x1="393.17" y1="78.4" x2="393.17" y2="84.6" stroke="#eeeeee" stroke-width="0.7" />
<rect x="395.93" y="78.45" width="2.5" height="6.1" fill="#c8c8c8" />
<line x1="396.51" y1="78.4" x2="396.51" y2="84.6" stroke="#eeeeee" stroke-width="0.7" />
<rect x="405.94" y="78.45" width="2.5" height="6.1" fill="#c8c8c8" />
<line x1="406.52" y1="78.4" x2="406.52" y2="84.6" stroke="#eeeeee" stroke-width="0.7" />
<rect x="409.27" y="78.45" width="2.5" height="6.1" fill="#c8c8c8" />
<line x1="409.85" y1="78.4" x2="409.85" y2="84.6" stroke="#eeeeee" stroke-width="0.7" />
<rect x="412.61" y="78.45" width="2.5" height="6.1" fill="#c8c8c8" />
<line x1="413.19" y1="78.4" x2="413.19" y2="84.6" stroke="#eeeeee" stroke-width="0.7" />
<rect x="415.95" y="78.45" width="2.5" height="6.1" fill="#c8c8c8" />
<line x1="416.53" y1="78.4" x2="416.53" y2="84.6" stroke="#eeeeee" stroke-width="0.7" />
<rect x="429.29" y="78.45" width="2.5" height="6.1" fill="#c8c8c8" />
<line x1="429.87" y1="78.4" x2="429.87" y2="84.6" stroke="#eeeeee" stroke-width="0.7" />
<rect x="432.63" y="78.45" width="2.5" height="6.1" fill="#c8c8c8" />
<line x1="433.21" y1="78.4" x2="433.21" y2="84.6" stroke="#eeeeee" stroke-width="0.7" />
<rect x="439.3" y="78.45" width="2.5" height="6.1" fill="#c8c8c8" />
<line x1="439.88" y1="78.4" x2="439.88" y2="84.6" stroke="#eeeeee" stroke-width="0.7" />
<rect x="442.64" y="78.45" width="2.5" height="6.1" fill="#c8c8c8" />
<line x1="443.22" y1="78.4" x2="443.22" y2="84.6" stroke="#eeeeee" stroke-width="0.7" />
<rect x="459.33" y="78.45" width="2.5" height="6.1" fill="#c8c8c8" />
<line x1="459.91" y1="78.4" x2="459.91" y2="84.6" stroke="#eeeeee" stroke-width="0.7" />
<rect x="476.01" y="78.45" width="2.5" height="6.1" fill="#c8c8c8" />
<line x1="476.59" y1="78.4" x2="476.59" y2="84.6" stroke="#eeeeee" stroke-width="0.7" />
<rect x="479.35" y="78.45" width="2.5" height="6.1" fill="#c8c8c8" />
<line x1="479.93" y1="78.4" x2="479.93" y2="84.6" stroke="#eeeeee" stroke-width="0.7" />
<rect x="309.17" y="85.45" width="2.5" height="6.1" fill="#c8c8c8" />
<line x1="309.75" y1="85.4" x2="309.75" y2="91.6" stroke="#eeeeee" stroke-width="0.7" />
<rect x="312.51" y="85.45" width="2.5" height="6.1" fill="#c8c8c8" />
<line x1="313.09" y1="85.4" x2="313.09" y2="91.6" stroke="#eeeeee" stroke-width="0.7" />
<rect x="315.84" y="85.45" width="2.5" height="6.1" fill="#c8c8c8" />
<line x1="316.42" y1="85.4" x2="316.42" y2="91.6" stroke="#eeeeee" stroke-width="0.7" />
<rect x="319.18" y="85.45" width="2.5" height="6.1" fill="#c8c8c8" />
<line x1="319.76" y1="85.4" x2="319.76" y2="91.6" stroke="#eeeeee" stroke-width="0.7" />
<rect x="322.52" y="85.45" width="2.5" height="6.1" fill="#c8c8c8" />
<line x1="323.1" y1="85.4" x2="323.1" y2="91.6" stroke="#eeeeee" stroke-width="0.7" />
<rect x="325.85" y="85.45" width="2.5" height="6.1" fill="#c8c8c8" />
<line x1="326.43" y1="85.4" x2="326.43" y2="91.6" stroke="#eeeeee" stroke-width="0.7" />
<rect x="329.19" y="85.45" width="2.5" height="6.1" fill="#c8c8c8" />
<line x1="329.77" y1="85.4" x2="329.77" y2="91.6" stroke="#eeeeee" stroke-width="0.7" />
<rect x="332.53" y="85.45" width="2.5" height="6.1" fill="#c8c8c8" />
<line x1="333.11" y1="85.4" x2="333.11" y2="91.6" stroke="#eeeeee" stroke-width="0.7" />
<rect x="335.86" y="85.45" width="2.5" height="6.1" fill="#c8c8c8" />
<line x1="336.44" y1="85.4" x2="336.44" y2="91.6" stroke="#eeeeee" stroke-width="0.7" />
<rect x="339.2" y="85.45" width="2.5" height="6.1" fill="#c8c8c8" />
<line x1="339.78" y1="85.4" x2="339.78" y2="91.6" stroke="#eeeeee" stroke-width="0.7" />
<rect x="342.54" y="85.45" width="2.5" height="6.1" fill="#c8c8c8" />
<line x1="343.12" y1="85.4" x2="343.12" y2="91.6" stroke="#eeeeee" stroke-width="0.7" />
<rect x="345.87" y="85.45" width="2.5" height="6.1" fill="#c8c8c8" />
<line x1="346.45" y1="85.4" x2="346.45" y2="91.6" stroke="#eeeeee" stroke-width="0.7" />
<rect x="349.21" y="85.45" width="2.5" height="6.1" fill="#c8c8c8" />
<line x1="349.79" y1="85.4" x2="349.79" y2="91.6" stroke="#eeeeee" stroke-width="0.7" />
<rect x="352.55" y="85.45" width="2.5" height="6.1" fill="#c8c8c8" />
<line x1="353.13" y1="85.4" x2="353.13" y2="91.6" stroke="#eeeeee" stroke-width="0.7" />
<rect x="355.89" y="85.45" width="2.5" height="6.1" fill="#c8c8c8" />
<line x1="356.47" y1="85.4" x2="356.47" y2="91.6" stroke="#eeeeee" stroke-width="0.7" />
<rect x="359.22" y="85.45" width="2.5" height="6.1" fill="#c8c8c8" />
<line x1="359.8" y1="85.4" x2="359.8" y2="91.6" stroke="#eeeeee" stroke-width="0.7" />
<rect x="362.56" y="85.45" width="2.5" height="6.1" fill="#c8c8c8" />
<line x1="363.14" y1="85.4" x2="363.14" y2="91.6" stroke="#eeeeee" stroke-width="0.7" />
<rect x="365.9" y="85.45" width="2.5" height="6.1" fill="#c8c8c8" />
<line x1="366.48" y1="85.4" x2="366.48" y2="91.6" stroke="#eeeeee" stroke-width="0.7" />
<rect x="369.23" y="85.45" width="2.5" height="6.1" fill="#c8c8c8" />
<line x1="369.81" y1="85.4" x2="369.81" y2="91.6" stroke="#eeeeee" stroke-width="0.7" />
<rect x="372.57" y="85.45" width="2.5" height="6.1" fill="#c8c8c8" />
<line x1="373.15" y1="85.4" x2="373.15" y2="91.6" stroke="#eeeeee" stroke-width="0.7" />
<rect x="375.91" y="85.45" width="2.5" height="6.1" fill="#c8c8c8" />
<line x1="376.49" y1="85.4" x2="376.49" y2="91.6" stroke="#eeeeee" stroke-width="0.7" />
<rect x="379.24" y="85.45" width="2.5" height="6.1" fill="#c8c8c8" />
<line x1="379.82" y1="85.4" x2="379.82" y2="91.6" stroke="#eeeeee" stroke-width="0.7" />
<rect x="382.58" y="85.45" width="2.5" height="6.1" fill="#c8c8c8" />
<line x1="383.16" y1="85.4" x2="383.16" y2="91.6" stroke="#eeeeee" stroke-width="0.7" />
<rect x="385.92" y="85.45" width="2.5" height="6.1" fill="#c8c8c8" />
<line x1="386.5" y1="85.4" x2="386.5" y2="91.6" stroke="#eeeeee" stroke-width="0.7" />
<rect x="389.25" y="85.45" width="2.5" height="6.1" fill="#c8c8c8" />
<line x1="389.83" y1="85.4" x2="389.83" y2="91.6" stroke="#eeeeee" stroke-width="0.7" />
<rect x="392.59" y="85.45" width="2.5" height="6.1" fill="#c8c8c8" />
<line x1="393.17" y1="85.4" x2="393.17" y2="91.6" stroke="#eeeeee" stroke-width="0.7" />
<rect x="395.93" y="85.45" width="2.5" height="6.1" fill="#c8c8c8" />
<line x1="396.51" y1="85.4" x2="396.51" y2="91.6" stroke="#eeeeee" stroke-width="0.7" />
<rect x="399.26" y="85.45" width="2.5" height="6.1" fill="#c8c8c8" />
<line x1="399.84" y1="85.4" x2="399.84" y2="91.6" stroke="#eeeeee" stroke-width="0.7" />
<rect x="402.6" y="85.45" width="2.5" height="6.1" fill="#c8c8c8" />
<line x1="403.18" y1="85.4" x2="403.18" y2="91.6" stroke="#eeeeee" stroke-width="0.7" />
<rect x="405.94" y="85.45" width="2.5" height="6.1" fill="#c8c8c8" />
<line x1="406.52" y1="85.4" x2="406.52" y2="91.6" stroke="#eeeeee" stroke-width="0.7" />
<rect x="409.27" y="85.45" width="2.5" height="6.1" fill="#c8c8c8" />
<line x1="409.85" y1="85.4" x2="409.85" y2="91.6" stroke="#eeeeee" stroke-width="0.7" />
<rect x="412.61" y="85.45" width="2.5" height="6.1" fill="#c8c8c8" />
<line x1="413.19" y1="85.4" x2="413.19" y2="91.6" stroke="#eeeeee" stroke-width="0.7" />
<rect x="415.95" y="85.45" width="2.5" height="6.1" fill="#c8c8c8" />
<line x1="416.53" y1="85.4" x2="416.53" y2="91.6" stroke="#eeeeee" stroke-width="0.7" />
<rect x="419.28" y="85.45" width="2.5" height="6.1" fill="#c8c8c8" />
<line x1="419.86" y1="85.4" x2="419.86" y2="91.6" stroke="#eeeeee" stroke-width="0.7" />
<rect x="422.62" y="85.45" width="2.5" height="6.1" fill="#c8c8c8" />
<line x1="423.2" y1="85.4" x2="423.2" y2="91.6" stroke="#eeeeee" stroke-width="0.7" />
<rect x="425.96" y="85.45" width="2.5" height="6.1" fill="#c8c8c8" />
<line x1="426.54" y1="85.4" x2="426.54" y2="91.6" stroke="#eeeeee" stroke-width="0.7" />
<rect x="429.29" y="85.45" width="2.5" height="6.1" fill="#c8c8c8" />
<line x1="429.87" y1="85.4" x2="429.87" y2="91.6" stroke="#eeeeee" stroke-width="0.7" />
<rect x="432.63" y="85.45" width="2.5" height="6.1" fill="#c8c8c8" />
<line x1="433.21" y1="85.4" x2="433.21" y2="91.6" stroke="#eeeeee" stroke-width="0.7" />
<rect x="435.97" y="85.45" width="2.5" height="6.1" fill="#c8c8c8" />
<line x1="436.55" y1="85.4" x2="436.55" y2="91.6" stroke="#eeeeee" stroke-width="0.7" />
<rect x="439.3" y="85.45" width="2.5" height="6.1" fill="#c8c8c8" />
<line x1="439.88" y1="85.4" x2="439.88" y2="91.6" stroke="#eeeeee" stroke-width="0.7" />
<rect x="442.64" y="85.45" width="2.5" height="6.1" fill="#c8c8c8" />
<line x1="443.22" y1="85.4" x2="443.22" y2="91.6" stroke="#eeeeee" stroke-width="0.7" />
<rect x="449.32" y="85.45" width="2.5" height="6.1" fill="#c8c8c8" />
<line x1="449.9" y1="85.4" x2="449.9" y2="91.6" stroke="#eeeeee" stroke-width="0.7" />
<rect x="452.65" y="85.45" width="2.5" height="6.1" fill="#c8c8c8" />
<line x1="453.23" y1="85.4" x2="453.23" y2="91.6" stroke="#eeeeee" stroke-width="0.7" />
<rect x="455.99" y="85.45" width="2.5" height="6.1" fill="#c8c8c8" />
<line x1="456.57" y1="85.4" x2="456.57" y2="91.6" stroke="#eeeeee" stroke-width="0.7" />
<rect x="459.33" y="85.45" width="2.5" height="6.1" fill="#c8c8c8" />
<line x1="459.91" y1="85.4" x2="459.91" y2="91.6" stroke="#eeeeee" stroke-width="0.7" />
<rect x="462.66" y="85.45" width="2.5" height="6.1" fill="#c8c8c8" />
<line x1="463.24" y1="85.4" x2="463.24" y2="91.6" stroke="#eeeeee" stroke-width="0.7" />
<rect x="466" y="85.45" width="2.5" height="6.1" fill="#c8c8c8" />
<line x1="466.58" y1="85.4" x2="466.58" y2="91.6" stroke="#eeeeee" stroke-width="0.7" />
<rect x="472.67" y="85.45" width="2.5" height="6.1" fill="#c8c8c8" />
<line x1="473.25" y1="85.4" x2="473.25" y2="91.6" stroke="#eeeeee" stroke-width="0.7" />
<rect x="476.01" y="85.45" width="2.5" height="6.1" fill="#c8c8c8" />
<line x1="476.59" y1="85.4" x2="476.59" y2="91.6" stroke="#eeeeee" stroke-width="0.7" />
<rect x="479.35" y="85.45" width="2.5" height="6.1" fill="#c8c8c8" />
<line x1="479.93" y1="85.4" x2="479.93" y2="91.6" stroke="#eeeeee" stroke-width="0.7" />
<rect x="482.68" y="85.45" width="2.5" height="6.1" fill="#c8c8c8" />
<line x1="483.26" y1="85.4" x2="483.26" y2="91.6" stroke="#eeeeee" stroke-width="0.7" />
<rect x="309.17" y="92.45" width="2.5" height="6.1" fill="#c8c8c8" />
<line x1="309.75" y1="92.4" x2="309.75" y2="98.6" stroke="#eeeeee" stroke-width="0.7" />
<rect x="312.51" y="92.45" width="2.5" height="6.1" fill="#c8c8c8" />
<line x1="313.09" y1="92.4" x2="313.09" y2="98.6" stroke="#eeeeee" stroke-width="0.7" />
<rect x="315.84" y="92.45" width="2.5" height="6.1" fill="#c8c8c8" />
<line x1="316.42" y1="92.4" x2="316.42" y2="98.6" stroke="#eeeeee" stroke-width="0.7" />
<rect x="319.18" y="92.45" width="2.5" height="6.1" fill="#c8c8c8" />
<line x1="319.76" y1="92.4" x2="319.76" y2="98.6" stroke="#eeeeee" stroke-width="0.7" />
<rect x="322.52" y="92.45" width="2.5" height="6.1" fill="#c8c8c8" />
<line x1="323.1" y1="92.4" x2="323.1" y2="98.6" stroke="#eeeeee" stroke-width="0.7" />
<rect x="325.85" y="92.45" width="2.5" height="6.1" fill="#c8c8c8" />
<line x1="326.43" y1="92.4" x2="326.43" y2="98.6" stroke="#eeeeee" stroke-width="0.7" />
<rect x="329.19" y="92.45" width="2.5" height="6.1" fill="#c8c8c8" />
<line x1="329.77" y1="92.4" x2="329.77" y2="98.6" stroke="#eeeeee" stroke-width="0.7" />
<rect x="332.53" y="92.45" width="2.5" height="6.1" fill="#c8c8c8" />
<line x1="333.11" y1="92.4" x2="333.11" y2="98.6" stroke="#eeeeee" stroke-width="0.7" />
<rect x="335.86" y="92.45" width="2.5" height="6.1" fill="#c8c8c8" />
<line x1="336.44" y1="92.4" x2="336.44" y2="98.6" stroke="#eeeeee" stroke-width="0.7" />
<rect x="339.2" y="92.45" width="2.5" height="6.1" fill="#c8c8c8" />
<line x1="339.78" y1="92.4" x2="339.78" y2="98.6" stroke="#eeeeee" stroke-width="0.7" />
<rect x="342.54" y="92.45" width="2.5" height="6.1" fill="#c8c8c8" />
<line x1="343.12" y1="92.4" x2="343.12" y2="98.6" stroke="#eeeeee" stroke-width="0.7" />
<rect x="345.87" y="92.45" width="2.5" height="6.1" fill="#c8c8c8" />
<line x1="346.45" y1="92.4" x2="346.45" y2="98.6" stroke="#eeeeee" stroke-width="0.7" />
<rect x="349.21" y="92.45" width="2.5" height="6.1" fill="#c8c8c8" />
<line x1="349.79" y1="92.4" x2="349.79" y2="98.6" stroke="#eeeeee" stroke-width="0.7" />
<rect x="352.55" y="92.45" width="2.5" height="6.1" fill="#c8c8c8" />
<line x1="353.13" y1="92.4" x2="353.13" y2="98.6" stroke="#eeeeee" stroke-width="0.7" />
<rect x="355.89" y="92.45" width="2.5" height="6.1" fill="#c8c8c8" />
<line x1="356.47" y1="92.4" x2="356.47" y2="98.6" stroke="#eeeeee" stroke-width="0.7" />
<rect x="359.22" y="92.45" width="2.5" height="6.1" fill="#c8c8c8" />
<line x1="359.8" y1="92.4" x2="359.8" y2="98.6" stroke="#eeeeee" stroke-width="0.7" />
<rect x="362.56" y="92.45" width="2.5" height="6.1" fill="#c8c8c8" />
<line x1="363.14" y1="92.4" x2="363.14" y2="98.6" stroke="#eeeeee" stroke-width="0.7" />
<rect x="365.9" y="92.45" width="2.5" height="6.1" fill="#c8c8c8" />
<line x1="366.48" y1="92.4" x2="366.48" y2="98.6" stroke="#eeeeee" stroke-width="0.7" />
<rect x="369.23" y="92.45" width="2.5" height="6.1" fill="#c8c8c8" />
<line x1="369.81" y1="92.4" x2="369.81" y2="98.6" stroke="#eeeeee" stroke-width="0.7" />
<rect x="372.57" y="92.45" width="2.5" height="6.1" fill="#c8c8c8" />
<line x1="373.15" y1="92.4" x2="373.15" y2="98.6" stroke="#eeeeee" stroke-width="0.7" />
<rect x="375.91" y="92.45" width="2.5" height="6.1" fill="#c8c8c8" />
<line x1="376.49" y1="92.4" x2="376.49" y2="98.6" stroke="#eeeeee" stroke-width="0.7" />
<rect x="379.24" y="92.45" width="2.5" height="6.1" fill="#c8c8c8" />
<line x1="379.82" y1="92.4" x2="379.82" y2="98.6" stroke="#eeeeee" stroke-width="0.7" />
<rect x="382.58" y="92.45" width="2.5" height="6.1" fill="#c8c8c8" />
<line x1="383.16" y1="92.4" x2="383.16" y2="98.6" stroke="#eeeeee" stroke-width="0.7" />
<rect x="385.92" y="92.45" width="2.5" height="6.1" fill="#c8c8c8" />
<line x1="386.5" y1="92.4" x2="386.5" y2="98.6" stroke="#eeeeee" stroke-width="0.7" />
<rect x="389.25" y="92.45" width="2.5" height="6.1" fill="#c8c8c8" />
<line x1="389.83" y1="92.4" x2="389.83" y2="98.6" stroke="#eeeeee" stroke-width="0.7" />
<rect x="392.59" y="92.45" width="2.5" height="6.1" fill="#c8c8c8" />
<line x1="393.17" y1="92.4" x2="393.17" y2="98.6" stroke="#eeeeee" stroke-width="0.7" />
<rect x="395.93" y="92.45" width="2.5" height="6.1" fill="#c8c8c8" />
<line x1="396.51" y1="92.4" x2="396.51" y2="98.6" stroke="#eeeeee" stroke-width="0.7" />
<rect x="399.26" y="92.45" width="2.5" height="6.1" fill="#c8c8c8" />
<line x1="399.84" y1="92.4" x2="399.84" y2="98.6" stroke="#eeeeee" stroke-width="0.7" />
<rect x="402.6" y="92.45" width="2.5" height="6.1" fill="#c8c8c8" />
<line x1="403.18" y1="92.4" x2="403.18" y2="98.6" stroke="#eeeeee" stroke-width="0.7" />
<rect x="405.94" y="92.45" width="2.5" height="6.1" fill="#c8c8c8" />
<line x1="406.52" y1="92.4" x2="406.52" y2="98.6" stroke="#eeeeee" stroke-width="0.7" />
<rect x="409.27" y="92.45" width="2.5" height="6.1" fill="#c8c8c8" />
<line x1="409.85" y1="92.4" x2="409.85" y2="98.6" stroke="#eeeeee" stroke-width="0.7" />
<rect x="412.61" y="92.45" width="2.5" height="6.1" fill="#c8c8c8" />
<line x1="413.19" y1="92.4" x2="413.19" y2="98.6" stroke="#eeeeee" stroke-width="0.7" />
<rect x="415.95" y="92.45" width="2.5" height="6.1" fill="#c8c8c8" />
<line x1="416.53" y1="92.4" x2="416.53" y2="98.6" stroke="#eeeeee" stroke-width="0.7" />
<rect x="419.28" y="92.45" width="2.5" height="6.1" fill="#c8c8c8" />
<line x1="419.86" y1="92.4" x2="419.86" y2="98.6" stroke="#eeeeee" stroke-width="0.7" />
<rect x="422.62" y="92.45" width="2.5" height="6.1" fill="#c8c8c8" />
<line x1="423.2" y1="92.4" x2="423.2" y2="98.6" stroke="#eeeeee" stroke-width="0.7" />
<rect x="425.96" y="92.45" width="2.5" height="6.1" fill="#c8c8c8" />
<line x1="426.54" y1="92.4" x2="426.54" y2="98.6" stroke="#eeeeee" stroke-width="0.7" />
<rect x="429.29" y="92.45" width="2.5" height="6.1" fill="#c8c8c8" />
<line x1="429.87" y1="92.4" x2="429.87" y2="98.6" stroke="#eeeeee" stroke-width="0.7" />
<rect x="432.63" y="92.45" width="2.5" height="6.1" fill="#c8c8c8" />
<line x1="433.21" y1="92.4" x2="433.21" y2="98.6" stroke="#eeeeee" stroke-width="0.7" />
<rect x="435.97" y="92.45" width="2.5" height="6.1" fill="#c8c8c8" />
<line x1="436.55" y1="92.4" x2="436.55" y2="98.6" stroke="#eeeeee" stroke-width="0.7" />
<rect x="439.3" y="92.45" width="2.5" height="6.1" fill="#c8c8c8" />
<line x1="439.88" y1="92.4" x2="439.88" y2="98.6" stroke="#eeeeee" stroke-width="0.7" />
<rect x="442.64" y="92.45" width="2.5" height="6.1" fill="#c8c8c8" />
<line x1="443.22" y1="92.4" x2="443.22" y2="98.6" stroke="#eeeeee" stroke-width="0.7" />
<rect x="449.32" y="92.45" width="2.5" height="6.1" fill="#c8c8c8" />
<line x1="449.9" y1="92.4" x2="449.9" y2="98.6" stroke="#eeeeee" stroke-width="0.7" />
<rect x="452.65" y="92.45" width="2.5" height="6.1" fill="#c8c8c8" />
<line x1="453.23" y1="92.4" x2="453.23" y2="98.6" stroke="#eeeeee" stroke-width="0.7" />
<rect x="455.99" y="92.45" width="2.5" height="6.1" fill="#c8c8c8" />
<line x1="456.57" y1="92.4" x2="456.57" y2="98.6" stroke="#eeeeee" stroke-width="0.7" />
<rect x="459.33" y="92.45" width="2.5" height="6.1" fill="#c8c8c8" />
<line x1="459.91" y1="92.4" x2="459.91" y2="98.6" stroke="#eeeeee" stroke-width="0.7" />
<rect x="462.66" y="92.45" width="2.5" height="6.1" fill="#c8c8c8" />
<line x1="463.24" y1="92.4" x2="463.24" y2="98.6" stroke="#eeeeee" stroke-width="0.7" />
<rect x="466" y="92.45" width="2.5" height="6.1" fill="#c8c8c8" />
<line x1="466.58" y1="92.4" x2="466.58" y2="98.6" stroke="#eeeeee" stroke-width="0.7" />
<rect x="469.34" y="92.45" width="2.5" height="6.1" fill="#c8c8c8" />
<line x1="469.92" y1="92.4" x2="469.92" y2="98.6" stroke="#eeeeee" stroke-width="0.7" />
<rect x="472.67" y="92.45" width="2.5" height="6.1" fill="#c8c8c8" />
<line x1="473.25" y1="92.4" x2="473.25" y2="98.6" stroke="#eeeeee" stroke-width="0.7" />
<rect x="476.01" y="92.45" width="2.5" height="6.1" fill="#c8c8c8" />
<line x1="476.59" y1="92.4" x2="476.59" y2="98.6" stroke="#eeeeee" stroke-width="0.7" />
<rect x="479.35" y="92.45" width="2.5" height="6.1" fill="#c8c8c8" />
<line x1="479.93" y1="92.4" x2="479.93" y2="98.6" stroke="#eeeeee" stroke-width="0.7" />
<rect x="482.68" y="92.45" width="2.5" height="6.1" fill="#c8c8c8" />
<line x1="483.26" y1="92.4" x2="483.26" y2="98.6" stroke="#eeeeee" stroke-width="0.7" />
<rect x="309.17" y="99.45" width="2.5" height="6.1" fill="#c8c8c8" />
<line x1="309.75" y1="99.4" x2="309.75" y2="105.6" stroke="#eeeeee" stroke-width="0.7" />
<rect x="312.51" y="99.45" width="2.5" height="6.1" fill="#c8c8c8" />
<line x1="313.09" y1="99.4" x2="313.09" y2="105.6" stroke="#eeeeee" stroke-width="0.7" />
<rect x="315.84" y="99.45" width="2.5" height="6.1" fill="#c8c8c8" />
<line x1="316.42" y1="99.4" x2="316.42" y2="105.6" stroke="#eeeeee" stroke-width="0.7" />
<rect x="319.18" y="99.45" width="2.5" height="6.1" fill="#c8c8c8" />
<line x1="319.76" y1="99.4" x2="319.76" y2="105.6" stroke="#eeeeee" stroke-width="0.7" />
<rect x="329.19" y="99.45" width="2.5" height="6.1" fill="#c8c8c8" />
<line x1="329.77" y1="99.4" x2="329.77" y2="105.6" stroke="#eeeeee" stroke-width="0.7" />
<rect x="332.53" y="99.45" width="2.5" height="6.1" fill="#c8c8c8" />
<line x1="333.11" y1="99.4" x2="333.11" y2="105.6" stroke="#eeeeee" stroke-width="0.7" />
<rect x="335.86" y="99.45" width="2.5" height="6.1" fill="#c8c8c8" />
<line x1="336.44" y1="99.4" x2="336.44" y2="105.6" stroke="#eeeeee" stroke-width="0.7" />
<rect x="339.2" y="99.45" width="2.5" height="6.1" fill="#c8c8c8" />
<line x1="339.78" y1="99.4" x2="339.78" y2="105.6" stroke="#eeeeee" stroke-width="0.7" />
<rect x="342.54" y="99.45" width="2.5" height="6.1" fill="#c8c8c8" />
<line x1="343.12" y1="99.4" x2="343.12" y2="105.6" stroke="#eeeeee" stroke-width="0.7" />
<rect x="345.87" y="99.45" width="2.5" height="6.1" fill="#c8c8c8" />
<line x1="346.45" y1="99.4" x2="346.45" y2="105.6" stroke="#eeeeee" stroke-width="0.7" />
<rect x="349.21" y="99.45" width="2.5" height="6.1" fill="#c8c8c8" />
<line x1="349.79" y1="99.4" x2="349.79" y2="105.6" stroke="#eeeeee" stroke-width="0.7" />
<rect x="352.55" y="99.45" width="2.5" height="6.1" fill="#c8c8c8" />
<line x1="353.13" y1="99.4" x2="353.13" y2="105.6" stroke="#eeeeee" stroke-width="0.7" />
<rect x="355.89" y="99.45" width="2.5" height="6.1" fill="#c8c8c8" />
<line x1="356.47" y1="99.4" x2="356.47" y2="105.6" stroke="#eeeeee" stroke-width="0.7" />
<rect x="359.22" y="99.45" width="2.5" height="6.1" fill="#c8c8c8" />
<line x1="359.8" y1="99.4" x2="359.8" y2="105.6" stroke="#eeeeee" stroke-width="0.7" />
<rect x="362.56" y="99.45" width="2.5" height="6.1" fill="#c8c8c8" />
<line x1="363.14" y1="99.4" x2="363.14" y2="105.6" stroke="#eeeeee" stroke-width="0.7" />
<rect x="365.9" y="99.45" width="2.5" height="6.1" fill="#c8c8c8" />
<line x1="366.48" y1="99.4" x2="366.48" y2="105.6" stroke="#eeeeee" stroke-width="0.7" />
<rect x="369.23" y="99.45" width="2.5" height="6.1" fill="#c8c8c8" />
<line x1="369.81" y1="99.4" x2="369.81" y2="105.6" stroke="#eeeeee" stroke-width="0.7" />
<rect x="372.57" y="99.45" width="2.5" height="6.1" fill="#c8c8c8" />
<line x1="373.15" y1="99.4" x2="373.15" y2="105.6" stroke="#eeeeee" stroke-width="0.7" />
<rect x="375.91" y="99.45" width="2.5" height="6.1" fill="#c8c8c8" />
<line x1="376.49" y1="99.4" x2="376.49" y2="105.6" stroke="#eeeeee" stroke-width="0.7" />
<rect x="379.24" y="99.45" width="2.5" height="6.1" fill="#c8c8c8" />
<line x1="379.82" y1="99.4" x2="379.82" y2="105.6" stroke="#eeeeee" stroke-width="0.7" />
<rect x="382.58" y="99.45" width="2.5" height="6.1" fill="#c8c8c8" />
<line x1="383.16" y1="99.4" x2="383.16" y2="105.6" stroke="#eeeeee" stroke-width="0.7" />
<rect x="385.92" y="99.45" width="2.5" height="6.1" fill="#c8c8c8" />
<line x1="386.5" y1="99.4" x2="386.5" y2="105.6" stroke="#eeeeee" stroke-width="0.7" />
<rect x="389.25" y="99.45" width="2.5" height="6.1" fill="#c8c8c8" />
<line x1="389.83" y1="99.4" x2="389.83" y2="105.6" stroke="#eeeeee" stroke-width="0.7" />
<rect x="392.59" y="99.45" width="2.5" height="6.1" fill="#c8c8c8" />
<line x1="393.17" y1="99.4" x2="393.17" y2="105.6" stroke="#eeeeee" stroke-width="0.7" />
<rect x="395.93" y="99.45" width="2.5" height="6.1" fill="#c8c8c8" />
<line x1="396.51" y1="99.4" x2="396.51" y2="105.6" stroke="#eeeeee" stroke-width="0.7" />
<rect x="399.26" y="99.45" width="2.5" height="6.1" fill="#c8c8c8" />
<line x1="399.84" y1="99.4" x2="399.84" y2="105.6" stroke="#eeeeee" stroke-width="0.7" />
<rect x="402.6" y="99.45" width="2.5" height="6.1" fill="#c8c8c8" />
<line x1="403.18" y1="99.4" x2="403.18" y2="105.6" stroke="#eeeeee" stroke-width="0.7" />
<rect x="405.94" y="99.45" width="2.5" height="6.1" fill="#c8c8c8" />
<line x1="406.52" y1="99.4" x2="406.52" y2="105.6" stroke="#eeeeee" stroke-width="0.7" />
<rect x="409.27" y="99.45" width="2.5" height="6.1" fill="#c8c8c8" />
<line x1="409.85" y1="99.4" x2="409.85" y2="105.6" stroke="#eeeeee" stroke-width="0.7" />
<rect x="412.61" y="99.45" width="2.5" height="6.1" fill="#c8c8c8" />
<line x1="413.19" y1="99.4" x2="413.19" y2="105.6" stroke="#eeeeee" stroke-width="0.7" />
<rect x="415.95" y="99.45" width="2.5" height="6.1" fill="#c8c8c8" />
<line x1="416.53" y1="99.4" x2="416.53" y2="105.6" stroke="#eeeeee" stroke-width="0.7" />
<rect x="419.28" y="99.45" width="2.5" height="6.1" fill="#c8c8c8" />
<line x1="419.86" y1="99.4" x2="419.86" y2="105.6" stroke="#eeeeee" stroke-width="0.7" />
<rect x="422.62" y="99.45" width="2.5" height="6.1" fill="#c8c8c8" />
<line x1="423.2" y1="99.4" x2="423.2" y2="105.6" stroke="#eeeeee" stroke-width="0.7" />
<rect x="425.96" y="99.45" width="2.5" height="6.1" fill="#c8c8c8" />
<line x1="426.54" y1="99.4" x2="426.54" y2="105.6" stroke="#eeeeee" stroke-width="0.7" />
<rect x="429.29" y="99.45" width="2.5" height="6.1" fill="#c8c8c8" />
<line x1="429.87" y1="99.4" x2="429.87" y2="105.6" stroke="#eeeeee" stroke-width="0.7" />
<rect x="432.63" y="99.45" width="2.5" height="6.1" fill="#c8c8c8" />
<line x1="433.21" y1="99.4" x2="433.21" y2="105.6" stroke="#eeeeee" stroke-width="0.7" />
<rect x="435.97" y="99.45" width="2.5" height="6.1" fill="#c8c8c8" />
<line x1="436.55" y1="99.4" x2="436.55" y2="105.6" stroke="#eeeeee" stroke-width="0.7" />
<rect x="439.3" y="99.45" width="2.5" height="6.1" fill="#c8c8c8" />
<line x1="439.88" y1="99.4" x2="439.88" y2="105.6" stroke="#eeeeee" stroke-width="0.7" />
<rect x="442.64" y="99.45" width="2.5" height="6.1" fill="#c8c8c8" />
<line x1="443.22" y1="99.4" x2="443.22" y2="105.6" stroke="#eeeeee" stroke-width="0.7" />
<rect x="445.98" y="99.45" width="2.5" height="6.1" fill="#c8c8c8" />
<line x1="446.56" y1="99.4" x2="446.56" y2="105.6" stroke="#eeeeee" stroke-width="0.7" />
<rect x="449.32" y="99.45" width="2.5" height="6.1" fill="#c8c8c8" />
<line x1="449.9" y1="99.4" x2="449.9" y2="105.6" stroke="#eeeeee" stroke-width="0.7" />
<rect x="452.65" y="99.45" width="2.5" height="6.1" fill="#c8c8c8" />
<line x1="453.23" y1="99.4" x2="453.23" y2="105.6" stroke="#eeeeee" stroke-width="0.7" />
<rect x="455.99" y="99.45" width="2.5" height="6.1" fill="#c8c8c8" />
<line x1="456.57" y1="99.4" x2="456.57" y2="105.6" stroke="#eeeeee" stroke-width="0.7" />
<rect x="459.33" y="99.45" width="2.5" height="6.1" fill="#c8c8c8" />
<line x1="459.91" y1="99.4" x2="459.91" y2="105.6" stroke="#eeeeee" stroke-width="0.7" />
<rect x="462.66" y="99.45" width="2.5" height="6.1" fill="#c8c8c8" />
<line x1="463.24" y1="99.4" x2="463.24" y2="105.6" stroke="#eeeeee" stroke-width="0.7" />
<rect x="466" y="99.45" width="2.5" height="6.1" fill="#c8c8c8" />
<line x1="466.58" y1="99.4" x2="466.58" y2="105.6" stroke="#eeeeee" stroke-width="0.7" />
<rect x="469.34" y="99.45" width="2.5" height="6.1" fill="#c8c8c8" />
<line x1="469.92" y1="99.4" x2="469.92" y2="105.6" stroke="#eeeeee" stroke-width="0.7" />
<rect x="472.67" y="99.45" width="2.5" height="6.1" fill="#c8c8c8" />
<line x1="473.25" y1="99.4" x2="473.25" y2="105.6" stroke="#eeeeee" stroke-width="0.7" />
<rect x="476.01" y="99.45" width="2.5" height="6.1" fill="#c8c8c8" />
<line x1="476.59" y1="99.4" x2="476.59" y2="105.6" stroke="#eeeeee" stroke-width="0.7" />
<rect x="479.35" y="99.45" width="2.5" height="6.1" fill="#c8c8c8" />
<line x1="479.93" y1="99.4" x2="479.93" y2="105.6" stroke="#eeeeee" stroke-width="0.7" />
<rect x="482.68" y="99.45" width="2.5" height="6.1" fill="#c8c8c8" />
<line x1="483.26" y1="99.4" x2="483.26" y2="105.6" stroke="#eeeeee" stroke-width="0.7" />
<rect x="309.17" y="106.45" width="2.5" height="6.1" fill="#c8c8c8" />
<line x1="309.75" y1="106.4" x2="309.75" y2="112.6" stroke="#eeeeee" stroke-width="0.7" />
<rect x="312.51" y="106.45" width="2.5" height="6.1" fill="#c8c8c8" />
<line x1="313.09" y1="106.4" x2="313.09" y2="112.6" stroke="#eeeeee" stroke-width="0.7" />
<rect x="319.18" y="106.45" width="2.5" height="6.1" fill="#c8c8c8" />
<line x1="319.76" y1="106.4" x2="319.76" y2="112.6" stroke="#eeeeee" stroke-width="0.7" />
<rect x="322.52" y="106.45" width="2.5" height="6.1" fill="#c8c8c8" />
<line x1="323.1" y1="106.4" x2="323.1" y2="112.6" stroke="#eeeeee" stroke-width="0.7" />
<rect x="325.85" y="106.45" width="2.5" height="6.1" fill="#c8c8c8" />
<line x1="326.43" y1="106.4" x2="326.43" y2="112.6" stroke="#eeeeee" stroke-width="0.7" />
<rect x="329.19" y="106.45" width="2.5" height="6.1" fill="#c8c8c8" />
<line x1="329.77" y1="106.4" x2="329.77" y2="112.6" stroke="#eeeeee" stroke-width="0.7" />
<rect x="332.53" y="106.45" width="2.5" height="6.1" fill="#c8c8c8" />
<line x1="333.11" y1="106.4" x2="333.11" y2="112.6" stroke="#eeeeee" stroke-width="0.7" />
<rect x="335.86" y="106.45" width="2.5" height="6.1" fill="#c8c8c8" />
<line x1="336.44" y1="106.4" x2="336.44" y2="112.6" stroke="#eeeeee" stroke-width="0.7" />
<rect x="339.2" y="106.45" width="2.5" height="6.1" fill="#c8c8c8" />
<line x1="339.78" y1="106.4" x2="339.78" y2="112.6" stroke="#eeeeee" stroke-width="0.7" />
<rect x="342.54" y="106.45" width="2.5" height="6.1" fill="#c8c8c8" />
<line x1="343.12" y1="106.4" x2="343.12" y2="112.6" stroke="#eeeeee" stroke-width="0.7" />
<rect x="345.87" y="106.45" width="2.5" height="6.1" fill="#c8c8c8" />
<line x1="346.45" y1="106.4" x2="346.45" y2="112.6" stroke="#eeeeee" stroke-width="0.7" />
<rect x="349.21" y="106.45" width="2.5" height="6.1" fill="#c8c8c8" />
<line x1="349.79" y1="106.4" x2="349.79" y2="112.6" stroke="#eeeeee" stroke-width="0.7" />
<rect x="352.55" y="106.45" width="2.5" height="6.1" fill="#c8c8c8" />
<line x1="353.13" y1="106.4" x2="353.13" y2="112.6" stroke="#eeeeee" stroke-width="0.7" />
<rect x="355.89" y="106.45" width="2.5" height="6.1" fill="#c8c8c8" />
<line x1="356.47" y1="106.4" x2="356.47" y2="112.6" stroke="#eeeeee" stroke-width="0.7" />
<rect x="359.22" y="106.45" width="2.5" height="6.1" fill="#c8c8c8" />
<line x1="359.8" y1="106.4" x2="359.8" y2="112.6" stroke="#eeeeee" stroke-width="0.7" />
<rect x="362.56" y="106.45" width="2.5" height="6.1" fill="#c8c8c8" />
<line x1="363.14" y1="106.4" x2="363.14" y2="112.6" stroke="#eeeeee" stroke-width="0.7" />
<rect x="365.9" y="106.45" width="2.5" height="6.1" fill="#c8c8c8" />
<line x1="366.48" y1="106.4" x2="366.48" y2="112.6" stroke="#eeeeee" stroke-width="0.7" />
<rect x="369.23" y="106.45" width="2.5" height="6.1" fill="#c8c8c8" />
<line x1="369.81" y1="106.4" x2="369.81" y2="112.6" stroke="#eeeeee" stroke-width="0.7" />
<rect x="372.57" y="106.45" width="2.5" height="6.1" fill="#c8c8c8" />
<line x1="373.15" y1="106.4" x2="373.15" y2="112.6" stroke="#eeeeee" stroke-width="0.7" />
<rect x="375.91" y="106.45" width="2.5" height="6.1" fill="#c8c8c8" />
<line x1="376.49" y1="106.4" x2="376.49" y2="112.6" stroke="#eeeeee" stroke-width="0.7" />
<rect x="379.24" y="106.45" width="2.5" height="6.1" fill="#c8c8c8" />
<line x1="379.82" y1="106.4" x2="379.82" y2="112.6" stroke="#eeeeee" stroke-width="0.7" />
<rect x="382.58" y="106.45" width="2.5" height="6.1" fill="#c8c8c8" />
<line x1="383.16" y1="106.4" x2="383.16" y2="112.6" stroke="#eeeeee" stroke-width="0.7" />
<rect x="385.92" y="106.45" width="2.5" height="6.1" fill="#c8c8c8" />
<line x1="386.5" y1="106.4" x2="386.5" y2="112.6" stroke="#eeeeee" stroke-width="0.7" />
<rect x="389.25" y="106.45" width="2.5" height="6.1" fill="#c8c8c8" />
<line x1="389.83" y1="106.4" x2="389.83" y2="112.6" stroke="#eeeeee" stroke-width="0.7" />
<rect x="392.59" y="106.45" width="2.5" height="6.1" fill="#c8c8c8" />
<line x1="393.17" y1="106.4" x2="393.17" y2="112.6" stroke="#eeeeee" stroke-width="0.7" />
<rect x="395.93" y="106.45" width="2.5" height="6.1" fill="#c8c8c8" />
<line x1="396.51" y1="106.4" x2="396.51" y2="112.6" stroke="#eeeeee" stroke-width="0.7" />
<rect x="399.26" y="106.45" width="2.5" height="6.1" fill="#c8c8c8" />
<line x1="399.84" y1="106.4" x2="399.84" y2="112.6" stroke="#eeeeee" stroke-width="0.7" />
<rect x="402.6" y="106.45" width="2.5" height="6.1" fill="#c8c8c8" />
<line x1="403.18" y1="106.4" x2="403.18" y2="112.6" stroke="#eeeeee" stroke-width="0.7" />
<rect x="405.94" y="106.45" width="2.5" height="6.1" fill="#c8c8c8" />
<line x1="406.52" y1="106.4" x2="406.52" y2="112.6" stroke="#eeeeee" stroke-width="0.7" />
<rect x="409.27" y="106.45" width="2.5" height="6.1" fill="#c8c8c8" />
<line x1="409.85" y1="106.4" x2="409.85" y2="112.6" stroke="#eeeeee" stroke-width="0.7" />
<rect x="412.61" y="106.45" width="2.5" height="6.1" fill="#c8c8c8" />
<line x1="413.19" y1="106.4" x2="413.19" y2="112.6" stroke="#eeeeee" stroke-width="0.7" />
<rect x="415.95" y="106.45" width="2.5" height="6.1" fill="#c8c8c8" />
<line x1="416.53" y1="106.4" x2="416.53" y2="112.6" stroke="#eeeeee" stroke-width="0.7" />
<rect x="419.28" y="106.45" width="2.5" height="6.1" fill="#c8c8c8" />
<line x1="419.86" y1="106.4" x2="419.86" y2="112.6" stroke="#eeeeee" stroke-width="0.7" />
<rect x="422.62" y="106.45" width="2.5" height="6.1" fill="#c8c8c8" />
<line x1="423.2" y1="106.4" x2="423.2" y2="112.6" stroke="#eeeeee" stroke-width="0.7" />
<rect x="425.96" y="106.45" width="2.5" height="6.1" fill="#c8c8c8" />
<line x1="426.54" y1="106.4" x2="426.54" y2="112.6" stroke="#eeeeee" stroke-width="0.7" />
<rect x="429.29" y="106.45" width="2.5" height="6.1" fill="#c8c8c8" />
<line x1="429.87" y1="106.4" x2="429.87" y2="112.6" stroke="#eeeeee" stroke-width="0.7" />
<rect x="432.63" y="106.45" width="2.5" height="6.1" fill="#c8c8c8" />
<line x1="433.21" y1="106.4" x2="433.21" y2="112.6" stroke="#eeeeee" stroke-width="0.7" />
<rect x="435.97" y="106.45" width="2.5" height="6.1" fill="#c8c8c8" />
<line x1="436.55" y1="106.4" x2="436.55" y2="112.6" stroke="#eeeeee" stroke-width="0.7" />
<rect x="439.3" y="106.45" width="2.5" height="6.1" fill="#c8c8c8" />
<line x1="439.88" y1="106.4" x2="439.88" y2="112.6" stroke="#eeeeee" stroke-width="0.7" />
<rect x="442.64" y="106.45" width="2.5" height="6.1" fill="#c8c8c8" />
<line x1="443.22" y1="106.4" x2="443.22" y2="112.6" stroke="#eeeeee" stroke-width="0.7" />
<rect x="445.98" y="106.45" width="2.5" height="6.1" fill="#c8c8c8" />
<line x1="446.56" y1="106.4" x2="446.56" y2="112.6" stroke="#eeeeee" stroke-width="0.7" />
<rect x="449.32" y="106.45" width="2.5" height="6.1" fill="#c8c8c8" />
<line x1="449.9" y1="106.4" x2="449.9" y2="112.6" stroke="#eeeeee" stroke-width="0.7" />
<rect x="452.65" y="106.45" width="2.5" height="6.1" fill="#c8c8c8" />
<line x1="453.23" y1="106.4" x2="453.23" y2="112.6" stroke="#eeeeee" stroke-width="0.7" />
<rect x="455.99" y="106.45" width="2.5" height="6.1" fill="#c8c8c8" />
<line x1="456.57" y1="106.4" x2="456.57" y2="112.6" stroke="#eeeeee" stroke-width="0.7" />
<rect x="459.33" y="106.45" width="2.5" height="6.1" fill="#c8c8c8" />
<line x1="459.91" y1="106.4" x2="459.91" y2="112.6" stroke="#eeeeee" stroke-width="0.7" />
<rect x="462.66" y="106.45" width="2.5" height="6.1" fill="#c8c8c8" />
<line x1="463.24" y1="106.4" x2="463.24" y2="112.6" stroke="#eeeeee" stroke-width="0.7" />
<rect x="466" y="106.45" width="2.5" height="6.1" fill="#c8c8c8" />
<line x1="466.58" y1="106.4" x2="466.58" y2="112.6" stroke="#eeeeee" stroke-width="0.7" />
<rect x="469.34" y="106.45" width="2.5" height="6.1" fill="#c8c8c8" />
<line x1="469.92" y1="106.4" x2="469.92" y2="112.6" stroke="#eeeeee" stroke-width="0.7" />
<rect x="472.67" y="106.45" width="2.5" height="6.1" fill="#c8c8c8" />
<line x1="473.25" y1="106.4" x2="473.25" y2="112.6" stroke="#eeeeee" stroke-width="0.7" />
<rect x="476.01" y="106.45" width="2.5" height="6.1" fill="#c8c8c8" />
<line x1="476.59" y1="106.4" x2="476.59" y2="112.6" stroke="#eeeeee" stroke-width="0.7" />
<rect x="479.35" y="106.45" width="2.5" height="6.1" fill="#c8c8c8" />
<line x1="479.93" y1="106.4" x2="479.93" y2="112.6" stroke="#eeeeee" stroke-width="0.7" />
<rect x="482.68" y="106.45" width="2.5" height="6.1" fill="#c8c8c8" />
<line x1="483.26" y1="106.4" x2="483.26" y2="112.6" stroke="#eeeeee" stroke-width="0.7" />
<rect x="335.39" y="29.1" width="3.44" height="6.8" fill="#7a1a82" />
<rect x="338.73" y="29.1" width="3.44" height="6.8" fill="#7a1a82" />
<rect x="342.07" y="29.1" width="3.44" height="6.8" fill="#7a1a82" />
<rect x="345.4" y="29.1" width="3.44" height="6.8" fill="#7a1a82" />
<rect x="348.74" y="29.1" width="3.44" height="6.8" fill="#7a1a82" />
<rect x="352.08" y="29.1" width="3.44" height="6.8" fill="#7a1a82" />
<rect x="355.42" y="29.1" width="3.44" height="6.8" fill="#7a1a82" />
<rect x="358.75" y="29.1" width="3.44" height="6.8" fill="#7a1a82" />
<rect x="362.09" y="29.1" width="3.44" height="6.8" fill="#7a1a82" />
<rect x="365.43" y="29.1" width="3.44" height="6.8" fill="#7a1a82" />
<rect x="368.76" y="29.1" width="3.44" height="6.8" fill="#7a1a82" />
<rect x="372.1" y="29.1" width="3.44" height="6.8" fill="#7a1a82" />
<rect x="375.44" y="29.1" width="3.44" height="6.8" fill="#7a1a82" />
<rect x="378.77" y="29.1" width="3.44" height="6.8" fill="#7a1a82" />
<rect x="382.11" y="29.1" width="3.44" height="6.8" fill="#7a1a82" />
<rect x="385.45" y="29.1" width="3.44" height="6.8" fill="#7a1a82" />
<rect x="398.79" y="29.1" width="3.44" height="6.8" fill="#7a1a82" />
<rect x="415.48" y="29.1" width="3.44" height="6.8" fill="#7a1a82" />
<rect x="445.51" y="29.1" width="3.44" height="6.8" fill="#7a1a82" />
<rect x="468.87" y="29.1" width="3.44" height="6.8" fill="#7a1a82" />
<rect x="478.88" y="29.1" width="3.44" height="6.8" fill="#7a1a82" />
<rect x="352.08" y="36.1" width="3.44" height="6.8" fill="#7a1a82" />
<rect x="368.76" y="36.1" width="3.44" height="6.8" fill="#7a1a82" />
<rect x="372.1" y="36.1" width="3.44" height="6.8" fill="#7a1a82" />
<rect x="385.45" y="36.1" width="3.44" height="6.8" fill="#7a1a82" />
<rect x="445.51" y="36.1" width="3.44" height="6.8" fill="#7a1a82" />
<rect x="468.87" y="36.1" width="3.44" height="6.8" fill="#7a1a82" />
<rect x="392.12" y="43.1" width="3.44" height="6.8" fill="#7a1a82" />
<rect x="398.79" y="43.1" width="3.44" height="6.8" fill="#7a1a82" />
<rect x="402.13" y="43.1" width="3.44" height="6.8" fill="#7a1a82" />
<rect x="418.81" y="43.1" width="3.44" height="6.8" fill="#7a1a82" />
<rect x="422.15" y="43.1" width="3.44" height="6.8" fill="#7a1a82" />
<rect x="425.49" y="43.1" width="3.44" height="6.8" fill="#7a1a82" />
<rect x="435.5" y="43.1" width="3.44" height="6.8" fill="#7a1a82" />
<rect x="438.83" y="43.1" width="3.44" height="6.8" fill="#7a1a82" />
<rect x="445.51" y="43.1" width="3.44" height="6.8" fill="#7a1a82" />
<rect x="448.85" y="43.1" width="3.44" height="6.8" fill="#7a1a82" />
<rect x="452.18" y="43.1" width="3.44" height="6.8" fill="#7a1a82" />
<rect x="455.52" y="43.1" width="3.44" height="6.8" fill="#7a1a82" />
<rect x="462.19" y="43.1" width="3.44" height="6.8" fill="#7a1a82" />
<rect x="468.87" y="43.1" width="3.44" height="6.8" fill="#7a1a82" />
<rect x="472.2" y="43.1" width="3.44" height="6.8" fill="#7a1a82" />
<rect x="318.71" y="50.1" width="3.44" height="6.8" fill="#7a1a82" />
<rect x="398.79" y="50.1" width="3.44" height="6.8" fill="#7a1a82" />
<rect x="402.13" y="50.1" width="3.44" height="6.8" fill="#7a1a82" />
<rect x="418.81" y="50.1" width="3.44" height="6.8" fill="#7a1a82" />
<rect x="422.15" y="50.1" width="3.44" height="6.8" fill="#7a1a82" />
<rect x="425.49" y="50.1" width="3.44" height="6.8" fill="#7a1a82" />
<rect x="435.5" y="50.1" width="3.44" height="6.8" fill="#7a1a82" />
<rect x="438.83" y="50.1" width="3.44" height="6.8" fill="#7a1a82" />
<rect x="445.51" y="50.1" width="3.44" height="6.8" fill="#7a1a82" />
<rect x="468.87" y="50.1" width="3.44" height="6.8" fill="#7a1a82" />
<rect x="395.46" y="57.1" width="3.44" height="6.8" fill="#7a1a82" />
<rect x="398.79" y="57.1" width="3.44" height="6.8" fill="#7a1a82" />
<rect x="402.13" y="57.1" width="3.44" height="6.8" fill="#7a1a82" />
<rect x="408.8" y="57.1" width="3.44" height="6.8" fill="#7a1a82" />
<rect x="435.5" y="57.1" width="3.44" height="6.8" fill="#7a1a82" />
<rect x="445.51" y="57.1" width="3.44" height="6.8" fill="#7a1a82" />
<rect x="452.18" y="57.1" width="3.44" height="6.8" fill="#7a1a82" />
<rect x="458.86" y="57.1" width="3.44" height="6.8" fill="#7a1a82" />
<rect x="482.21" y="57.1" width="3.44" height="6.8" fill="#7a1a82" />
<rect x="395.46" y="64.1" width="3.44" height="6.8" fill="#7a1a82" />
<rect x="402.13" y="64.1" width="3.44" height="6.8" fill="#7a1a82" />
<rect x="408.8" y="64.1" width="3.44" height="6.8" fill="#7a1a82" />
<rect x="435.5" y="64.1" width="3.44" height="6.8" fill="#7a1a82" />
<rect x="445.51" y="64.1" width="3.44" height="6.8" fill="#7a1a82" />
<rect x="458.86" y="64.1" width="3.44" height="6.8" fill="#7a1a82" />
<rect x="468.87" y="64.1" width="3.44" height="6.8" fill="#7a1a82" />
<rect x="482.21" y="64.1" width="3.44" height="6.8" fill="#7a1a82" />
<rect x="308.7" y="71.1" width="3.44" height="6.8" fill="#7a1a82" />
<rect x="312.04" y="71.1" width="3.44" height="6.8" fill="#7a1a82" />
<rect x="318.71" y="71.1" width="3.44" height="6.8" fill="#7a1a82" />
<rect x="328.72" y="71.1" width="3.44" height="6.8" fill="#7a1a82" />
<rect x="332.06" y="71.1" width="3.44" height="6.8" fill="#7a1a82" />
<rect x="398.79" y="71.1" width="3.44" height="6.8" fill="#7a1a82" />
<rect x="402.13" y="71.1" width="3.44" height="6.8" fill="#7a1a82" />
<rect x="405.47" y="71.1" width="3.44" height="6.8" fill="#7a1a82" />
<rect x="408.8" y="71.1" width="3.44" height="6.8" fill="#7a1a82" />
<rect x="415.48" y="71.1" width="3.44" height="6.8" fill="#7a1a82" />
<rect x="418.81" y="71.1" width="3.44" height="6.8" fill="#7a1a82" />
<rect x="422.15" y="71.1" width="3.44" height="6.8" fill="#7a1a82" />
<rect x="425.49" y="71.1" width="3.44" height="6.8" fill="#7a1a82" />
<rect x="428.82" y="71.1" width="3.44" height="6.8" fill="#7a1a82" />
<rect x="432.16" y="71.1" width="3.44" height="6.8" fill="#7a1a82" />
<rect x="435.5" y="71.1" width="3.44" height="6.8" fill="#7a1a82" />
<rect x="438.83" y="71.1" width="3.44" height="6.8" fill="#7a1a82" />
<rect x="445.51" y="71.1" width="3.44" height="6.8" fill="#7a1a82" />
<rect x="448.85" y="71.1" width="3.44" height="6.8" fill="#7a1a82" />
<rect x="452.18" y="71.1" width="3.44" height="6.8" fill="#7a1a82" />
<rect x="455.52" y="71.1" width="3.44" height="6.8" fill="#7a1a82" />
<rect x="462.19" y="71.1" width="3.44" height="6.8" fill="#7a1a82" />
<rect x="465.53" y="71.1" width="3.44" height="6.8" fill="#7a1a82" />
<rect x="468.87" y="71.1" width="3.44" height="6.8" fill="#7a1a82" />
<rect x="472.2" y="71.1" width="3.44" height="6.8" fill="#7a1a82" />
<rect x="475.54" y="71.1" width="3.44" height="6.8" fill="#7a1a82" />
<rect x="318.71" y="78.1" width="3.44" height="6.8" fill="#7a1a82" />
<rect x="398.79" y="78.1" width="3.44" height="6.8" fill="#7a1a82" />
<rect x="402.13" y="78.1" width="3.44" height="6.8" fill="#7a1a82" />
<rect x="418.81" y="78.1" width="3.44" height="6.8" fill="#7a1a82" />
<rect x="422.15" y="78.1" width="3.44" height="6.8" fill="#7a1a82" />
<rect x="425.49" y="78.1" width="3.44" height="6.8" fill="#7a1a82" />
<rect x="435.5" y="78.1" width="3.44" height="6.8" fill="#7a1a82" />
<rect x="445.51" y="78.1" width="3.44" height="6.8" fill="#7a1a82" />
<rect x="448.85" y="78.1" width="3.44" height="6.8" fill="#7a1a82" />
<rect x="452.18" y="78.1" width="3.44" height="6.8" fill="#7a1a82" />
<rect x="455.52" y="78.1" width="3.44" height="6.8" fill="#7a1a82" />
<rect x="462.19" y="78.1" width="3.44" height="6.8" fill="#7a1a82" />
<rect x="465.53" y="78.1" width="3.44" height="6.8" fill="#7a1a82" />
<rect x="468.87" y="78.1" width="3.44" height="6.8" fill="#7a1a82" />
<rect x="472.2" y="78.1" width="3.44" height="6.8" fill="#7a1a82" />
<rect x="482.21" y="78.1" width="3.44" height="6.8" fill="#7a1a82" />
<rect x="445.51" y="85.1" width="3.44" height="6.8" fill="#7a1a82" />
<rect x="468.87" y="85.1" width="3.44" height="6.8" fill="#7a1a82" />
<rect x="445.51" y="92.1" width="3.44" height="6.8" fill="#7a1a82" />
<rect x="322.05" y="99.1" width="3.44" height="6.8" fill="#7a1a82" />
<rect x="325.38" y="99.1" width="3.44" height="6.8" fill="#7a1a82" />
<rect x="315.37" y="106.1" width="3.44" height="6.8" fill="#7a1a82" />
<line x1="485.9" y1="25.7" x2="488" y2="25.7" stroke="#444" stroke-width="0.8" />
<text x="490.6" y="28" font-size="6.7" text-anchor="start" fill="#454545" >mouse</text>
<line x1="485.9" y1="32.5" x2="488" y2="32.5" stroke="#444" stroke-width="0.8" />
<text x="490.6" y="34.9" font-size="6.7" text-anchor="start" fill="#454545" >HSC</text>
<line x1="485.9" y1="39.5" x2="488" y2="39.5" stroke="#444" stroke-width="0.8" />
<text x="490.6" y="41.9" font-size="6.7" text-anchor="start" fill="#454545" >MPP1/2</text>
<line x1="485.9" y1="46.5" x2="488" y2="46.5" stroke="#444" stroke-width="0.8" />
<text x="490.6" y="48.9" font-size="6.7" text-anchor="start" fill="#454545" >MPP3</text>
<line x1="485.9" y1="53.5" x2="488" y2="53.5" stroke="#444" stroke-width="0.8" />
<text x="490.6" y="55.9" font-size="6.7" text-anchor="start" fill="#454545" >MPP4</text>
<line x1="485.9" y1="60.5" x2="488" y2="60.5" stroke="#444" stroke-width="0.8" />
<text x="490.6" y="62.9" font-size="6.7" text-anchor="start" fill="#454545" >CMP</text>
<line x1="485.9" y1="67.5" x2="488" y2="67.5" stroke="#444" stroke-width="0.8" />
<text x="490.6" y="69.9" font-size="6.7" text-anchor="start" fill="#454545" >GMP</text>
<line x1="485.9" y1="74.5" x2="488" y2="74.5" stroke="#444" stroke-width="0.8" />
<text x="490.6" y="76.9" font-size="6.7" text-anchor="start" fill="#454545" >Gran.</text>
<line x1="485.9" y1="81.5" x2="488" y2="81.5" stroke="#444" stroke-width="0.8" />
<text x="490.6" y="83.9" font-size="6.7" text-anchor="start" fill="#454545" >Mono.</text>
<line x1="485.9" y1="88.5" x2="488" y2="88.5" stroke="#444" stroke-width="0.8" />
<text x="490.6" y="90.9" font-size="6.7" text-anchor="start" fill="#454545" >MEP</text>
<line x1="485.9" y1="95.5" x2="488" y2="95.5" stroke="#444" stroke-width="0.8" />
<text x="490.6" y="97.9" font-size="6.7" text-anchor="start" fill="#454545" >CLP</text>
<line x1="485.9" y1="102.5" x2="488" y2="102.5" stroke="#444" stroke-width="0.8" />
<text x="490.6" y="104.9" font-size="6.7" text-anchor="start" fill="#454545" >B cell</text>
<line x1="485.9" y1="109.5" x2="488" y2="109.5" stroke="#444" stroke-width="0.8" />
<text x="490.6" y="111.9" font-size="6.7" text-anchor="start" fill="#454545" >T cell</text>
<rect x="354.8" y="117" width="4.6" height="4.8" fill="#7a1a82" />
<text x="364.2" y="121.5" font-size="6.4" text-anchor="start" fill="#454545" textLength="76.3" lengthAdjust="spacingAndGlyphs" >Tet2 KO overexpanded clone</text>
<rect x="87" y="207.25" width="3.93" height="7.6" fill="#3587a6" />
<rect x="90.43" y="207.25" width="3.93" height="7.6" fill="#3587a6" />
<rect x="93.87" y="207.25" width="3.93" height="7.6" fill="#3587a6" />
<rect x="97.3" y="207.25" width="3.93" height="7.6" fill="#3764a0" />
<rect x="100.74" y="207.25" width="3.93" height="7.6" fill="#3b3f84" />
<rect x="104.17" y="207.25" width="3.93" height="7.6" fill="#3764a0" />
<rect x="107.61" y="207.25" width="3.93" height="7.6" fill="#3764a0" />
<rect x="111.04" y="207.25" width="3.93" height="7.6" fill="#3b3f84" />
<rect x="114.48" y="207.25" width="3.93" height="7.6" fill="#3a2b5c" />
<rect x="117.91" y="207.25" width="3.93" height="7.6" fill="#3b3f84" />
<rect x="121.35" y="207.25" width="3.93" height="7.6" fill="#3a2b5c" />
<rect x="124.78" y="207.25" width="3.93" height="7.6" fill="#3b3f84" />
<rect x="128.22" y="207.25" width="3.93" height="7.6" fill="#3a2b5c" />
<rect x="131.65" y="207.25" width="3.93" height="7.6" fill="#3a2b5c" />
<rect x="135.08" y="207.25" width="3.93" height="7.6" fill="#3b3f84" />
<rect x="138.52" y="207.25" width="3.93" height="7.6" fill="#3a2b5c" />
<rect x="141.95" y="207.25" width="3.93" height="7.6" fill="#3b3f84" />
<rect x="145.39" y="207.25" width="3.93" height="7.6" fill="#3a2b5c" />
<rect x="148.82" y="207.25" width="3.93" height="7.6" fill="#3b3f84" />
<rect x="152.26" y="207.25" width="3.93" height="7.6" fill="#3b3f84" />
<rect x="155.69" y="207.25" width="3.93" height="7.6" fill="#3b3f84" />
<rect x="159.13" y="207.25" width="3.93" height="7.6" fill="#3b3f84" />
<rect x="162.56" y="207.25" width="3.93" height="7.6" fill="#3a2b5c" />
<rect x="166" y="207.25" width="3.93" height="7.6" fill="#24152f" />
<rect x="169.43" y="207.25" width="3.93" height="7.6" fill="#3587a6" />
<rect x="172.87" y="207.25" width="3.93" height="7.6" fill="#3764a0" />
<rect x="176.3" y="207.25" width="3.93" height="7.6" fill="#3b3f84" />
<rect x="179.73" y="207.25" width="3.93" height="7.6" fill="#3b3f84" />
<rect x="183.17" y="207.25" width="3.93" height="7.6" fill="#3b3f84" />
<rect x="186.6" y="207.25" width="3.93" height="7.6" fill="#3587a6" />
<rect x="190.04" y="207.25" width="3.93" height="7.6" fill="#3b3f84" />
<rect x="193.47" y="207.25" width="3.93" height="7.6" fill="#3764a0" />
<rect x="196.91" y="207.25" width="3.93" height="7.6" fill="#3b3f84" />
<rect x="200.34" y="207.25" width="3.93" height="7.6" fill="#3b3f84" />
<rect x="203.78" y="207.25" width="3.93" height="7.6" fill="#3b3f84" />
<rect x="207.21" y="207.25" width="3.93" height="7.6" fill="#41b0ac" />
<rect x="210.65" y="207.25" width="3.93" height="7.6" fill="#3764a0" />
<rect x="214.08" y="207.25" width="3.93" height="7.6" fill="#3764a0" />
<rect x="217.52" y="207.25" width="3.93" height="7.6" fill="#3764a0" />
<rect x="220.95" y="207.25" width="3.93" height="7.6" fill="#3587a6" />
<rect x="224.38" y="207.25" width="3.93" height="7.6" fill="#24152f" />
<rect x="227.82" y="207.25" width="3.93" height="7.6" fill="#3764a0" />
<rect x="231.25" y="207.25" width="3.93" height="7.6" fill="#3764a0" />
<rect x="234.69" y="207.25" width="3.93" height="7.6" fill="#3b3f84" />
<rect x="238.12" y="207.25" width="3.93" height="7.6" fill="#3764a0" />
<rect x="241.56" y="207.25" width="3.93" height="7.6" fill="#3764a0" />
<rect x="244.99" y="207.25" width="3.93" height="7.6" fill="#3587a6" />
<rect x="248.43" y="207.25" width="3.93" height="7.6" fill="#3a2b5c" />
<rect x="251.86" y="207.25" width="3.93" height="7.6" fill="#3b3f84" />
<rect x="255.3" y="207.25" width="3.93" height="7.6" fill="#3764a0" />
<rect x="258.73" y="207.25" width="3.93" height="7.6" fill="#3a2b5c" />
<rect x="262.17" y="207.25" width="3.43" height="7.6" fill="#3a2b5c" />
<rect x="87" y="214.35" width="3.93" height="7.6" fill="#3587a6" />
<rect x="90.43" y="214.35" width="3.93" height="7.6" fill="#3587a6" />
<rect x="93.87" y="214.35" width="3.93" height="7.6" fill="#3764a0" />
<rect x="97.3" y="214.35" width="3.93" height="7.6" fill="#3764a0" />
<rect x="100.74" y="214.35" width="3.93" height="7.6" fill="#3764a0" />
<rect x="104.17" y="214.35" width="3.93" height="7.6" fill="#3a2b5c" />
<rect x="107.61" y="214.35" width="3.93" height="7.6" fill="#3a2b5c" />
<rect x="111.04" y="214.35" width="3.93" height="7.6" fill="#41b0ac" />
<rect x="114.48" y="214.35" width="3.93" height="7.6" fill="#41b0ac" />
<rect x="117.91" y="214.35" width="3.93" height="7.6" fill="#3587a6" />
<rect x="121.35" y="214.35" width="3.93" height="7.6" fill="#41b0ac" />
<rect x="124.78" y="214.35" width="3.93" height="7.6" fill="#41b0ac" />
<rect x="128.22" y="214.35" width="3.93" height="7.6" fill="#3a2b5c" />
<rect x="131.65" y="214.35" width="3.93" height="7.6" fill="#3b3f84" />
<rect x="135.08" y="214.35" width="3.93" height="7.6" fill="#3764a0" />
<rect x="138.52" y="214.35" width="3.93" height="7.6" fill="#3b3f84" />
<rect x="141.95" y="214.35" width="3.93" height="7.6" fill="#3a2b5c" />
<rect x="145.39" y="214.35" width="3.93" height="7.6" fill="#3b3f84" />
<rect x="148.82" y="214.35" width="3.93" height="7.6" fill="#3b3f84" />
<rect x="152.26" y="214.35" width="3.93" height="7.6" fill="#3b3f84" />
<rect x="155.69" y="214.35" width="3.93" height="7.6" fill="#3b3f84" />
<rect x="159.13" y="214.35" width="3.93" height="7.6" fill="#3b3f84" />
<rect x="162.56" y="214.35" width="3.93" height="7.6" fill="#3a2b5c" />
<rect x="166" y="214.35" width="3.93" height="7.6" fill="#3a2b5c" />
<rect x="169.43" y="214.35" width="3.93" height="7.6" fill="#41b0ac" />
<rect x="172.87" y="214.35" width="3.93" height="7.6" fill="#3764a0" />
<rect x="176.3" y="214.35" width="3.93" height="7.6" fill="#3b3f84" />
<rect x="179.73" y="214.35" width="3.93" height="7.6" fill="#3b3f84" />
<rect x="183.17" y="214.35" width="3.93" height="7.6" fill="#3b3f84" />
<rect x="186.6" y="214.35" width="3.93" height="7.6" fill="#3587a6" />
<rect x="190.04" y="214.35" width="3.93" height="7.6" fill="#3b3f84" />
<rect x="193.47" y="214.35" width="3.93" height="7.6" fill="#41b0ac" />
<rect x="196.91" y="214.35" width="3.93" height="7.6" fill="#3b3f84" />
<rect x="200.34" y="214.35" width="3.93" height="7.6" fill="#3587a6" />
<rect x="203.78" y="214.35" width="3.93" height="7.6" fill="#3587a6" />
<rect x="207.21" y="214.35" width="3.93" height="7.6" fill="#41b0ac" />
<rect x="210.65" y="214.35" width="3.93" height="7.6" fill="#3764a0" />
<rect x="214.08" y="214.35" width="3.93" height="7.6" fill="#3b3f84" />
<rect x="217.52" y="214.35" width="3.93" height="7.6" fill="#3587a6" />
<rect x="220.95" y="214.35" width="3.93" height="7.6" fill="#3587a6" />
<rect x="224.38" y="214.35" width="3.93" height="7.6" fill="#24152f" />
<rect x="227.82" y="214.35" width="3.93" height="7.6" fill="#3764a0" />
<rect x="231.25" y="214.35" width="3.93" height="7.6" fill="#3b3f84" />
<rect x="234.69" y="214.35" width="3.93" height="7.6" fill="#3b3f84" />
<rect x="238.12" y="214.35" width="3.93" height="7.6" fill="#3b3f84" />
<rect x="241.56" y="214.35" width="3.93" height="7.6" fill="#3764a0" />
<rect x="244.99" y="214.35" width="3.93" height="7.6" fill="#3587a6" />
<rect x="248.43" y="214.35" width="3.93" height="7.6" fill="#3a2b5c" />
<rect x="251.86" y="214.35" width="3.93" height="7.6" fill="#3b3f84" />
<rect x="255.3" y="214.35" width="3.93" height="7.6" fill="#3587a6" />
<rect x="258.73" y="214.35" width="3.93" height="7.6" fill="#3587a6" />
<rect x="262.17" y="214.35" width="3.43" height="7.6" fill="#3587a6" />
<rect x="87" y="221.45" width="3.93" height="7.6" fill="#3764a0" />
<rect x="90.43" y="221.45" width="3.93" height="7.6" fill="#3764a0" />
<rect x="93.87" y="221.45" width="3.93" height="7.6" fill="#3764a0" />
<rect x="97.3" y="221.45" width="3.93" height="7.6" fill="#3b3f84" />
<rect x="100.74" y="221.45" width="3.93" height="7.6" fill="#3764a0" />
<rect x="104.17" y="221.45" width="3.93" height="7.6" fill="#3764a0" />
<rect x="107.61" y="221.45" width="3.93" height="7.6" fill="#3764a0" />
<rect x="111.04" y="221.45" width="3.93" height="7.6" fill="#41b0ac" />
<rect x="114.48" y="221.45" width="3.93" height="7.6" fill="#41b0ac" />
<rect x="117.91" y="221.45" width="3.93" height="7.6" fill="#3b3f84" />
<rect x="121.35" y="221.45" width="3.93" height="7.6" fill="#41b0ac" />
<rect x="124.78" y="221.45" width="3.93" height="7.6" fill="#d9f1e1" />
<rect x="128.22" y="221.45" width="3.93" height="7.6" fill="#3b3f84" />
<rect x="131.65" y="221.45" width="3.93" height="7.6" fill="#41b0ac" />
<rect x="135.08" y="221.45" width="3.93" height="7.6" fill="#41b0ac" />
<rect x="138.52" y="221.45" width="3.93" height="7.6" fill="#d9f1e1" />
<rect x="141.95" y="221.45" width="3.93" height="7.6" fill="#41b0ac" />
<rect x="145.39" y="221.45" width="3.93" height="7.6" fill="#d9f1e1" />
<rect x="148.82" y="221.45" width="3.93" height="7.6" fill="#41b0ac" />
<rect x="152.26" y="221.45" width="3.93" height="7.6" fill="#41b0ac" />
<rect x="155.69" y="221.45" width="3.93" height="7.6" fill="#41b0ac" />
<rect x="159.13" y="221.45" width="3.93" height="7.6" fill="#41b0ac" />
<rect x="162.56" y="221.45" width="3.93" height="7.6" fill="#d9f1e1" />
<rect x="166" y="221.45" width="3.93" height="7.6" fill="#3764a0" />
<rect x="169.43" y="221.45" width="3.93" height="7.6" fill="#3b3f84" />
<rect x="172.87" y="221.45" width="3.93" height="7.6" fill="#3a2b5c" />
<rect x="176.3" y="221.45" width="3.93" height="7.6" fill="#3b3f84" />
<rect x="179.73" y="221.45" width="3.93" height="7.6" fill="#3b3f84" />
<rect x="183.17" y="221.45" width="3.93" height="7.6" fill="#3b3f84" />
<rect x="186.6" y="221.45" width="3.93" height="7.6" fill="#3764a0" />
<rect x="190.04" y="221.45" width="3.93" height="7.6" fill="#3a2b5c" />
<rect x="193.47" y="221.45" width="3.93" height="7.6" fill="#3764a0" />
<rect x="196.91" y="221.45" width="3.93" height="7.6" fill="#3764a0" />
<rect x="200.34" y="221.45" width="3.93" height="7.6" fill="#24152f" />
<rect x="203.78" y="221.45" width="3.93" height="7.6" fill="#24152f" />
<rect x="207.21" y="221.45" width="3.93" height="7.6" fill="#3764a0" />
<rect x="210.65" y="221.45" width="3.93" height="7.6" fill="#3b3f84" />
<rect x="214.08" y="221.45" width="3.93" height="7.6" fill="#3a2b5c" />
<rect x="217.52" y="221.45" width="3.93" height="7.6" fill="#3764a0" />
<rect x="220.95" y="221.45" width="3.93" height="7.6" fill="#3587a6" />
<rect x="224.38" y="221.45" width="3.93" height="7.6" fill="#24152f" />
<rect x="227.82" y="221.45" width="3.93" height="7.6" fill="#3764a0" />
<rect x="231.25" y="221.45" width="3.93" height="7.6" fill="#3b3f84" />
<rect x="234.69" y="221.45" width="3.93" height="7.6" fill="#3a2b5c" />
<rect x="238.12" y="221.45" width="3.93" height="7.6" fill="#3a2b5c" />
<rect x="241.56" y="221.45" width="3.93" height="7.6" fill="#3b3f84" />
<rect x="244.99" y="221.45" width="3.93" height="7.6" fill="#3764a0" />
<rect x="248.43" y="221.45" width="3.93" height="7.6" fill="#24152f" />
<rect x="251.86" y="221.45" width="3.93" height="7.6" fill="#3764a0" />
<rect x="255.3" y="221.45" width="3.93" height="7.6" fill="#3764a0" />
<rect x="258.73" y="221.45" width="3.93" height="7.6" fill="#3b3f84" />
<rect x="262.17" y="221.45" width="3.43" height="7.6" fill="#3b3f84" />
<rect x="87" y="228.55" width="3.93" height="7.6" fill="#3764a0" />
<rect x="90.43" y="228.55" width="3.93" height="7.6" fill="#3764a0" />
<rect x="93.87" y="228.55" width="3.93" height="7.6" fill="#3b3f84" />
<rect x="97.3" y="228.55" width="3.93" height="7.6" fill="#3a2b5c" />
<rect x="100.74" y="228.55" width="3.93" height="7.6" fill="#3b3f84" />
<rect x="104.17" y="228.55" width="3.93" height="7.6" fill="#3764a0" />
<rect x="107.61" y="228.55" width="3.93" height="7.6" fill="#3764a0" />
<rect x="111.04" y="228.55" width="3.93" height="7.6" fill="#41b0ac" />
<rect x="114.48" y="228.55" width="3.93" height="7.6" fill="#41b0ac" />
<rect x="117.91" y="228.55" width="3.93" height="7.6" fill="#3b3f84" />
<rect x="121.35" y="228.55" width="3.93" height="7.6" fill="#41b0ac" />
<rect x="124.78" y="228.55" width="3.93" height="7.6" fill="#d9f1e1" />
<rect x="128.22" y="228.55" width="3.93" height="7.6" fill="#3b3f84" />
<rect x="131.65" y="228.55" width="3.93" height="7.6" fill="#41b0ac" />
<rect x="135.08" y="228.55" width="3.93" height="7.6" fill="#d9f1e1" />
<rect x="138.52" y="228.55" width="3.93" height="7.6" fill="#d9f1e1" />
<rect x="141.95" y="228.55" width="3.93" height="7.6" fill="#41b0ac" />
<rect x="145.39" y="228.55" width="3.93" height="7.6" fill="#41b0ac" />
<rect x="148.82" y="228.55" width="3.93" height="7.6" fill="#d9f1e1" />
<rect x="152.26" y="228.55" width="3.93" height="7.6" fill="#41b0ac" />
<rect x="155.69" y="228.55" width="3.93" height="7.6" fill="#41b0ac" />
<rect x="159.13" y="228.55" width="3.93" height="7.6" fill="#3587a6" />
<rect x="162.56" y="228.55" width="3.93" height="7.6" fill="#d9f1e1" />
<rect x="166" y="228.55" width="3.93" height="7.6" fill="#3587a6" />
<rect x="169.43" y="228.55" width="3.93" height="7.6" fill="#41b0ac" />
<rect x="172.87" y="228.55" width="3.93" height="7.6" fill="#3b3f84" />
<rect x="176.3" y="228.55" width="3.93" height="7.6" fill="#3b3f84" />
<rect x="179.73" y="228.55" width="3.93" height="7.6" fill="#3a2b5c" />
<rect x="183.17" y="228.55" width="3.93" height="7.6" fill="#3b3f84" />
<rect x="186.6" y="228.55" width="3.93" height="7.6" fill="#3764a0" />
<rect x="190.04" y="228.55" width="3.93" height="7.6" fill="#3a2b5c" />
<rect x="193.47" y="228.55" width="3.93" height="7.6" fill="#3b3f84" />
<rect x="196.91" y="228.55" width="3.93" height="7.6" fill="#3764a0" />
<rect x="200.34" y="228.55" width="3.93" height="7.6" fill="#24152f" />
<rect x="203.78" y="228.55" width="3.93" height="7.6" fill="#24152f" />
<rect x="207.21" y="228.55" width="3.93" height="7.6" fill="#3764a0" />
<rect x="210.65" y="228.55" width="3.93" height="7.6" fill="#3b3f84" />
<rect x="214.08" y="228.55" width="3.93" height="7.6" fill="#3a2b5c" />
<rect x="217.52" y="228.55" width="3.93" height="7.6" fill="#3764a0" />
<rect x="220.95" y="228.55" width="3.93" height="7.6" fill="#3587a6" />
<rect x="224.38" y="228.55" width="3.93" height="7.6" fill="#24152f" />
<rect x="227.82" y="228.55" width="3.93" height="7.6" fill="#3764a0" />
<rect x="231.25" y="228.55" width="3.93" height="7.6" fill="#3b3f84" />
<rect x="234.69" y="228.55" width="3.93" height="7.6" fill="#3a2b5c" />
<rect x="238.12" y="228.55" width="3.93" height="7.6" fill="#3a2b5c" />
<rect x="241.56" y="228.55" width="3.93" height="7.6" fill="#3b3f84" />
<rect x="244.99" y="228.55" width="3.93" height="7.6" fill="#3764a0" />
<rect x="248.43" y="228.55" width="3.93" height="7.6" fill="#24152f" />
<rect x="251.86" y="228.55" width="3.93" height="7.6" fill="#3764a0" />
<rect x="255.3" y="228.55" width="3.93" height="7.6" fill="#3764a0" />
<rect x="258.73" y="228.55" width="3.93" height="7.6" fill="#3b3f84" />
<rect x="262.17" y="228.55" width="3.43" height="7.6" fill="#3b3f84" />
<rect x="87" y="235.65" width="3.93" height="7.6" fill="#3764a0" />
<rect x="90.43" y="235.65" width="3.93" height="7.6" fill="#3b3f84" />
<rect x="93.87" y="235.65" width="3.93" height="7.6" fill="#3b3f84" />
<rect x="97.3" y="235.65" width="3.93" height="7.6" fill="#3a2b5c" />
<rect x="100.74" y="235.65" width="3.93" height="7.6" fill="#3764a0" />
<rect x="104.17" y="235.65" width="3.93" height="7.6" fill="#3764a0" />
<rect x="107.61" y="235.65" width="3.93" height="7.6" fill="#3764a0" />
<rect x="111.04" y="235.65" width="3.93" height="7.6" fill="#3587a6" />
<rect x="114.48" y="235.65" width="3.93" height="7.6" fill="#3587a6" />
<rect x="117.91" y="235.65" width="3.93" height="7.6" fill="#3b3f84" />
<rect x="121.35" y="235.65" width="3.93" height="7.6" fill="#41b0ac" />
<rect x="124.78" y="235.65" width="3.93" height="7.6" fill="#d9f1e1" />
<rect x="128.22" y="235.65" width="3.93" height="7.6" fill="#3b3f84" />
<rect x="131.65" y="235.65" width="3.93" height="7.6" fill="#3587a6" />
<rect x="135.08" y="235.65" width="3.93" height="7.6" fill="#3587a6" />
<rect x="138.52" y="235.65" width="3.93" height="7.6" fill="#41b0ac" />
<rect x="141.95" y="235.65" width="3.93" height="7.6" fill="#3587a6" />
<rect x="145.39" y="235.65" width="3.93" height="7.6" fill="#3587a6" />
<rect x="148.82" y="235.65" width="3.93" height="7.6" fill="#3587a6" />
<rect x="152.26" y="235.65" width="3.93" height="7.6" fill="#3587a6" />
<rect x="155.69" y="235.65" width="3.93" height="7.6" fill="#3587a6" />
<rect x="159.13" y="235.65" width="3.93" height="7.6" fill="#3587a6" />
<rect x="162.56" y="235.65" width="3.93" height="7.6" fill="#41b0ac" />
<rect x="166" y="235.65" width="3.93" height="7.6" fill="#3587a6" />
<rect x="169.43" y="235.65" width="3.93" height="7.6" fill="#41b0ac" />
<rect x="172.87" y="235.65" width="3.93" height="7.6" fill="#3b3f84" />
<rect x="176.3" y="235.65" width="3.93" height="7.6" fill="#3b3f84" />
<rect x="179.73" y="235.65" width="3.93" height="7.6" fill="#3a2b5c" />
<rect x="183.17" y="235.65" width="3.93" height="7.6" fill="#3b3f84" />
<rect x="186.6" y="235.65" width="3.93" height="7.6" fill="#3764a0" />
<rect x="190.04" y="235.65" width="3.93" height="7.6" fill="#3a2b5c" />
<rect x="193.47" y="235.65" width="3.93" height="7.6" fill="#3b3f84" />
<rect x="196.91" y="235.65" width="3.93" height="7.6" fill="#3764a0" />
<rect x="200.34" y="235.65" width="3.93" height="7.6" fill="#24152f" />
<rect x="203.78" y="235.65" width="3.93" height="7.6" fill="#24152f" />
<rect x="207.21" y="235.65" width="3.93" height="7.6" fill="#3764a0" />
<rect x="210.65" y="235.65" width="3.93" height="7.6" fill="#3b3f84" />
<rect x="214.08" y="235.65" width="3.93" height="7.6" fill="#3a2b5c" />
<rect x="217.52" y="235.65" width="3.93" height="7.6" fill="#3764a0" />
<rect x="220.95" y="235.65" width="3.93" height="7.6" fill="#3587a6" />
<rect x="224.38" y="235.65" width="3.93" height="7.6" fill="#24152f" />
<rect x="227.82" y="235.65" width="3.93" height="7.6" fill="#3764a0" />
<rect x="231.25" y="235.65" width="3.93" height="7.6" fill="#3b3f84" />
<rect x="234.69" y="235.65" width="3.93" height="7.6" fill="#3a2b5c" />
<rect x="238.12" y="235.65" width="3.93" height="7.6" fill="#3a2b5c" />
<rect x="241.56" y="235.65" width="3.93" height="7.6" fill="#3b3f84" />
<rect x="244.99" y="235.65" width="3.93" height="7.6" fill="#3764a0" />
<rect x="248.43" y="235.65" width="3.93" height="7.6" fill="#24152f" />
<rect x="251.86" y="235.65" width="3.93" height="7.6" fill="#3764a0" />
<rect x="255.3" y="235.65" width="3.93" height="7.6" fill="#3764a0" />
<rect x="258.73" y="235.65" width="3.93" height="7.6" fill="#3b3f84" />
<rect x="262.17" y="235.65" width="3.43" height="7.6" fill="#3b3f84" />
<rect x="87" y="242.75" width="3.93" height="7.6" fill="#3764a0" />
<rect x="90.43" y="242.75" width="3.93" height="7.6" fill="#3b3f84" />
<rect x="93.87" y="242.75" width="3.93" height="7.6" fill="#3b3f84" />
<rect x="97.3" y="242.75" width="3.93" height="7.6" fill="#3b3f84" />
<rect x="100.74" y="242.75" width="3.93" height="7.6" fill="#3764a0" />
<rect x="104.17" y="242.75" width="3.93" height="7.6" fill="#3764a0" />
<rect x="107.61" y="242.75" width="3.93" height="7.6" fill="#3764a0" />
<rect x="111.04" y="242.75" width="3.93" height="7.6" fill="#3587a6" />
<rect x="114.48" y="242.75" width="3.93" height="7.6" fill="#3587a6" />
<rect x="117.91" y="242.75" width="3.93" height="7.6" fill="#3b3f84" />
<rect x="121.35" y="242.75" width="3.93" height="7.6" fill="#41b0ac" />
<rect x="124.78" y="242.75" width="3.93" height="7.6" fill="#d9f1e1" />
<rect x="128.22" y="242.75" width="3.93" height="7.6" fill="#3b3f84" />
<rect x="131.65" y="242.75" width="3.93" height="7.6" fill="#41b0ac" />
<rect x="135.08" y="242.75" width="3.93" height="7.6" fill="#41b0ac" />
<rect x="138.52" y="242.75" width="3.93" height="7.6" fill="#d9f1e1" />
<rect x="141.95" y="242.75" width="3.93" height="7.6" fill="#41b0ac" />
<rect x="145.39" y="242.75" width="3.93" height="7.6" fill="#41b0ac" />
<rect x="148.82" y="242.75" width="3.93" height="7.6" fill="#41b0ac" />
<rect x="152.26" y="242.75" width="3.93" height="7.6" fill="#41b0ac" />
<rect x="155.69" y="242.75" width="3.93" height="7.6" fill="#3587a6" />
<rect x="159.13" y="242.75" width="3.93" height="7.6" fill="#d9f1e1" />
<rect x="162.56" y="242.75" width="3.93" height="7.6" fill="#41b0ac" />
<rect x="166" y="242.75" width="3.93" height="7.6" fill="#3587a6" />
<rect x="169.43" y="242.75" width="3.93" height="7.6" fill="#41b0ac" />
<rect x="172.87" y="242.75" width="3.93" height="7.6" fill="#3b3f84" />
<rect x="176.3" y="242.75" width="3.93" height="7.6" fill="#3b3f84" />
<rect x="179.73" y="242.75" width="3.93" height="7.6" fill="#3a2b5c" />
<rect x="183.17" y="242.75" width="3.93" height="7.6" fill="#3b3f84" />
<rect x="186.6" y="242.75" width="3.93" height="7.6" fill="#3764a0" />
<rect x="190.04" y="242.75" width="3.93" height="7.6" fill="#3a2b5c" />
<rect x="193.47" y="242.75" width="3.93" height="7.6" fill="#3764a0" />
<rect x="196.91" y="242.75" width="3.93" height="7.6" fill="#3764a0" />
<rect x="200.34" y="242.75" width="3.93" height="7.6" fill="#24152f" />
<rect x="203.78" y="242.75" width="3.93" height="7.6" fill="#24152f" />
<rect x="207.21" y="242.75" width="3.93" height="7.6" fill="#3764a0" />
<rect x="210.65" y="242.75" width="3.93" height="7.6" fill="#3b3f84" />
<rect x="214.08" y="242.75" width="3.93" height="7.6" fill="#3a2b5c" />
<rect x="217.52" y="242.75" width="3.93" height="7.6" fill="#3764a0" />
<rect x="220.95" y="242.75" width="3.93" height="7.6" fill="#3587a6" />
<rect x="224.38" y="242.75" width="3.93" height="7.6" fill="#24152f" />
<rect x="227.82" y="242.75" width="3.93" height="7.6" fill="#3764a0" />
<rect x="231.25" y="242.75" width="3.93" height="7.6" fill="#3b3f84" />
<rect x="234.69" y="242.75" width="3.93" height="7.6" fill="#3a2b5c" />
<rect x="238.12" y="242.75" width="3.93" height="7.6" fill="#3a2b5c" />
<rect x="241.56" y="242.75" width="3.93" height="7.6" fill="#3b3f84" />
<rect x="244.99" y="242.75" width="3.93" height="7.6" fill="#3764a0" />
<rect x="248.43" y="242.75" width="3.93" height="7.6" fill="#24152f" />
<rect x="251.86" y="242.75" width="3.93" height="7.6" fill="#3764a0" />
<rect x="255.3" y="242.75" width="3.93" height="7.6" fill="#3764a0" />
<rect x="258.73" y="242.75" width="3.93" height="7.6" fill="#3b3f84" />
<rect x="262.17" y="242.75" width="3.43" height="7.6" fill="#3b3f84" />
<rect x="87" y="249.85" width="3.93" height="7.6" fill="#3764a0" />
<rect x="90.43" y="249.85" width="3.93" height="7.6" fill="#3764a0" />
<rect x="93.87" y="249.85" width="3.93" height="7.6" fill="#3587a6" />
<rect x="97.3" y="249.85" width="3.93" height="7.6" fill="#3b3f84" />
<rect x="100.74" y="249.85" width="3.93" height="7.6" fill="#3764a0" />
<rect x="104.17" y="249.85" width="3.93" height="7.6" fill="#3a2b5c" />
<rect x="107.61" y="249.85" width="3.93" height="7.6" fill="#3a2b5c" />
<rect x="111.04" y="249.85" width="3.93" height="7.6" fill="#3a2b5c" />
<rect x="114.48" y="249.85" width="3.93" height="7.6" fill="#3764a0" />
<rect x="117.91" y="249.85" width="3.93" height="7.6" fill="#41b0ac" />
<rect x="121.35" y="249.85" width="3.93" height="7.6" fill="#41b0ac" />
<rect x="124.78" y="249.85" width="3.93" height="7.6" fill="#d9f1e1" />
<rect x="128.22" y="249.85" width="3.93" height="7.6" fill="#3b3f84" />
<rect x="131.65" y="249.85" width="3.93" height="7.6" fill="#41b0ac" />
<rect x="135.08" y="249.85" width="3.93" height="7.6" fill="#41b0ac" />
<rect x="138.52" y="249.85" width="3.93" height="7.6" fill="#d9f1e1" />
<rect x="141.95" y="249.85" width="3.93" height="7.6" fill="#41b0ac" />
<rect x="145.39" y="249.85" width="3.93" height="7.6" fill="#41b0ac" />
<rect x="148.82" y="249.85" width="3.93" height="7.6" fill="#d9f1e1" />
<rect x="152.26" y="249.85" width="3.93" height="7.6" fill="#41b0ac" />
<rect x="155.69" y="249.85" width="3.93" height="7.6" fill="#3764a0" />
<rect x="159.13" y="249.85" width="3.93" height="7.6" fill="#d9f1e1" />
<rect x="162.56" y="249.85" width="3.93" height="7.6" fill="#41b0ac" />
<rect x="166" y="249.85" width="3.93" height="7.6" fill="#41b0ac" />
<rect x="169.43" y="249.85" width="3.93" height="7.6" fill="#41b0ac" />
<rect x="172.87" y="249.85" width="3.93" height="7.6" fill="#3764a0" />
<rect x="176.3" y="249.85" width="3.93" height="7.6" fill="#3b3f84" />
<rect x="179.73" y="249.85" width="3.93" height="7.6" fill="#3a2b5c" />
<rect x="183.17" y="249.85" width="3.93" height="7.6" fill="#3b3f84" />
<rect x="186.6" y="249.85" width="3.93" height="7.6" fill="#3764a0" />
<rect x="190.04" y="249.85" width="3.93" height="7.6" fill="#3a2b5c" />
<rect x="193.47" y="249.85" width="3.93" height="7.6" fill="#3764a0" />
<rect x="196.91" y="249.85" width="3.93" height="7.6" fill="#3b3f84" />
<rect x="200.34" y="249.85" width="3.93" height="7.6" fill="#24152f" />
<rect x="203.78" y="249.85" width="3.93" height="7.6" fill="#3a2b5c" />
<rect x="207.21" y="249.85" width="3.93" height="7.6" fill="#3764a0" />
<rect x="210.65" y="249.85" width="3.93" height="7.6" fill="#3a2b5c" />
<rect x="214.08" y="249.85" width="3.93" height="7.6" fill="#3a2b5c" />
<rect x="217.52" y="249.85" width="3.93" height="7.6" fill="#3764a0" />
<rect x="220.95" y="249.85" width="3.93" height="7.6" fill="#3587a6" />
<rect x="224.38" y="249.85" width="3.93" height="7.6" fill="#24152f" />
<rect x="227.82" y="249.85" width="3.93" height="7.6" fill="#3764a0" />
<rect x="231.25" y="249.85" width="3.93" height="7.6" fill="#3a2b5c" />
<rect x="234.69" y="249.85" width="3.93" height="7.6" fill="#3a2b5c" />
<rect x="238.12" y="249.85" width="3.93" height="7.6" fill="#3a2b5c" />
<rect x="241.56" y="249.85" width="3.93" height="7.6" fill="#3b3f84" />
<rect x="244.99" y="249.85" width="3.93" height="7.6" fill="#3587a6" />
<rect x="248.43" y="249.85" width="3.93" height="7.6" fill="#24152f" />
<rect x="251.86" y="249.85" width="3.93" height="7.6" fill="#3764a0" />
<rect x="255.3" y="249.85" width="3.93" height="7.6" fill="#3764a0" />
<rect x="258.73" y="249.85" width="3.93" height="7.6" fill="#3b3f84" />
<rect x="262.17" y="249.85" width="3.43" height="7.6" fill="#3a2b5c" />
<rect x="87" y="256.95" width="3.93" height="7.6" fill="#3764a0" />
<rect x="90.43" y="256.95" width="3.93" height="7.6" fill="#3764a0" />
<rect x="93.87" y="256.95" width="3.93" height="7.6" fill="#3764a0" />
<rect x="97.3" y="256.95" width="3.93" height="7.6" fill="#3b3f84" />
<rect x="100.74" y="256.95" width="3.93" height="7.6" fill="#3b3f84" />
<rect x="104.17" y="256.95" width="3.93" height="7.6" fill="#3764a0" />
<rect x="107.61" y="256.95" width="3.93" height="7.6" fill="#3764a0" />
<rect x="111.04" y="256.95" width="3.93" height="7.6" fill="#3587a6" />
<rect x="114.48" y="256.95" width="3.93" height="7.6" fill="#3587a6" />
<rect x="117.91" y="256.95" width="3.93" height="7.6" fill="#3b3f84" />
<rect x="121.35" y="256.95" width="3.93" height="7.6" fill="#41b0ac" />
<rect x="124.78" y="256.95" width="3.93" height="7.6" fill="#d9f1e1" />
<rect x="128.22" y="256.95" width="3.93" height="7.6" fill="#3b3f84" />
<rect x="131.65" y="256.95" width="3.93" height="7.6" fill="#d9f1e1" />
<rect x="135.08" y="256.95" width="3.93" height="7.6" fill="#41b0ac" />
<rect x="138.52" y="256.95" width="3.93" height="7.6" fill="#d9f1e1" />
<rect x="141.95" y="256.95" width="3.93" height="7.6" fill="#41b0ac" />
<rect x="145.39" y="256.95" width="3.93" height="7.6" fill="#41b0ac" />
<rect x="148.82" y="256.95" width="3.93" height="7.6" fill="#d9f1e1" />
<rect x="152.26" y="256.95" width="3.93" height="7.6" fill="#3764a0" />
<rect x="155.69" y="256.95" width="3.93" height="7.6" fill="#3764a0" />
<rect x="159.13" y="256.95" width="3.93" height="7.6" fill="#d9f1e1" />
<rect x="162.56" y="256.95" width="3.93" height="7.6" fill="#41b0ac" />
<rect x="166" y="256.95" width="3.93" height="7.6" fill="#d9f1e1" />
<rect x="169.43" y="256.95" width="3.93" height="7.6" fill="#41b0ac" />
<rect x="172.87" y="256.95" width="3.93" height="7.6" fill="#3b3f84" />
<rect x="176.3" y="256.95" width="3.93" height="7.6" fill="#3b3f84" />
<rect x="179.73" y="256.95" width="3.93" height="7.6" fill="#3a2b5c" />
<rect x="183.17" y="256.95" width="3.93" height="7.6" fill="#3b3f84" />
<rect x="186.6" y="256.95" width="3.93" height="7.6" fill="#3764a0" />
<rect x="190.04" y="256.95" width="3.93" height="7.6" fill="#3a2b5c" />
<rect x="193.47" y="256.95" width="3.93" height="7.6" fill="#3b3f84" />
<rect x="196.91" y="256.95" width="3.93" height="7.6" fill="#3764a0" />
<rect x="200.34" y="256.95" width="3.93" height="7.6" fill="#24152f" />
<rect x="203.78" y="256.95" width="3.93" height="7.6" fill="#24152f" />
<rect x="207.21" y="256.95" width="3.93" height="7.6" fill="#3764a0" />
<rect x="210.65" y="256.95" width="3.93" height="7.6" fill="#3a2b5c" />
<rect x="214.08" y="256.95" width="3.93" height="7.6" fill="#3a2b5c" />
<rect x="217.52" y="256.95" width="3.93" height="7.6" fill="#3764a0" />
<rect x="220.95" y="256.95" width="3.93" height="7.6" fill="#3764a0" />
<rect x="224.38" y="256.95" width="3.93" height="7.6" fill="#24152f" />
<rect x="227.82" y="256.95" width="3.93" height="7.6" fill="#3764a0" />
<rect x="231.25" y="256.95" width="3.93" height="7.6" fill="#3a2b5c" />
<rect x="234.69" y="256.95" width="3.93" height="7.6" fill="#3a2b5c" />
<rect x="238.12" y="256.95" width="3.93" height="7.6" fill="#3a2b5c" />
<rect x="241.56" y="256.95" width="3.93" height="7.6" fill="#3b3f84" />
<rect x="244.99" y="256.95" width="3.93" height="7.6" fill="#3764a0" />
<rect x="248.43" y="256.95" width="3.93" height="7.6" fill="#24152f" />
<rect x="251.86" y="256.95" width="3.93" height="7.6" fill="#3764a0" />
<rect x="255.3" y="256.95" width="3.93" height="7.6" fill="#3764a0" />
<rect x="258.73" y="256.95" width="3.93" height="7.6" fill="#3b3f84" />
<rect x="262.17" y="256.95" width="3.43" height="7.6" fill="#3a2b5c" />
<rect x="87" y="264.05" width="3.93" height="7.6" fill="#3764a0" />
<rect x="90.43" y="264.05" width="3.93" height="7.6" fill="#3764a0" />
<rect x="93.87" y="264.05" width="3.93" height="7.6" fill="#3764a0" />
<rect x="97.3" y="264.05" width="3.93" height="7.6" fill="#3b3f84" />
<rect x="100.74" y="264.05" width="3.93" height="7.6" fill="#3764a0" />
<rect x="104.17" y="264.05" width="3.93" height="7.6" fill="#3764a0" />
<rect x="107.61" y="264.05" width="3.93" height="7.6" fill="#3587a6" />
<rect x="111.04" y="264.05" width="3.93" height="7.6" fill="#3587a6" />
<rect x="114.48" y="264.05" width="3.93" height="7.6" fill="#3587a6" />
<rect x="117.91" y="264.05" width="3.93" height="7.6" fill="#3b3f84" />
<rect x="121.35" y="264.05" width="3.93" height="7.6" fill="#41b0ac" />
<rect x="124.78" y="264.05" width="3.93" height="7.6" fill="#d9f1e1" />
<rect x="128.22" y="264.05" width="3.93" height="7.6" fill="#3b3f84" />
<rect x="131.65" y="264.05" width="3.93" height="7.6" fill="#3587a6" />
<rect x="135.08" y="264.05" width="3.93" height="7.6" fill="#41b0ac" />
<rect x="138.52" y="264.05" width="3.93" height="7.6" fill="#d9f1e1" />
<rect x="141.95" y="264.05" width="3.93" height="7.6" fill="#41b0ac" />
<rect x="145.39" y="264.05" width="3.93" height="7.6" fill="#41b0ac" />
<rect x="148.82" y="264.05" width="3.93" height="7.6" fill="#41b0ac" />
<rect x="152.26" y="264.05" width="3.93" height="7.6" fill="#3764a0" />
<rect x="155.69" y="264.05" width="3.93" height="7.6" fill="#3764a0" />
<rect x="159.13" y="264.05" width="3.93" height="7.6" fill="#d9f1e1" />
<rect x="162.56" y="264.05" width="3.93" height="7.6" fill="#3764a0" />
<rect x="166" y="264.05" width="3.93" height="7.6" fill="#41b0ac" />
<rect x="169.43" y="264.05" width="3.93" height="7.6" fill="#41b0ac" />
<rect x="172.87" y="264.05" width="3.93" height="7.6" fill="#3764a0" />
<rect x="176.3" y="264.05" width="3.93" height="7.6" fill="#3b3f84" />
<rect x="179.73" y="264.05" width="3.93" height="7.6" fill="#3a2b5c" />
<rect x="183.17" y="264.05" width="3.93" height="7.6" fill="#3b3f84" />
<rect x="186.6" y="264.05" width="3.93" height="7.6" fill="#3764a0" />
<rect x="190.04" y="264.05" width="3.93" height="7.6" fill="#24152f" />
<rect x="193.47" y="264.05" width="3.93" height="7.6" fill="#3b3f84" />
<rect x="196.91" y="264.05" width="3.93" height="7.6" fill="#3764a0" />
<rect x="200.34" y="264.05" width="3.93" height="7.6" fill="#3a2b5c" />
<rect x="203.78" y="264.05" width="3.93" height="7.6" fill="#3a2b5c" />
<rect x="207.21" y="264.05" width="3.93" height="7.6" fill="#3764a0" />
<rect x="210.65" y="264.05" width="3.93" height="7.6" fill="#3a2b5c" />
<rect x="214.08" y="264.05" width="3.93" height="7.6" fill="#3a2b5c" />
<rect x="217.52" y="264.05" width="3.93" height="7.6" fill="#3764a0" />
<rect x="220.95" y="264.05" width="3.93" height="7.6" fill="#3764a0" />
<rect x="224.38" y="264.05" width="3.93" height="7.6" fill="#24152f" />
<rect x="227.82" y="264.05" width="3.93" height="7.6" fill="#3764a0" />
<rect x="231.25" y="264.05" width="3.93" height="7.6" fill="#3a2b5c" />
<rect x="234.69" y="264.05" width="3.93" height="7.6" fill="#3a2b5c" />
<rect x="238.12" y="264.05" width="3.93" height="7.6" fill="#3a2b5c" />
<rect x="241.56" y="264.05" width="3.93" height="7.6" fill="#3b3f84" />
<rect x="244.99" y="264.05" width="3.93" height="7.6" fill="#3764a0" />
<rect x="248.43" y="264.05" width="3.93" height="7.6" fill="#24152f" />
<rect x="251.86" y="264.05" width="3.93" height="7.6" fill="#3764a0" />
<rect x="255.3" y="264.05" width="3.93" height="7.6" fill="#3764a0" />
<rect x="258.73" y="264.05" width="3.93" height="7.6" fill="#3b3f84" />
<rect x="262.17" y="264.05" width="3.43" height="7.6" fill="#3a2b5c" />
<rect x="87" y="271.15" width="3.93" height="7.6" fill="#3764a0" />
<rect x="90.43" y="271.15" width="3.93" height="7.6" fill="#3764a0" />
<rect x="93.87" y="271.15" width="3.93" height="7.6" fill="#3b3f84" />
<rect x="97.3" y="271.15" width="3.93" height="7.6" fill="#3a2b5c" />
<rect x="100.74" y="271.15" width="3.93" height="7.6" fill="#3b3f84" />
<rect x="104.17" y="271.15" width="3.93" height="7.6" fill="#3b3f84" />
<rect x="107.61" y="271.15" width="3.93" height="7.6" fill="#3b3f84" />
<rect x="111.04" y="271.15" width="3.93" height="7.6" fill="#d9f1e1" />
<rect x="114.48" y="271.15" width="3.93" height="7.6" fill="#d9f1e1" />
<rect x="117.91" y="271.15" width="3.93" height="7.6" fill="#3764a0" />
<rect x="121.35" y="271.15" width="3.93" height="7.6" fill="#d9f1e1" />
<rect x="124.78" y="271.15" width="3.93" height="7.6" fill="#d9f1e1" />
<rect x="128.22" y="271.15" width="3.93" height="7.6" fill="#3764a0" />
<rect x="131.65" y="271.15" width="3.93" height="7.6" fill="#d9f1e1" />
<rect x="135.08" y="271.15" width="3.93" height="7.6" fill="#d9f1e1" />
<rect x="138.52" y="271.15" width="3.93" height="7.6" fill="#3764a0" />
<rect x="141.95" y="271.15" width="3.93" height="7.6" fill="#3764a0" />
<rect x="145.39" y="271.15" width="3.93" height="7.6" fill="#3b3f84" />
<rect x="148.82" y="271.15" width="3.93" height="7.6" fill="#d9f1e1" />
<rect x="152.26" y="271.15" width="3.93" height="7.6" fill="#3764a0" />
<rect x="155.69" y="271.15" width="3.93" height="7.6" fill="#3764a0" />
<rect x="159.13" y="271.15" width="3.93" height="7.6" fill="#d9f1e1" />
<rect x="162.56" y="271.15" width="3.93" height="7.6" fill="#d9f1e1" />
<rect x="166" y="271.15" width="3.93" height="7.6" fill="#3764a0" />
<rect x="169.43" y="271.15" width="3.93" height="7.6" fill="#3764a0" />
<rect x="172.87" y="271.15" width="3.93" height="7.6" fill="#3764a0" />
<rect x="176.3" y="271.15" width="3.93" height="7.6" fill="#3764a0" />
<rect x="179.73" y="271.15" width="3.93" height="7.6" fill="#3764a0" />
<rect x="183.17" y="271.15" width="3.93" height="7.6" fill="#3b3f84" />
<rect x="186.6" y="271.15" width="3.93" height="7.6" fill="#3764a0" />
<rect x="190.04" y="271.15" width="3.93" height="7.6" fill="#3b3f84" />
<rect x="193.47" y="271.15" width="3.93" height="7.6" fill="#3764a0" />
<rect x="196.91" y="271.15" width="3.93" height="7.6" fill="#3764a0" />
<rect x="200.34" y="271.15" width="3.93" height="7.6" fill="#3b3f84" />
<rect x="203.78" y="271.15" width="3.93" height="7.6" fill="#3b3f84" />
<rect x="207.21" y="271.15" width="3.93" height="7.6" fill="#3764a0" />
<rect x="210.65" y="271.15" width="3.93" height="7.6" fill="#3b3f84" />
<rect x="214.08" y="271.15" width="3.93" height="7.6" fill="#3b3f84" />
<rect x="217.52" y="271.15" width="3.93" height="7.6" fill="#3764a0" />
<rect x="220.95" y="271.15" width="3.93" height="7.6" fill="#3764a0" />
<rect x="224.38" y="271.15" width="3.93" height="7.6" fill="#24152f" />
<rect x="227.82" y="271.15" width="3.93" height="7.6" fill="#3764a0" />
<rect x="231.25" y="271.15" width="3.93" height="7.6" fill="#3b3f84" />
<rect x="234.69" y="271.15" width="3.93" height="7.6" fill="#3a2b5c" />
<rect x="238.12" y="271.15" width="3.93" height="7.6" fill="#3a2b5c" />
<rect x="241.56" y="271.15" width="3.93" height="7.6" fill="#3b3f84" />
<rect x="244.99" y="271.15" width="3.93" height="7.6" fill="#3764a0" />
<rect x="248.43" y="271.15" width="3.93" height="7.6" fill="#24152f" />
<rect x="251.86" y="271.15" width="3.93" height="7.6" fill="#3764a0" />
<rect x="255.3" y="271.15" width="3.93" height="7.6" fill="#d9f1e1" />
<rect x="258.73" y="271.15" width="3.93" height="7.6" fill="#3b3f84" />
<rect x="262.17" y="271.15" width="3.43" height="7.6" fill="#3a2b5c" />
<rect x="87" y="278.25" width="3.93" height="7.6" fill="#3764a0" />
<rect x="90.43" y="278.25" width="3.93" height="7.6" fill="#3b3f84" />
<rect x="93.87" y="278.25" width="3.93" height="7.6" fill="#3a2b5c" />
<rect x="97.3" y="278.25" width="3.93" height="7.6" fill="#24152f" />
<rect x="100.74" y="278.25" width="3.93" height="7.6" fill="#24152f" />
<rect x="104.17" y="278.25" width="3.93" height="7.6" fill="#3764a0" />
<rect x="107.61" y="278.25" width="3.93" height="7.6" fill="#3587a6" />
<rect x="111.04" y="278.25" width="3.93" height="7.6" fill="#41b0ac" />
<rect x="114.48" y="278.25" width="3.93" height="7.6" fill="#41b0ac" />
<rect x="117.91" y="278.25" width="3.93" height="7.6" fill="#3b3f84" />
<rect x="121.35" y="278.25" width="3.93" height="7.6" fill="#3764a0" />
<rect x="124.78" y="278.25" width="3.93" height="7.6" fill="#d9f1e1" />
<rect x="128.22" y="278.25" width="3.93" height="7.6" fill="#41b0ac" />
<rect x="131.65" y="278.25" width="3.93" height="7.6" fill="#d9f1e1" />
<rect x="135.08" y="278.25" width="3.93" height="7.6" fill="#41b0ac" />
<rect x="138.52" y="278.25" width="3.93" height="7.6" fill="#d9f1e1" />
<rect x="141.95" y="278.25" width="3.93" height="7.6" fill="#d9f1e1" />
<rect x="145.39" y="278.25" width="3.93" height="7.6" fill="#d9f1e1" />
<rect x="148.82" y="278.25" width="3.93" height="7.6" fill="#d9f1e1" />
<rect x="152.26" y="278.25" width="3.93" height="7.6" fill="#d9f1e1" />
<rect x="155.69" y="278.25" width="3.93" height="7.6" fill="#d9f1e1" />
<rect x="159.13" y="278.25" width="3.93" height="7.6" fill="#d9f1e1" />
<rect x="162.56" y="278.25" width="3.93" height="7.6" fill="#d9f1e1" />
<rect x="166" y="278.25" width="3.93" height="7.6" fill="#d9f1e1" />
<rect x="169.43" y="278.25" width="3.93" height="7.6" fill="#41b0ac" />
<rect x="172.87" y="278.25" width="3.93" height="7.6" fill="#3b3f84" />
<rect x="176.3" y="278.25" width="3.93" height="7.6" fill="#3a2b5c" />
<rect x="179.73" y="278.25" width="3.93" height="7.6" fill="#3a2b5c" />
<rect x="183.17" y="278.25" width="3.93" height="7.6" fill="#3b3f84" />
<rect x="186.6" y="278.25" width="3.93" height="7.6" fill="#3764a0" />
<rect x="190.04" y="278.25" width="3.93" height="7.6" fill="#3a2b5c" />
<rect x="193.47" y="278.25" width="3.93" height="7.6" fill="#41b0ac" />
<rect x="196.91" y="278.25" width="3.93" height="7.6" fill="#3764a0" />
<rect x="200.34" y="278.25" width="3.93" height="7.6" fill="#3a2b5c" />
<rect x="203.78" y="278.25" width="3.93" height="7.6" fill="#3b3f84" />
<rect x="207.21" y="278.25" width="3.93" height="7.6" fill="#3764a0" />
<rect x="210.65" y="278.25" width="3.93" height="7.6" fill="#3b3f84" />
<rect x="214.08" y="278.25" width="3.93" height="7.6" fill="#3764a0" />
<rect x="217.52" y="278.25" width="3.93" height="7.6" fill="#3587a6" />
<rect x="220.95" y="278.25" width="3.93" height="7.6" fill="#41b0ac" />
<rect x="224.38" y="278.25" width="3.93" height="7.6" fill="#3587a6" />
<rect x="227.82" y="278.25" width="3.93" height="7.6" fill="#41b0ac" />
<rect x="231.25" y="278.25" width="3.93" height="7.6" fill="#3587a6" />
<rect x="234.69" y="278.25" width="3.93" height="7.6" fill="#41b0ac" />
<rect x="238.12" y="278.25" width="3.93" height="7.6" fill="#41b0ac" />
<rect x="241.56" y="278.25" width="3.93" height="7.6" fill="#41b0ac" />
<rect x="244.99" y="278.25" width="3.93" height="7.6" fill="#41b0ac" />
<rect x="248.43" y="278.25" width="3.93" height="7.6" fill="#3587a6" />
<rect x="251.86" y="278.25" width="3.93" height="7.6" fill="#41b0ac" />
<rect x="255.3" y="278.25" width="3.93" height="7.6" fill="#41b0ac" />
<rect x="258.73" y="278.25" width="3.93" height="7.6" fill="#3587a6" />
<rect x="262.17" y="278.25" width="3.43" height="7.6" fill="#3587a6" />
<rect x="87" y="285.35" width="3.93" height="7.1" fill="#3b3f84" />
<rect x="90.43" y="285.35" width="3.93" height="7.1" fill="#3b3f84" />
<rect x="93.87" y="285.35" width="3.93" height="7.1" fill="#3b3f84" />
<rect x="97.3" y="285.35" width="3.93" height="7.1" fill="#3b3f84" />
<rect x="100.74" y="285.35" width="3.93" height="7.1" fill="#3b3f84" />
<rect x="104.17" y="285.35" width="3.93" height="7.1" fill="#3764a0" />
<rect x="107.61" y="285.35" width="3.93" height="7.1" fill="#3b3f84" />
<rect x="111.04" y="285.35" width="3.93" height="7.1" fill="#3764a0" />
<rect x="114.48" y="285.35" width="3.93" height="7.1" fill="#d9f1e1" />
<rect x="117.91" y="285.35" width="3.93" height="7.1" fill="#d9f1e1" />
<rect x="121.35" y="285.35" width="3.93" height="7.1" fill="#d9f1e1" />
<rect x="124.78" y="285.35" width="3.93" height="7.1" fill="#d9f1e1" />
<rect x="128.22" y="285.35" width="3.93" height="7.1" fill="#d9f1e1" />
<rect x="131.65" y="285.35" width="3.93" height="7.1" fill="#d9f1e1" />
<rect x="135.08" y="285.35" width="3.93" height="7.1" fill="#d9f1e1" />
<rect x="138.52" y="285.35" width="3.93" height="7.1" fill="#d9f1e1" />
<rect x="141.95" y="285.35" width="3.93" height="7.1" fill="#86d6b7" />
<rect x="145.39" y="285.35" width="3.93" height="7.1" fill="#d9f1e1" />
<rect x="148.82" y="285.35" width="3.93" height="7.1" fill="#86d6b7" />
<rect x="152.26" y="285.35" width="3.93" height="7.1" fill="#d9f1e1" />
<rect x="155.69" y="285.35" width="3.93" height="7.1" fill="#d9f1e1" />
<rect x="159.13" y="285.35" width="3.93" height="7.1" fill="#d9f1e1" />
<rect x="162.56" y="285.35" width="3.93" height="7.1" fill="#d9f1e1" />
<rect x="166" y="285.35" width="3.93" height="7.1" fill="#d9f1e1" />
<rect x="169.43" y="285.35" width="3.93" height="7.1" fill="#41b0ac" />
<rect x="172.87" y="285.35" width="3.93" height="7.1" fill="#3b3f84" />
<rect x="176.3" y="285.35" width="3.93" height="7.1" fill="#3b3f84" />
<rect x="179.73" y="285.35" width="3.93" height="7.1" fill="#3b3f84" />
<rect x="183.17" y="285.35" width="3.93" height="7.1" fill="#3b3f84" />
<rect x="186.6" y="285.35" width="3.93" height="7.1" fill="#3764a0" />
<rect x="190.04" y="285.35" width="3.93" height="7.1" fill="#3a2b5c" />
<rect x="193.47" y="285.35" width="3.93" height="7.1" fill="#d9f1e1" />
<rect x="196.91" y="285.35" width="3.93" height="7.1" fill="#3b3f84" />
<rect x="200.34" y="285.35" width="3.93" height="7.1" fill="#3a2b5c" />
<rect x="203.78" y="285.35" width="3.93" height="7.1" fill="#3b3f84" />
<rect x="207.21" y="285.35" width="3.93" height="7.1" fill="#d9f1e1" />
<rect x="210.65" y="285.35" width="3.93" height="7.1" fill="#3b3f84" />
<rect x="214.08" y="285.35" width="3.93" height="7.1" fill="#3764a0" />
<rect x="217.52" y="285.35" width="3.93" height="7.1" fill="#41b0ac" />
<rect x="220.95" y="285.35" width="3.93" height="7.1" fill="#d9f1e1" />
<rect x="224.38" y="285.35" width="3.93" height="7.1" fill="#41b0ac" />
<rect x="227.82" y="285.35" width="3.93" height="7.1" fill="#d9f1e1" />
<rect x="231.25" y="285.35" width="3.93" height="7.1" fill="#d9f1e1" />
<rect x="234.69" y="285.35" width="3.93" height="7.1" fill="#41b0ac" />
<rect x="238.12" y="285.35" width="3.93" height="7.1" fill="#41b0ac" />
<rect x="241.56" y="285.35" width="3.93" height="7.1" fill="#41b0ac" />
<rect x="244.99" y="285.35" width="3.93" height="7.1" fill="#86d6b7" />
<rect x="248.43" y="285.35" width="3.93" height="7.1" fill="#41b0ac" />
<rect x="251.86" y="285.35" width="3.93" height="7.1" fill="#d9f1e1" />
<rect x="255.3" y="285.35" width="3.93" height="7.1" fill="#41b0ac" />
<rect x="258.73" y="285.35" width="3.93" height="7.1" fill="#d9f1e1" />
<rect x="262.17" y="285.35" width="3.43" height="7.1" fill="#d9f1e1" />
<rect x="87" y="203.1" width="3.93" height="2.6" fill="#3f8f45" />
<rect x="90.43" y="203.1" width="3.93" height="2.6" fill="#6aae5e" />
<rect x="93.87" y="203.1" width="3.93" height="2.6" fill="#3f8f45" />
<rect x="97.3" y="203.1" width="3.93" height="2.6" fill="#1f2f55" />
<rect x="100.74" y="203.1" width="3.93" height="2.6" fill="#ecebb0" />
<rect x="104.17" y="203.1" width="3.93" height="2.6" fill="#5048a0" />
<rect x="107.61" y="203.1" width="3.93" height="2.6" fill="#5048a0" />
<rect x="111.04" y="203.1" width="3.93" height="2.6" fill="#5048a0" />
<rect x="114.48" y="203.1" width="3.93" height="2.6" fill="#ecebb0" />
<rect x="117.91" y="203.1" width="3.93" height="2.6" fill="#1f2f55" />
<rect x="121.35" y="203.1" width="3.93" height="2.6" fill="#a4d65e" />
<rect x="124.78" y="203.1" width="3.93" height="2.6" fill="#6aae5e" />
<rect x="128.22" y="203.1" width="3.93" height="2.6" fill="#3f8f45" />
<rect x="131.65" y="203.1" width="3.93" height="2.6" fill="#6aae5e" />
<rect x="135.08" y="203.1" width="3.93" height="2.6" fill="#3f8f45" />
<rect x="138.52" y="203.1" width="3.93" height="2.6" fill="#6aae5e" />
<rect x="141.95" y="203.1" width="3.93" height="2.6" fill="#e58a6f" />
<rect x="145.39" y="203.1" width="3.93" height="2.6" fill="#3f8f45" />
<rect x="148.82" y="203.1" width="3.93" height="2.6" fill="#6aae5e" />
<rect x="152.26" y="203.1" width="3.93" height="2.6" fill="#3f8f45" />
<rect x="155.69" y="203.1" width="3.93" height="2.6" fill="#d9534f" />
<rect x="159.13" y="203.1" width="3.93" height="2.6" fill="#d9534f" />
<rect x="162.56" y="203.1" width="3.93" height="2.6" fill="#d9534f" />
<rect x="166" y="203.1" width="3.93" height="2.6" fill="#3f8f45" />
<rect x="169.43" y="203.1" width="3.93" height="2.6" fill="#6aae5e" />
<rect x="172.87" y="203.1" width="3.93" height="2.6" fill="#3f8f45" />
<rect x="176.3" y="203.1" width="3.93" height="2.6" fill="#6aae5e" />
<rect x="179.73" y="203.1" width="3.93" height="2.6" fill="#3f8f45" />
<rect x="183.17" y="203.1" width="3.93" height="2.6" fill="#6aae5e" />
<rect x="186.6" y="203.1" width="3.93" height="2.6" fill="#e58a6f" />
<rect x="190.04" y="203.1" width="3.93" height="2.6" fill="#3f8f45" />
<rect x="193.47" y="203.1" width="3.93" height="2.6" fill="#a4d65e" />
<rect x="196.91" y="203.1" width="3.93" height="2.6" fill="#5048a0" />
<rect x="200.34" y="203.1" width="3.93" height="2.6" fill="#5048a0" />
<rect x="203.78" y="203.1" width="3.93" height="2.6" fill="#4a7fc0" />
<rect x="207.21" y="203.1" width="3.93" height="2.6" fill="#3aa0a0" />
<rect x="210.65" y="203.1" width="3.93" height="2.6" fill="#3f8f45" />
<rect x="214.08" y="203.1" width="3.93" height="2.6" fill="#6aae5e" />
<rect x="217.52" y="203.1" width="3.93" height="2.6" fill="#a4d65e" />
<rect x="220.95" y="203.1" width="3.93" height="2.6" fill="#4a7fc0" />
<rect x="224.38" y="203.1" width="3.93" height="2.6" fill="#a4d65e" />
<rect x="227.82" y="203.1" width="3.93" height="2.6" fill="#3f8f45" />
<rect x="231.25" y="203.1" width="3.93" height="2.6" fill="#a4d65e" />
<rect x="234.69" y="203.1" width="3.93" height="2.6" fill="#ecebb0" />
<rect x="238.12" y="203.1" width="3.93" height="2.6" fill="#3aa0a0" />
<rect x="241.56" y="203.1" width="3.93" height="2.6" fill="#3aa0a0" />
<rect x="244.99" y="203.1" width="3.93" height="2.6" fill="#3aa0a0" />
<rect x="248.43" y="203.1" width="3.93" height="2.6" fill="#3aa0a0" />
<rect x="251.86" y="203.1" width="3.93" height="2.6" fill="#8fd3e0" />
<rect x="255.3" y="203.1" width="3.93" height="2.6" fill="#8fd3e0" />
<rect x="258.73" y="203.1" width="3.93" height="2.6" fill="#b07aa6" />
<rect x="262.17" y="203.1" width="3.43" height="2.6" fill="#b07aa6" />
<line x1="265.9" y1="204.4" x2="268" y2="204.4" stroke="#444" stroke-width="0.8" />
<text x="270.4" y="206.7" font-size="6.7" text-anchor="start" fill="#454545" >mouse</text>
<line x1="265.9" y1="210.8" x2="268" y2="210.8" stroke="#444" stroke-width="0.8" />
<text x="270.4" y="213.2" font-size="6.7" text-anchor="start" fill="#454545" >HSC</text>
<line x1="265.9" y1="217.9" x2="268" y2="217.9" stroke="#444" stroke-width="0.8" />
<text x="270.4" y="220.3" font-size="6.7" text-anchor="start" fill="#454545" >MPP1/2</text>
<line x1="265.9" y1="225" x2="268" y2="225" stroke="#444" stroke-width="0.8" />
<text x="270.4" y="227.4" font-size="6.7" text-anchor="start" fill="#454545" >MPP3</text>
<line x1="265.9" y1="232.1" x2="268" y2="232.1" stroke="#444" stroke-width="0.8" />
<text x="270.4" y="234.5" font-size="6.7" text-anchor="start" fill="#454545" >MPP4</text>
<line x1="265.9" y1="239.2" x2="268" y2="239.2" stroke="#444" stroke-width="0.8" />
<text x="270.4" y="241.6" font-size="6.7" text-anchor="start" fill="#454545" >CMP</text>
<line x1="265.9" y1="246.3" x2="268" y2="246.3" stroke="#444" stroke-width="0.8" />
<text x="270.4" y="248.7" font-size="6.7" text-anchor="start" fill="#454545" >GMP</text>
<line x1="265.9" y1="253.4" x2="268" y2="253.4" stroke="#444" stroke-width="0.8" />
<text x="270.4" y="255.8" font-size="6.7" text-anchor="start" fill="#454545" >Gran.</text>
<line x1="265.9" y1="260.5" x2="268" y2="260.5" stroke="#444" stroke-width="0.8" />
<text x="270.4" y="262.9" font-size="6.7" text-anchor="start" fill="#454545" >Mono.</text>
<line x1="265.9" y1="267.6" x2="268" y2="267.6" stroke="#444" stroke-width="0.8" />
<text x="270.4" y="270" font-size="6.7" text-anchor="start" fill="#454545" >MEP</text>
<line x1="265.9" y1="274.7" x2="268" y2="274.7" stroke="#444" stroke-width="0.8" />
<text x="270.4" y="277.1" font-size="6.7" text-anchor="start" fill="#454545" >CLP</text>
<line x1="265.9" y1="281.8" x2="268" y2="281.8" stroke="#444" stroke-width="0.8" />
<text x="270.4" y="284.2" font-size="6.7" text-anchor="start" fill="#454545" >B cell</text>
<line x1="265.9" y1="288.9" x2="268" y2="288.9" stroke="#444" stroke-width="0.8" />
<text x="270.4" y="291.3" font-size="6.7" text-anchor="start" fill="#454545" >T cell</text>
<defs><linearGradient id="mako" x1="0" y1="0" x2="0" y2="1"><stop offset="0" stop-color="#1a0f1f"/><stop offset="0.12" stop-color="#2c1d3f"/><stop offset="0.28" stop-color="#3b3270"/><stop offset="0.45" stop-color="#3a5598"/><stop offset="0.6" stop-color="#3680a5"/><stop offset="0.75" stop-color="#3fa8aa"/><stop offset="0.88" stop-color="#78cdb1"/><stop offset="1" stop-color="#ddf3e3"/></linearGradient></defs>
<rect x="68" y="207.6" width="11.9" height="85.7" fill="url(#mako)" />
<line x1="66.2" y1="221.7" x2="68" y2="221.7" stroke="#444" stroke-width="0.8" />
<line x1="66.2" y1="268.3" x2="68" y2="268.3" stroke="#444" stroke-width="0.8" />
<text x="61.5" y="224" font-size="6.6" text-anchor="end" fill="#3a3a3a" >10</text>
<text x="61.7" y="219.6" font-size="4.4" text-anchor="start" fill="#3a3a3a" >1</text>
<text x="61.5" y="270.6" font-size="6.6" text-anchor="end" fill="#3a3a3a" >10</text>
<text x="61.7" y="266.2" font-size="4.4" text-anchor="start" fill="#3a3a3a" >−1</text>
<text x="44.4" y="249" font-size="7.8" text-anchor="middle" fill="#454545" transform="rotate(-90 44.4 249)" textLength="84" lengthAdjust="spacingAndGlyphs" >Clonal abundance (% cell type)</text>
<line x1="95.2" y1="181.2" x2="186.7" y2="181.2" stroke="#6a6a6a" stroke-width="0.75" />
<line x1="95.2" y1="181.2" x2="95.2" y2="192.1" stroke="#6a6a6a" stroke-width="0.75" />
<line x1="115.1" y1="181.8" x2="115.1" y2="189.8" stroke="#6a6a6a" stroke-width="0.75" />
<line x1="186.7" y1="181.2" x2="186.7" y2="185.3" stroke="#6a6a6a" stroke-width="0.75" />
<line x1="90" y1="192.1" x2="100.7" y2="192.1" stroke="#6a6a6a" stroke-width="0.75" />
<line x1="90" y1="192.1" x2="90" y2="198.3" stroke="#6a6a6a" stroke-width="0.75" />
<line x1="100.7" y1="192.1" x2="100.7" y2="197.3" stroke="#6a6a6a" stroke-width="0.75" />
<line x1="98.6" y1="197.3" x2="103.4" y2="197.3" stroke="#6a6a6a" stroke-width="0.75" />
<line x1="98.6" y1="197.3" x2="98.6" y2="200.8" stroke="#6a6a6a" stroke-width="0.75" />
<line x1="103.4" y1="197.3" x2="103.4" y2="200.8" stroke="#6a6a6a" stroke-width="0.75" />
<line x1="88.6" y1="198.3" x2="92.2" y2="198.3" stroke="#6a6a6a" stroke-width="0.75" />
<line x1="88.6" y1="198.3" x2="88.6" y2="201.5" stroke="#6a6a6a" stroke-width="0.75" />
<line x1="92.2" y1="198.3" x2="92.2" y2="200.2" stroke="#6a6a6a" stroke-width="0.75" />
<line x1="91.2" y1="200.2" x2="94.4" y2="200.2" stroke="#6a6a6a" stroke-width="0.75" />
<line x1="91.2" y1="200.2" x2="91.2" y2="202.3" stroke="#6a6a6a" stroke-width="0.75" />
<line x1="94.4" y1="200.2" x2="94.4" y2="202.3" stroke="#6a6a6a" stroke-width="0.75" />
<line x1="108.2" y1="189.8" x2="123.2" y2="189.8" stroke="#6a6a6a" stroke-width="0.75" />
<line x1="108.2" y1="189.8" x2="108.2" y2="199" stroke="#6a6a6a" stroke-width="0.75" />
<line x1="123.2" y1="189.8" x2="123.2" y2="194.5" stroke="#6a6a6a" stroke-width="0.75" />
<line x1="106.4" y1="199" x2="110" y2="199" stroke="#6a6a6a" stroke-width="0.75" />
<line x1="106.4" y1="199" x2="106.4" y2="202.3" stroke="#6a6a6a" stroke-width="0.75" />
<line x1="110" y1="199" x2="110" y2="202.3" stroke="#6a6a6a" stroke-width="0.75" />
<line x1="114.6" y1="194.5" x2="131.3" y2="194.5" stroke="#6a6a6a" stroke-width="0.75" />
<line x1="114.6" y1="194.5" x2="114.6" y2="199" stroke="#6a6a6a" stroke-width="0.75" />
<line x1="131.3" y1="194.5" x2="131.3" y2="197.3" stroke="#6a6a6a" stroke-width="0.75" />
<line x1="113" y1="199" x2="116.2" y2="199" stroke="#6a6a6a" stroke-width="0.75" />
<line x1="113" y1="199" x2="113" y2="202.3" stroke="#6a6a6a" stroke-width="0.75" />
<line x1="116.2" y1="199" x2="116.2" y2="202.3" stroke="#6a6a6a" stroke-width="0.75" />
<line x1="121" y1="197.3" x2="141.7" y2="197.3" stroke="#6a6a6a" stroke-width="0.75" />
<line x1="121" y1="197.3" x2="121" y2="200.6" stroke="#6a6a6a" stroke-width="0.75" />
<line x1="141.7" y1="197.3" x2="141.7" y2="199.6" stroke="#6a6a6a" stroke-width="0.75" />
<line x1="119.3" y1="200.6" x2="123" y2="200.6" stroke="#6a6a6a" stroke-width="0.75" />
<line x1="119.3" y1="200.6" x2="119.3" y2="202.3" stroke="#6a6a6a" stroke-width="0.75" />
<line x1="123" y1="200.6" x2="123" y2="202.3" stroke="#6a6a6a" stroke-width="0.75" />
<line x1="126" y1="199.6" x2="157" y2="199.6" stroke="#6a6a6a" stroke-width="0.75" />
<line x1="126" y1="199.6" x2="126" y2="202.3" stroke="#6a6a6a" stroke-width="0.75" />
<line x1="157" y1="199.6" x2="157" y2="200.4" stroke="#6a6a6a" stroke-width="0.75" />
<line x1="145.8" y1="200.4" x2="168.8" y2="200.4" stroke="#6a6a6a" stroke-width="0.75" />
<line x1="172" y1="185.3" x2="200.8" y2="185.3" stroke="#6a6a6a" stroke-width="0.75" />
<line x1="172" y1="185.3" x2="172" y2="202.3" stroke="#6a6a6a" stroke-width="0.75" />
<line x1="200.8" y1="185.3" x2="200.8" y2="191.5" stroke="#6a6a6a" stroke-width="0.75" />
<line x1="183.3" y1="191.5" x2="218" y2="191.5" stroke="#6a6a6a" stroke-width="0.75" />
<line x1="183.3" y1="191.5" x2="183.3" y2="194.5" stroke="#6a6a6a" stroke-width="0.75" />
<line x1="178.6" y1="194.5" x2="189.6" y2="194.5" stroke="#6a6a6a" stroke-width="0.75" />
<line x1="178.6" y1="194.5" x2="178.6" y2="199.5" stroke="#6a6a6a" stroke-width="0.75" />
<line x1="189.6" y1="194.5" x2="189.6" y2="198" stroke="#6a6a6a" stroke-width="0.75" />
<line x1="176.6" y1="199.5" x2="180.6" y2="199.5" stroke="#6a6a6a" stroke-width="0.75" />
<line x1="176.6" y1="199.5" x2="176.6" y2="202.3" stroke="#6a6a6a" stroke-width="0.75" />
<line x1="180.6" y1="199.5" x2="180.6" y2="202.3" stroke="#6a6a6a" stroke-width="0.75" />
<line x1="187.6" y1="198" x2="192" y2="198" stroke="#6a6a6a" stroke-width="0.75" />
<line x1="187.6" y1="198" x2="187.6" y2="202.3" stroke="#6a6a6a" stroke-width="0.75" />
<line x1="192" y1="198" x2="192" y2="200.5" stroke="#6a6a6a" stroke-width="0.75" />
<line x1="190.5" y1="200.5" x2="193.5" y2="200.5" stroke="#6a6a6a" stroke-width="0.75" />
<line x1="190.5" y1="200.5" x2="190.5" y2="202.3" stroke="#6a6a6a" stroke-width="0.75" />
<line x1="193.5" y1="200.5" x2="193.5" y2="202.3" stroke="#6a6a6a" stroke-width="0.75" />
<line x1="218" y1="191.5" x2="218" y2="192.3" stroke="#6a6a6a" stroke-width="0.75" />
<line x1="205" y1="192.3" x2="239.6" y2="192.3" stroke="#6a6a6a" stroke-width="0.75" />
<line x1="205" y1="192.3" x2="205" y2="198.3" stroke="#6a6a6a" stroke-width="0.75" />
<line x1="239.6" y1="192.3" x2="239.6" y2="195.2" stroke="#6a6a6a" stroke-width="0.75" />
<line x1="201.5" y1="198.3" x2="209" y2="198.3" stroke="#6a6a6a" stroke-width="0.75" />
<line x1="201.5" y1="198.3" x2="201.5" y2="202.3" stroke="#6a6a6a" stroke-width="0.75" />
<line x1="209" y1="198.3" x2="209" y2="200.6" stroke="#6a6a6a" stroke-width="0.75" />
<line x1="207.5" y1="200.6" x2="211" y2="200.6" stroke="#6a6a6a" stroke-width="0.75" />
<line x1="207.5" y1="200.6" x2="207.5" y2="202.3" stroke="#6a6a6a" stroke-width="0.75" />
<line x1="211" y1="200.6" x2="211" y2="202.3" stroke="#6a6a6a" stroke-width="0.75" />
<line x1="222" y1="195.2" x2="259.5" y2="195.2" stroke="#6a6a6a" stroke-width="0.75" />
<line x1="222" y1="195.2" x2="222" y2="199.2" stroke="#6a6a6a" stroke-width="0.75" />
<line x1="259.5" y1="195.2" x2="259.5" y2="198" stroke="#6a6a6a" stroke-width="0.75" />
<line x1="214" y1="199.2" x2="229.5" y2="199.2" stroke="#6a6a6a" stroke-width="0.75" />
<line x1="214" y1="199.2" x2="214" y2="202.3" stroke="#6a6a6a" stroke-width="0.75" />
<line x1="229.5" y1="199.2" x2="229.5" y2="200.5" stroke="#6a6a6a" stroke-width="0.75" />
<line x1="226" y1="200.5" x2="233" y2="200.5" stroke="#6a6a6a" stroke-width="0.75" />
<line x1="226" y1="200.5" x2="226" y2="202.3" stroke="#6a6a6a" stroke-width="0.75" />
<line x1="233" y1="200.5" x2="233" y2="202.3" stroke="#6a6a6a" stroke-width="0.75" />
<line x1="236" y1="198.6" x2="250" y2="198.6" stroke="#6a6a6a" stroke-width="0.75" />
<line x1="236" y1="198.6" x2="236" y2="202.3" stroke="#6a6a6a" stroke-width="0.75" />
<line x1="250" y1="198.6" x2="250" y2="200.2" stroke="#6a6a6a" stroke-width="0.75" />
<line x1="244" y1="200.2" x2="254" y2="200.2" stroke="#6a6a6a" stroke-width="0.75" />
<line x1="244" y1="200.2" x2="244" y2="202.3" stroke="#6a6a6a" stroke-width="0.75" />
<line x1="254" y1="200.2" x2="254" y2="202.3" stroke="#6a6a6a" stroke-width="0.75" />
<line x1="256.5" y1="198" x2="262.5" y2="198" stroke="#6a6a6a" stroke-width="0.75" />
<line x1="256.5" y1="198" x2="256.5" y2="202.3" stroke="#6a6a6a" stroke-width="0.75" />
<line x1="262.5" y1="198" x2="262.5" y2="202.3" stroke="#6a6a6a" stroke-width="0.75" />
<line x1="88.72" y1="201.4" x2="88.72" y2="202.8" stroke="#8a8a8a" stroke-width="0.5" />
<line x1="92.15" y1="201.4" x2="92.15" y2="202.8" stroke="#8a8a8a" stroke-width="0.5" />
<line x1="95.59" y1="201.4" x2="95.59" y2="202.8" stroke="#8a8a8a" stroke-width="0.5" />
<line x1="99.02" y1="201.4" x2="99.02" y2="202.8" stroke="#8a8a8a" stroke-width="0.5" />
<line x1="102.46" y1="201.4" x2="102.46" y2="202.8" stroke="#8a8a8a" stroke-width="0.5" />
<line x1="105.89" y1="201.4" x2="105.89" y2="202.8" stroke="#8a8a8a" stroke-width="0.5" />
<line x1="109.33" y1="201.4" x2="109.33" y2="202.8" stroke="#8a8a8a" stroke-width="0.5" />
<line x1="112.76" y1="201.4" x2="112.76" y2="202.8" stroke="#8a8a8a" stroke-width="0.5" />
<line x1="116.19" y1="201.4" x2="116.19" y2="202.8" stroke="#8a8a8a" stroke-width="0.5" />
<line x1="119.63" y1="201.4" x2="119.63" y2="202.8" stroke="#8a8a8a" stroke-width="0.5" />
<line x1="123.06" y1="201.4" x2="123.06" y2="202.8" stroke="#8a8a8a" stroke-width="0.5" />
<line x1="126.5" y1="201.4" x2="126.5" y2="202.8" stroke="#8a8a8a" stroke-width="0.5" />
<line x1="129.93" y1="201.4" x2="129.93" y2="202.8" stroke="#8a8a8a" stroke-width="0.5" />
<line x1="133.37" y1="201.4" x2="133.37" y2="202.8" stroke="#8a8a8a" stroke-width="0.5" />
<line x1="136.8" y1="201.4" x2="136.8" y2="202.8" stroke="#8a8a8a" stroke-width="0.5" />
<line x1="140.24" y1="201.4" x2="140.24" y2="202.8" stroke="#8a8a8a" stroke-width="0.5" />
<line x1="143.67" y1="201.4" x2="143.67" y2="202.8" stroke="#8a8a8a" stroke-width="0.5" />
<line x1="147.11" y1="201.4" x2="147.11" y2="202.8" stroke="#8a8a8a" stroke-width="0.5" />
<line x1="150.54" y1="201.4" x2="150.54" y2="202.8" stroke="#8a8a8a" stroke-width="0.5" />
<line x1="153.98" y1="201.4" x2="153.98" y2="202.8" stroke="#8a8a8a" stroke-width="0.5" />
<line x1="157.41" y1="201.4" x2="157.41" y2="202.8" stroke="#8a8a8a" stroke-width="0.5" />
<line x1="160.84" y1="201.4" x2="160.84" y2="202.8" stroke="#8a8a8a" stroke-width="0.5" />
<line x1="164.28" y1="201.4" x2="164.28" y2="202.8" stroke="#8a8a8a" stroke-width="0.5" />
<line x1="167.71" y1="201.4" x2="167.71" y2="202.8" stroke="#8a8a8a" stroke-width="0.5" />
<line x1="171.15" y1="201.4" x2="171.15" y2="202.8" stroke="#8a8a8a" stroke-width="0.5" />
<line x1="174.58" y1="201.4" x2="174.58" y2="202.8" stroke="#8a8a8a" stroke-width="0.5" />
<line x1="178.02" y1="201.4" x2="178.02" y2="202.8" stroke="#8a8a8a" stroke-width="0.5" />
<line x1="181.45" y1="201.4" x2="181.45" y2="202.8" stroke="#8a8a8a" stroke-width="0.5" />
<line x1="184.89" y1="201.4" x2="184.89" y2="202.8" stroke="#8a8a8a" stroke-width="0.5" />
<line x1="188.32" y1="201.4" x2="188.32" y2="202.8" stroke="#8a8a8a" stroke-width="0.5" />
<line x1="191.76" y1="201.4" x2="191.76" y2="202.8" stroke="#8a8a8a" stroke-width="0.5" />
<line x1="195.19" y1="201.4" x2="195.19" y2="202.8" stroke="#8a8a8a" stroke-width="0.5" />
<line x1="198.62" y1="201.4" x2="198.62" y2="202.8" stroke="#8a8a8a" stroke-width="0.5" />
<line x1="202.06" y1="201.4" x2="202.06" y2="202.8" stroke="#8a8a8a" stroke-width="0.5" />
<line x1="205.49" y1="201.4" x2="205.49" y2="202.8" stroke="#8a8a8a" stroke-width="0.5" />
<line x1="208.93" y1="201.4" x2="208.93" y2="202.8" stroke="#8a8a8a" stroke-width="0.5" />
<line x1="212.36" y1="201.4" x2="212.36" y2="202.8" stroke="#8a8a8a" stroke-width="0.5" />
<line x1="215.8" y1="201.4" x2="215.8" y2="202.8" stroke="#8a8a8a" stroke-width="0.5" />
<line x1="219.23" y1="201.4" x2="219.23" y2="202.8" stroke="#8a8a8a" stroke-width="0.5" />
<line x1="222.67" y1="201.4" x2="222.67" y2="202.8" stroke="#8a8a8a" stroke-width="0.5" />
<line x1="226.1" y1="201.4" x2="226.1" y2="202.8" stroke="#8a8a8a" stroke-width="0.5" />
<line x1="229.54" y1="201.4" x2="229.54" y2="202.8" stroke="#8a8a8a" stroke-width="0.5" />
<line x1="232.97" y1="201.4" x2="232.97" y2="202.8" stroke="#8a8a8a" stroke-width="0.5" />
<line x1="236.41" y1="201.4" x2="236.41" y2="202.8" stroke="#8a8a8a" stroke-width="0.5" />
<line x1="239.84" y1="201.4" x2="239.84" y2="202.8" stroke="#8a8a8a" stroke-width="0.5" />
<line x1="243.28" y1="201.4" x2="243.28" y2="202.8" stroke="#8a8a8a" stroke-width="0.5" />
<line x1="246.71" y1="201.4" x2="246.71" y2="202.8" stroke="#8a8a8a" stroke-width="0.5" />
<line x1="250.14" y1="201.4" x2="250.14" y2="202.8" stroke="#8a8a8a" stroke-width="0.5" />
<line x1="253.58" y1="201.4" x2="253.58" y2="202.8" stroke="#8a8a8a" stroke-width="0.5" />
<line x1="257.01" y1="201.4" x2="257.01" y2="202.8" stroke="#8a8a8a" stroke-width="0.5" />
<line x1="260.45" y1="201.4" x2="260.45" y2="202.8" stroke="#8a8a8a" stroke-width="0.5" />
<line x1="263.88" y1="201.4" x2="263.88" y2="202.8" stroke="#8a8a8a" stroke-width="0.5" />
<circle cx="354" cy="238.4" r="35.3" fill="#0a6751" />
<path d="M354 238.4 L387.76 248.72 A35.3 35.3 0 0 0 384.87 221.29 Z" fill="#631c74" stroke="#fff" stroke-width="1.3" stroke-linejoin="miter"/>
<text x="376" y="239.1" font-size="6" text-anchor="middle" fill="#fff" textLength="18.5" lengthAdjust="spacingAndGlyphs" >13±4.6</text>
<circle cx="432" cy="221.5" r="16.7" fill="#0a6751" />
<path d="M432 221.5 L448.7 221.5 A16.7 16.7 0 1 0 416.89 228.61 Z" fill="#631c74" stroke="none" stroke-width="1" />
<line x1="432" y1="221.5" x2="448.7" y2="221.5" stroke="#fff" stroke-width="1.1" />
<line x1="432" y1="221.5" x2="416.89" y2="228.61" stroke="#fff" stroke-width="1.1" />
<circle cx="473" cy="221.5" r="16.7" fill="#0a6751" />
<path d="M473 221.5 L489.7 221.5 A16.7 16.7 0 1 0 457.89 228.61 Z" fill="#631c74" stroke="none" stroke-width="1" />
<line x1="473" y1="221.5" x2="489.7" y2="221.5" stroke="#fff" stroke-width="1.1" />
<line x1="473" y1="221.5" x2="457.89" y2="228.61" stroke="#fff" stroke-width="1.1" />
<circle cx="420.7" cy="264.9" r="13.4" fill="#0a6751" />
<path d="M420.7 264.9 L434.1 264.9 A13.4 13.4 0 1 0 407.33 265.74 Z" fill="#631c74" stroke="none" stroke-width="1" />
<line x1="420.7" y1="264.9" x2="434.1" y2="264.9" stroke="#fff" stroke-width="1.1" />
<line x1="420.7" y1="264.9" x2="407.33" y2="265.74" stroke="#fff" stroke-width="1.1" />
<circle cx="452.4" cy="264.9" r="13.4" fill="#0a6751" />
<path d="M452.4 264.9 L465.8 264.9 A13.4 13.4 0 1 0 439.24 267.41 Z" fill="#631c74" stroke="none" stroke-width="1" />
<line x1="452.4" y1="264.9" x2="465.8" y2="264.9" stroke="#fff" stroke-width="1.1" />
<line x1="452.4" y1="264.9" x2="439.24" y2="267.41" stroke="#fff" stroke-width="1.1" />
<circle cx="484.1" cy="264.9" r="13.4" fill="#0a6751" />
<path d="M484.1 264.9 L497.5 264.9 A13.4 13.4 0 1 0 471.36 269.04 Z" fill="#631c74" stroke="none" stroke-width="1" />
<line x1="484.1" y1="264.9" x2="497.5" y2="264.9" stroke="#fff" stroke-width="1.1" />
<line x1="484.1" y1="264.9" x2="471.36" y2="269.04" stroke="#fff" stroke-width="1.1" />
<text x="431.6" y="217.3" font-size="5.9" text-anchor="middle" fill="#fff" textLength="19" lengthAdjust="spacingAndGlyphs" >57±10.3</text>
<text x="472.6" y="217.3" font-size="5.9" text-anchor="middle" fill="#fff" textLength="19" lengthAdjust="spacingAndGlyphs" >57±10.8</text>
<text x="420.6" y="262.5" font-size="5.9" text-anchor="middle" fill="#fff" textLength="16.5" lengthAdjust="spacingAndGlyphs" >51±8.3</text>
<text x="452.4" y="262.5" font-size="5.9" text-anchor="middle" fill="#fff" textLength="19" lengthAdjust="spacingAndGlyphs" >53±11.4</text>
<text x="484" y="262.5" font-size="5.9" text-anchor="middle" fill="#fff" textLength="19" lengthAdjust="spacingAndGlyphs" >55±10.7</text>
<text x="353.8" y="184.6" font-size="7" text-anchor="middle" fill="#454545" textLength="51.3" lengthAdjust="spacingAndGlyphs" >Clone number (%)</text>
<line x1="328.1" y1="188.8" x2="379.4" y2="188.8" stroke="#444" stroke-width="1.3" />
<text x="452.2" y="184.9" font-size="7" text-anchor="middle" fill="#454545" textLength="71.8" lengthAdjust="spacingAndGlyphs" >Abundance (% Cell Type)</text>
<line x1="416.3" y1="188.8" x2="488.1" y2="188.8" stroke="#444" stroke-width="1.3" />
<text x="432.2" y="200.4" font-size="6.9" text-anchor="middle" fill="#454545" >HSPC</text>
<text x="472.6" y="200.4" font-size="6.9" text-anchor="middle" fill="#454545" >WBC</text>
<text x="420.4" y="247" font-size="6.9" text-anchor="middle" fill="#454545" >HSC</text>
<text x="452.5" y="247" font-size="6.9" text-anchor="middle" fill="#454545" >MPP3</text>
<text x="483.8" y="247" font-size="6.9" text-anchor="middle" fill="#454545" >Gran.</text>
<rect x="327" y="288.1" width="5" height="5.4" fill="#0a6751" />
<text x="336.2" y="293.2" font-size="6.6" text-anchor="start" fill="#454545" textLength="73.8" lengthAdjust="spacingAndGlyphs" >Tet2 KO normally expanded</text>
<rect x="419.5" y="288.1" width="5" height="5.4" fill="#631c74" />
<text x="427.8" y="293.2" font-size="6.6" text-anchor="start" fill="#454545" textLength="61.3" lengthAdjust="spacingAndGlyphs" >Tet2 KO overexpanded</text>
<line x1="47.5" y1="323.8" x2="47.5" y2="403.6" stroke="#1a1a1a" stroke-width="1.1" />
<line x1="47" y1="403.4" x2="129.5" y2="403.4" stroke="#1a1a1a" stroke-width="1.1" />
<line x1="44.9" y1="327.8" x2="47.5" y2="327.8" stroke="#1a1a1a" stroke-width="1" />
<text x="42.2" y="330.2" font-size="6.7" text-anchor="end" fill="#454545" >0.005</text>
<line x1="44.9" y1="342.4" x2="47.5" y2="342.4" stroke="#1a1a1a" stroke-width="1" />
<text x="42.2" y="344.8" font-size="6.7" text-anchor="end" fill="#454545" >0.004</text>
<line x1="44.9" y1="357" x2="47.5" y2="357" stroke="#1a1a1a" stroke-width="1" />
<text x="42.2" y="359.4" font-size="6.7" text-anchor="end" fill="#454545" >0.003</text>
<line x1="44.9" y1="371.6" x2="47.5" y2="371.6" stroke="#1a1a1a" stroke-width="1" />
<text x="42.2" y="374" font-size="6.7" text-anchor="end" fill="#454545" >0.002</text>
<line x1="44.9" y1="386.2" x2="47.5" y2="386.2" stroke="#1a1a1a" stroke-width="1" />
<text x="42.2" y="388.6" font-size="6.7" text-anchor="end" fill="#454545" >0.001</text>
<line x1="44.9" y1="400.8" x2="47.5" y2="400.8" stroke="#1a1a1a" stroke-width="1" />
<text x="42.2" y="403.2" font-size="6.7" text-anchor="end" fill="#454545" >0.000</text>
<text x="87.8" y="318.6" font-size="8.6" text-anchor="middle" fill="#333" textLength="15" lengthAdjust="spacingAndGlyphs" >HSC</text>
<line x1="61.1" y1="403.4" x2="61.1" y2="406.2" stroke="#1a1a1a" stroke-width="1" />
<line x1="88.5" y1="403.4" x2="88.5" y2="406.2" stroke="#1a1a1a" stroke-width="1" />
<line x1="115.9" y1="403.4" x2="115.9" y2="406.2" stroke="#1a1a1a" stroke-width="1" />
<path d="M60.8 386.5 L60.65 388 L60.55 396.5 L60.2 397.9 L59.3 398.6 L57.1 399.05 L53.6 399.35 L50.2 399.65 L50.2 400.55 L54.6 400.85 L60.7 401.15 L61.5 401.15 L67.6 400.85 L72 400.55 L72 399.65 L68.6 399.35 L65.1 399.05 L62.9 398.6 L62 397.9 L61.65 396.5 L61.55 388 L61.4 386.5 Z" fill="#15303c" stroke="#0a0a0a" stroke-width="0.8" stroke-linejoin="round"/>
<path d="M88.2 390.8 L88.05 392.3 L87.95 396.5 L87.6 397.9 L86.7 398.6 L84.5 399.05 L81 399.35 L77.3 399.65 L77.3 400.55 L82 400.85 L88.1 401.15 L88.9 401.15 L95 400.85 L99.7 400.55 L99.7 399.65 L96 399.35 L92.5 399.05 L90.3 398.6 L89.4 397.9 L89.05 396.5 L88.95 392.3 L88.8 390.8 Z" fill="#0e4638" stroke="#0a0a0a" stroke-width="0.8" stroke-linejoin="round"/>
<path d="M115.3 341.1 L115 342.3 L115 362 L114.4 366.02 L113.4 370.13 L112.6 374 L111.7 377.48 L110.5 380.58 L109.1 383.67 L107.7 386.77 L106.4 389.86 L105.4 392.19 L104.9 394.51 L104.9 396.83 L105.9 398.38 L107.9 399.73 L110.9 400.51 L115.3 400.7 L116.5 400.7 L120.9 400.51 L123.9 399.73 L125.9 398.38 L126.9 396.83 L126.9 394.51 L126.4 392.19 L125.4 389.86 L124.1 386.77 L122.7 383.67 L121.3 380.58 L120.1 377.48 L119.2 374 L118.4 370.13 L117.4 366.02 L116.8 362 L116.8 342.3 L116.5 341.1 Z" fill="#5a1a6c" stroke="#0a0a0a" stroke-width="0.8" stroke-linejoin="round"/>
<line x1="115.9" y1="341.6" x2="115.9" y2="399.7" stroke="#111" stroke-width="0.8" />
<line x1="115.9" y1="341.7" x2="115.9" y2="359.1" stroke="#111" stroke-width="1.8" />
<line x1="115.9" y1="378.7" x2="115.9" y2="399.2" stroke="#111" stroke-width="1.6" />
<circle cx="115.9" cy="395.2" r="1.25" fill="#fff" />
<circle cx="61.1" cy="400.1" r="1.2" fill="#fff" stroke="#111" stroke-width="0.4"/>
<circle cx="88.5" cy="400.1" r="1.2" fill="#fff" stroke="#111" stroke-width="0.4"/>
<path d="M61.1 332.2 V330.4 H115.9 V332.2" fill="none" stroke="#222" stroke-width="1" />
<path d="M88.5 339.5 V337.7 H115.9 V339.5" fill="none" stroke="#222" stroke-width="1" />
<text x="88.5" y="330.8" font-size="7" text-anchor="middle" fill="#333" >****</text>
<text x="102.2" y="338.1" font-size="7" text-anchor="middle" fill="#333" >****</text>
<text x="61.9" y="414" font-size="7.4" text-anchor="end" fill="#454545" transform="rotate(-45 61.9 414)" textLength="22.5" lengthAdjust="spacingAndGlyphs" >Control</text>
<text x="77.45" y="433.45" font-size="7.4" text-anchor="middle" fill="#454545" transform="rotate(-45 77.45 433.45)" textLength="55" lengthAdjust="spacingAndGlyphs" >normally expanded</text>
<text x="71.8" y="427.79" font-size="7.4" text-anchor="middle" fill="#454545" transform="rotate(-45 71.8 427.79)" textLength="21" lengthAdjust="spacingAndGlyphs" >Tet2 KO</text>
<text x="109.8" y="428.5" font-size="7.4" text-anchor="middle" fill="#454545" transform="rotate(-45 109.8 428.5)" textLength="41" lengthAdjust="spacingAndGlyphs" >overexpanded</text>
<text x="104.15" y="422.84" font-size="7.4" text-anchor="middle" fill="#454545" transform="rotate(-45 104.15 422.84)" textLength="21" lengthAdjust="spacingAndGlyphs" >Tet2 KO</text>
<text x="20.6" y="363.6" font-size="7.8" text-anchor="middle" fill="#454545" transform="rotate(-90 20.6 363.6)" textLength="75" lengthAdjust="spacingAndGlyphs" >Clonal abundance (% MNC)</text>
<line x1="157.6" y1="323.8" x2="157.6" y2="403.6" stroke="#1a1a1a" stroke-width="1.1" />
<line x1="157.1" y1="403.4" x2="238.6" y2="403.4" stroke="#1a1a1a" stroke-width="1.1" />
<line x1="155" y1="327" x2="157.6" y2="327" stroke="#1a1a1a" stroke-width="1" />
<text x="152.2" y="329.4" font-size="6.7" text-anchor="end" fill="#454545" >0.06</text>
<line x1="155" y1="339.3" x2="157.6" y2="339.3" stroke="#1a1a1a" stroke-width="1" />
<text x="152.2" y="341.7" font-size="6.7" text-anchor="end" fill="#454545" >0.05</text>
<line x1="155" y1="351.6" x2="157.6" y2="351.6" stroke="#1a1a1a" stroke-width="1" />
<text x="152.2" y="354" font-size="6.7" text-anchor="end" fill="#454545" >0.04</text>
<line x1="155" y1="363.9" x2="157.6" y2="363.9" stroke="#1a1a1a" stroke-width="1" />
<text x="152.2" y="366.3" font-size="6.7" text-anchor="end" fill="#454545" >0.03</text>
<line x1="155" y1="376.2" x2="157.6" y2="376.2" stroke="#1a1a1a" stroke-width="1" />
<text x="152.2" y="378.6" font-size="6.7" text-anchor="end" fill="#454545" >0.02</text>
<line x1="155" y1="388.5" x2="157.6" y2="388.5" stroke="#1a1a1a" stroke-width="1" />
<text x="152.2" y="390.9" font-size="6.7" text-anchor="end" fill="#454545" >0.01</text>
<line x1="155" y1="400.8" x2="157.6" y2="400.8" stroke="#1a1a1a" stroke-width="1" />
<text x="152.2" y="403.2" font-size="6.7" text-anchor="end" fill="#454545" >0.00</text>
<text x="194.4" y="318.6" font-size="8.6" text-anchor="middle" fill="#333" textLength="20.5" lengthAdjust="spacingAndGlyphs" >MPP3</text>
<line x1="171" y1="403.4" x2="171" y2="406.2" stroke="#1a1a1a" stroke-width="1" />
<line x1="198.3" y1="403.4" x2="198.3" y2="406.2" stroke="#1a1a1a" stroke-width="1" />
<line x1="225.9" y1="403.4" x2="225.9" y2="406.2" stroke="#1a1a1a" stroke-width="1" />
<path d="M170.7 389.2 L170.55 390.7 L170.45 396.5 L170.1 397.9 L169.2 398.6 L167 399.05 L163.5 399.35 L160.7 399.65 L160.7 400.55 L164.5 400.85 L170.6 401.15 L171.4 401.15 L177.5 400.85 L181.3 400.55 L181.3 399.65 L178.5 399.35 L175 399.05 L172.8 398.6 L171.9 397.9 L171.55 396.5 L171.45 390.7 L171.3 389.2 Z" fill="#15303c" stroke="#0a0a0a" stroke-width="0.8" stroke-linejoin="round"/>
<path d="M198 392 L197.85 393.5 L197.75 396.5 L197.4 397.9 L196.5 398.6 L194.3 399.05 L190.8 399.35 L187.1 399.65 L187.1 400.55 L191.8 400.85 L197.9 401.15 L198.7 401.15 L204.8 400.85 L209.5 400.55 L209.5 399.65 L205.8 399.35 L202.3 399.05 L200.1 398.6 L199.2 397.9 L198.85 396.5 L198.75 393.5 L198.6 392 Z" fill="#0e4638" stroke="#0a0a0a" stroke-width="0.8" stroke-linejoin="round"/>
<path d="M225.3 341.1 L225 342.3 L225 372.5 L224.4 375.43 L223.4 378.42 L222.6 381.24 L221.7 383.78 L220.5 386.04 L219.1 388.29 L217.7 390.55 L216.4 392.8 L215.4 394.5 L214.9 396.19 L214.9 397.88 L215.9 399.01 L217.9 400 L220.9 400.56 L225.3 400.7 L226.5 400.7 L230.9 400.56 L233.9 400 L235.9 399.01 L236.9 397.88 L236.9 396.19 L236.4 394.5 L235.4 392.8 L234.1 390.55 L232.7 388.29 L231.3 386.04 L230.1 383.78 L229.2 381.24 L228.4 378.42 L227.4 375.43 L226.8 372.5 L226.8 342.3 L226.5 341.1 Z" fill="#5a1a6c" stroke="#0a0a0a" stroke-width="0.8" stroke-linejoin="round"/>
<line x1="225.9" y1="341.6" x2="225.9" y2="399.7" stroke="#111" stroke-width="0.8" />
<line x1="225.9" y1="341.7" x2="225.9" y2="353.1" stroke="#111" stroke-width="2.4" />
<line x1="225.9" y1="378.7" x2="225.9" y2="399.2" stroke="#111" stroke-width="1.6" />
<circle cx="225.9" cy="395.2" r="1.25" fill="#fff" />
<circle cx="171" cy="400.1" r="1.2" fill="#fff" stroke="#111" stroke-width="0.4"/>
<circle cx="198.3" cy="400.1" r="1.2" fill="#fff" stroke="#111" stroke-width="0.4"/>
<path d="M171 332.2 V330.4 H225.9 V332.2" fill="none" stroke="#222" stroke-width="1" />
<path d="M198.3 339.5 V337.7 H225.9 V339.5" fill="none" stroke="#222" stroke-width="1" />
<text x="198.45" y="330.8" font-size="7" text-anchor="middle" fill="#333" >****</text>
<text x="212.1" y="338.1" font-size="7" text-anchor="middle" fill="#333" >****</text>
<text x="171.8" y="414" font-size="7.4" text-anchor="end" fill="#454545" transform="rotate(-45 171.8 414)" textLength="22.5" lengthAdjust="spacingAndGlyphs" >Control</text>
<text x="187.25" y="433.45" font-size="7.4" text-anchor="middle" fill="#454545" transform="rotate(-45 187.25 433.45)" textLength="55" lengthAdjust="spacingAndGlyphs" >normally expanded</text>
<text x="181.6" y="427.79" font-size="7.4" text-anchor="middle" fill="#454545" transform="rotate(-45 181.6 427.79)" textLength="21" lengthAdjust="spacingAndGlyphs" >Tet2 KO</text>
<text x="219.8" y="428.5" font-size="7.4" text-anchor="middle" fill="#454545" transform="rotate(-45 219.8 428.5)" textLength="41" lengthAdjust="spacingAndGlyphs" >overexpanded</text>
<text x="214.15" y="422.84" font-size="7.4" text-anchor="middle" fill="#454545" transform="rotate(-45 214.15 422.84)" textLength="21" lengthAdjust="spacingAndGlyphs" >Tet2 KO</text>
<line x1="263" y1="323.8" x2="263" y2="403.6" stroke="#1a1a1a" stroke-width="1.1" />
<line x1="262.5" y1="403.4" x2="346.8" y2="403.4" stroke="#1a1a1a" stroke-width="1.1" />
<line x1="260.4" y1="335.5" x2="263" y2="335.5" stroke="#1a1a1a" stroke-width="1" />
<text x="258.8" y="337.9" font-size="6.7" text-anchor="end" fill="#454545" >1.0</text>
<line x1="260.4" y1="348.6" x2="263" y2="348.6" stroke="#1a1a1a" stroke-width="1" />
<text x="258.8" y="351" font-size="6.7" text-anchor="end" fill="#454545" >0.8</text>
<line x1="260.4" y1="361.6" x2="263" y2="361.6" stroke="#1a1a1a" stroke-width="1" />
<text x="258.8" y="364" font-size="6.7" text-anchor="end" fill="#454545" >0.6</text>
<line x1="260.4" y1="374.7" x2="263" y2="374.7" stroke="#1a1a1a" stroke-width="1" />
<text x="258.8" y="377.1" font-size="6.7" text-anchor="end" fill="#454545" >0.4</text>
<line x1="260.4" y1="387.7" x2="263" y2="387.7" stroke="#1a1a1a" stroke-width="1" />
<text x="258.8" y="390.1" font-size="6.7" text-anchor="end" fill="#454545" >0.2</text>
<line x1="260.4" y1="400.8" x2="263" y2="400.8" stroke="#1a1a1a" stroke-width="1" />
<text x="258.8" y="403.2" font-size="6.7" text-anchor="end" fill="#454545" >0.0</text>
<text x="305.3" y="318.6" font-size="8.6" text-anchor="middle" fill="#333" textLength="42.4" lengthAdjust="spacingAndGlyphs" >Granulocyte</text>
<line x1="277.2" y1="403.4" x2="277.2" y2="406.2" stroke="#1a1a1a" stroke-width="1" />
<line x1="305" y1="403.4" x2="305" y2="406.2" stroke="#1a1a1a" stroke-width="1" />
<line x1="332.4" y1="403.4" x2="332.4" y2="406.2" stroke="#1a1a1a" stroke-width="1" />
<path d="M276.9 392.3 L276.75 393.8 L276.65 396.5 L276.3 397.9 L275.4 398.6 L273.2 399.05 L269.7 399.35 L267 399.65 L267 400.55 L270.7 400.85 L276.8 401.15 L277.6 401.15 L283.7 400.85 L287.4 400.55 L287.4 399.65 L284.7 399.35 L281.2 399.05 L279 398.6 L278.1 397.9 L277.75 396.5 L277.65 393.8 L277.5 392.3 Z" fill="#15303c" stroke="#0a0a0a" stroke-width="0.8" stroke-linejoin="round"/>
<path d="M304.7 394.7 L304.55 396.2 L304.45 396.5 L304.1 397.9 L303.2 398.6 L301 399.05 L297.5 399.35 L294 399.65 L294 400.55 L298.5 400.85 L304.6 401.15 L305.4 401.15 L311.5 400.85 L316 400.55 L316 399.65 L312.5 399.35 L309 399.05 L306.8 398.6 L305.9 397.9 L305.55 396.5 L305.45 396.2 L305.3 394.7 Z" fill="#0e4638" stroke="#0a0a0a" stroke-width="0.8" stroke-linejoin="round"/>
<path d="M331.8 340.8 L331.5 342 L331.5 374.5 L330.9 377.21 L329.9 379.98 L329.1 382.59 L328.2 384.94 L327 387.03 L325.6 389.12 L324.2 391.2 L322.9 393.29 L321.9 394.86 L321.4 396.42 L321.4 397.99 L322.4 399.03 L324.4 399.95 L327.4 400.47 L331.8 400.6 L333 400.6 L337.4 400.47 L340.4 399.95 L342.4 399.03 L343.4 397.99 L343.4 396.42 L342.9 394.86 L341.9 393.29 L340.6 391.2 L339.2 389.12 L337.8 387.03 L336.6 384.94 L335.7 382.59 L334.9 379.98 L333.9 377.21 L333.3 374.5 L333.3 342 L333 340.8 Z" fill="#5a1a6c" stroke="#0a0a0a" stroke-width="0.8" stroke-linejoin="round"/>
<line x1="332.4" y1="341.3" x2="332.4" y2="399.6" stroke="#111" stroke-width="0.8" />
<line x1="332.4" y1="341.4" x2="332.4" y2="364.8" stroke="#111" stroke-width="2" />
<line x1="332.4" y1="378.6" x2="332.4" y2="399.1" stroke="#111" stroke-width="1.6" />
<circle cx="332.4" cy="395.1" r="1.25" fill="#fff" />
<circle cx="277.2" cy="400.1" r="1.2" fill="#fff" stroke="#111" stroke-width="0.4"/>
<circle cx="305" cy="400.1" r="1.2" fill="#fff" stroke="#111" stroke-width="0.4"/>
<path d="M277.2 332.2 V330.4 H332.4 V332.2" fill="none" stroke="#222" stroke-width="1" />
<path d="M305 339.5 V337.7 H332.4 V339.5" fill="none" stroke="#222" stroke-width="1" />
<text x="304.8" y="330.8" font-size="7" text-anchor="middle" fill="#333" >****</text>
<text x="318.7" y="338.1" font-size="7" text-anchor="middle" fill="#333" >****</text>
<text x="278" y="414" font-size="7.4" text-anchor="end" fill="#454545" transform="rotate(-45 278 414)" textLength="22.5" lengthAdjust="spacingAndGlyphs" >Control</text>
<text x="293.95" y="433.45" font-size="7.4" text-anchor="middle" fill="#454545" transform="rotate(-45 293.95 433.45)" textLength="55" lengthAdjust="spacingAndGlyphs" >normally expanded</text>
<text x="288.3" y="427.79" font-size="7.4" text-anchor="middle" fill="#454545" transform="rotate(-45 288.3 427.79)" textLength="21" lengthAdjust="spacingAndGlyphs" >Tet2 KO</text>
<text x="326.3" y="428.5" font-size="7.4" text-anchor="middle" fill="#454545" transform="rotate(-45 326.3 428.5)" textLength="41" lengthAdjust="spacingAndGlyphs" >overexpanded</text>
<text x="320.65" y="422.84" font-size="7.4" text-anchor="middle" fill="#454545" transform="rotate(-45 320.65 422.84)" textLength="21" lengthAdjust="spacingAndGlyphs" >Tet2 KO</text>
<line x1="397.2" y1="326" x2="397.2" y2="401.9" stroke="#1a1a1a" stroke-width="1.1" />
<line x1="396.7" y1="401.4" x2="511.5" y2="401.4" stroke="#1a1a1a" stroke-width="1.1" />
<line x1="394.6" y1="335.6" x2="397.2" y2="335.6" stroke="#1a1a1a" stroke-width="1" />
<text x="392.8" y="338" font-size="6.7" text-anchor="end" fill="#454545" >0.15</text>
<line x1="394.6" y1="357.5" x2="397.2" y2="357.5" stroke="#1a1a1a" stroke-width="1" />
<text x="392.8" y="359.9" font-size="6.7" text-anchor="end" fill="#454545" >0.10</text>
<line x1="394.6" y1="379.5" x2="397.2" y2="379.5" stroke="#1a1a1a" stroke-width="1" />
<text x="392.8" y="381.9" font-size="6.7" text-anchor="end" fill="#454545" >0.05</text>
<line x1="402" y1="401.4" x2="402" y2="404" stroke="#1a1a1a" stroke-width="1" />
<text x="402.4" y="412.8" font-size="6.8" text-anchor="middle" fill="#454545" >4</text>
<line x1="437.4" y1="401.4" x2="437.4" y2="404" stroke="#1a1a1a" stroke-width="1" />
<text x="437.8" y="412.8" font-size="6.8" text-anchor="middle" fill="#454545" >5</text>
<line x1="472.9" y1="401.4" x2="472.9" y2="404" stroke="#1a1a1a" stroke-width="1" />
<text x="473.3" y="412.8" font-size="6.8" text-anchor="middle" fill="#454545" >6</text>
<line x1="508.5" y1="401.4" x2="508.5" y2="404" stroke="#1a1a1a" stroke-width="1" />
<text x="508.9" y="412.8" font-size="6.8" text-anchor="middle" fill="#454545" >7</text>
<text x="455" y="424.8" font-size="8.8" text-anchor="middle" fill="#454545" textLength="76" lengthAdjust="spacingAndGlyphs" >Month post transplantation</text>
<text x="455.2" y="318.6" font-size="8.6" text-anchor="middle" fill="#333" textLength="44.4" lengthAdjust="spacingAndGlyphs" >Granulocyte</text>
<text x="373.4" y="363" font-size="8.2" text-anchor="middle" fill="#454545" transform="rotate(-90 373.4 363)" textLength="76" lengthAdjust="spacingAndGlyphs" >Clonal abundance (% MNC)</text>
<path d="M402 368.1 L437.4 329.1 L472.9 348.8 L508.5 360.9 L508.5 372.4 L472.9 362.1 L437.4 348.4 L402 381.3 Z" fill="#c9b2d4" stroke="none" stroke-width="1" />
<path d="M402 375.3 L437.4 339.2 L472.9 355.6 L508.5 366.9" fill="none" stroke="#5b2a6a" stroke-width="1.3" />
<path d="M402 395 L437.4 394 L472.9 396.3 L508.5 397.3" fill="none" stroke="#2a8a7a" stroke-width="1.2" />
<path d="M402 396 L437.4 394 L472.9 393.3 L508.5 392.6" fill="none" stroke="#1f4f70" stroke-width="1.3" />
<rect x="397" y="429.6" width="5" height="5" fill="#1f4f72" />
<text x="405.5" y="434.3" font-size="6.6" text-anchor="start" fill="#454545" textLength="20.3" lengthAdjust="spacingAndGlyphs" >Control</text>
<rect x="397" y="439" width="5" height="5" fill="#11664f" />
<text x="405.5" y="443.7" font-size="6.6" text-anchor="start" fill="#454545" textLength="74" lengthAdjust="spacingAndGlyphs" >Tet2 KO normally expanded</text>
<rect x="397" y="448.4" width="5" height="5" fill="#5a1f6c" />
<text x="405.5" y="453.1" font-size="6.6" text-anchor="start" fill="#454545" textLength="60.8" lengthAdjust="spacingAndGlyphs" >Tet2 KO overexpanded</text>
<rect x="0.5" y="0.5" width="519" height="460" fill="none" stroke="#555" stroke-width="1"/>
</svg>
</body></html>
